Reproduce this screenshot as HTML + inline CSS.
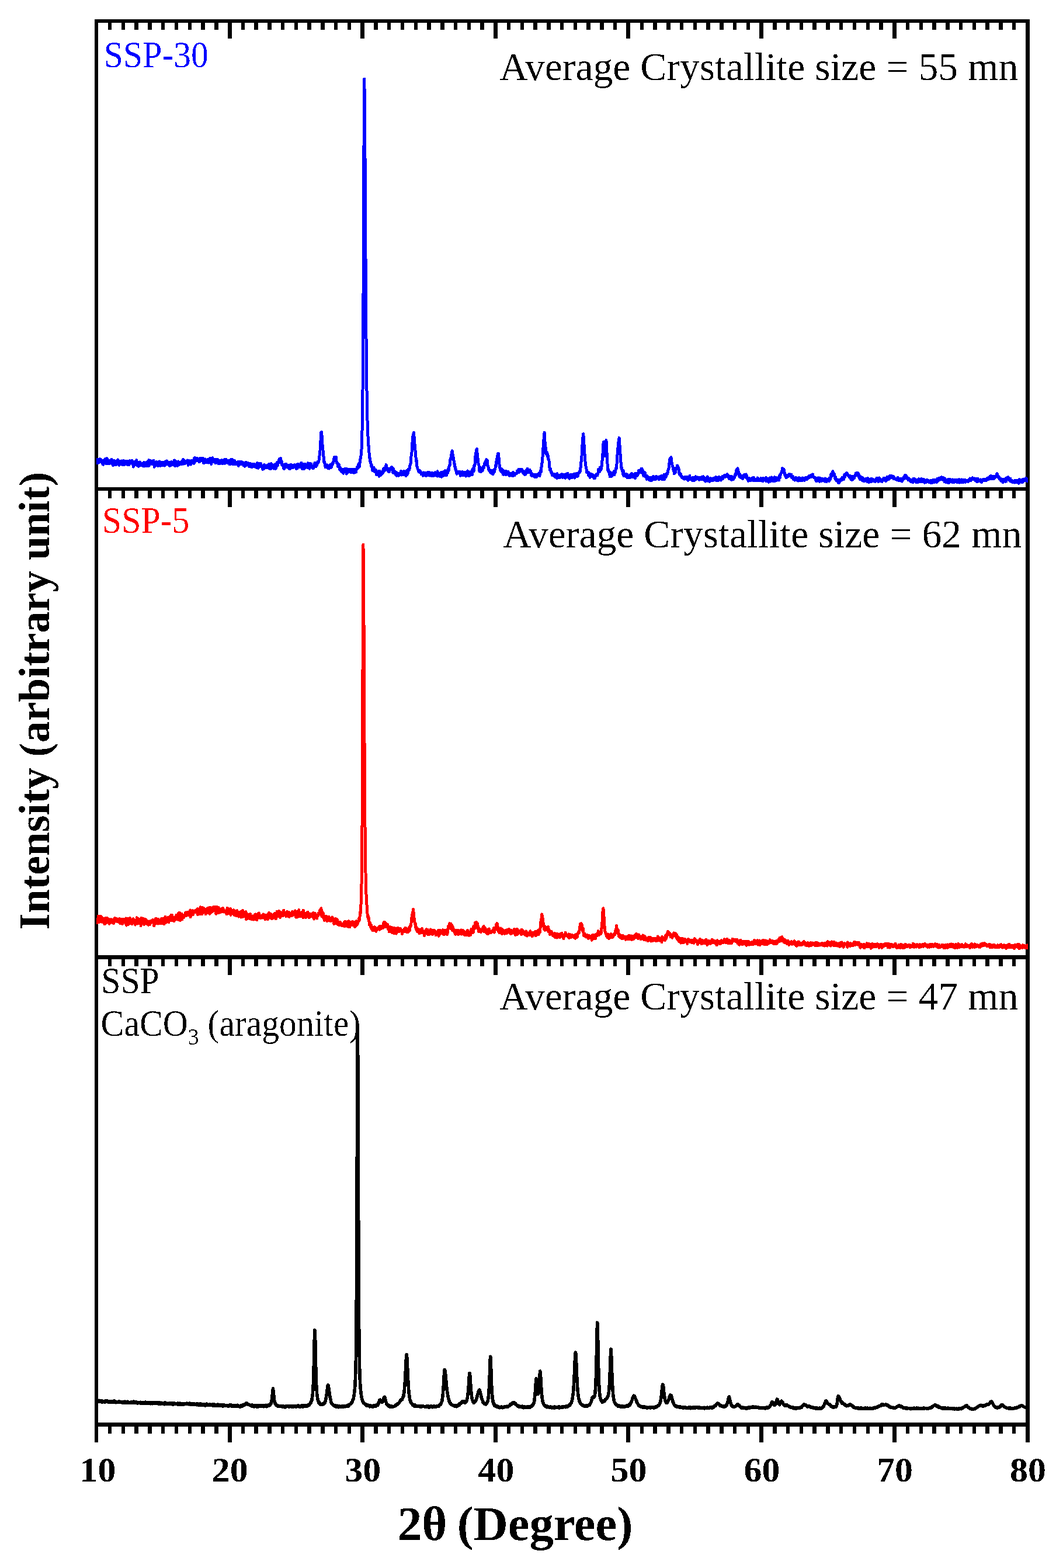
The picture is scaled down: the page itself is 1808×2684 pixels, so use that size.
<!DOCTYPE html>
<html lang="en"><head><meta charset="utf-8"><title>XRD patterns</title>
<style>
html,body{margin:0;padding:0;background:#fff;}
svg{display:block;}
text{font-family:"Liberation Serif",serif;}
.b{font-weight:bold;}
</style></head><body>
<svg width="1808" height="2684" viewBox="0 0 1808 2684">
<rect x="0" y="0" width="1808" height="2684" fill="#fff"/>
<g fill="#000" shape-rendering="crispEdges">
<rect x="162" y="33" width="1601" height="6"/><rect x="162" y="834" width="1601" height="6"/><rect x="162" y="1635" width="1601" height="7"/><rect x="162" y="2435" width="1601" height="7"/>
<rect x="162" y="33" width="6" height="2436"/><rect x="1756" y="33" width="7" height="2436"/>
<rect x="185" y="33" width="6" height="18"/><rect x="208" y="33" width="6" height="18"/><rect x="230" y="33" width="7" height="18"/><rect x="253" y="33" width="7" height="18"/><rect x="276" y="33" width="6" height="18"/><rect x="299" y="33" width="6" height="18"/><rect x="322" y="33" width="6" height="18"/><rect x="344" y="33" width="7" height="18"/><rect x="367" y="33" width="7" height="18"/><rect x="390" y="33" width="7" height="33"/><rect x="413" y="33" width="6" height="18"/><rect x="435" y="33" width="7" height="18"/><rect x="458" y="33" width="7" height="18"/><rect x="481" y="33" width="6" height="18"/><rect x="504" y="33" width="6" height="18"/><rect x="526" y="33" width="7" height="18"/><rect x="549" y="33" width="7" height="18"/><rect x="572" y="33" width="6" height="18"/><rect x="595" y="33" width="6" height="18"/><rect x="617" y="33" width="7" height="33"/><rect x="640" y="33" width="7" height="18"/><rect x="663" y="33" width="6" height="18"/><rect x="686" y="33" width="6" height="18"/><rect x="709" y="33" width="6" height="18"/><rect x="731" y="33" width="7" height="18"/><rect x="754" y="33" width="7" height="18"/><rect x="777" y="33" width="6" height="18"/><rect x="800" y="33" width="6" height="18"/><rect x="822" y="33" width="7" height="18"/><rect x="845" y="33" width="7" height="33"/><rect x="868" y="33" width="6" height="18"/><rect x="891" y="33" width="6" height="18"/><rect x="913" y="33" width="7" height="18"/><rect x="936" y="33" width="7" height="18"/><rect x="959" y="33" width="6" height="18"/><rect x="982" y="33" width="6" height="18"/><rect x="1004" y="33" width="7" height="18"/><rect x="1027" y="33" width="7" height="18"/><rect x="1050" y="33" width="6" height="18"/><rect x="1072" y="33" width="7" height="33"/><rect x="1096" y="33" width="6" height="18"/><rect x="1118" y="33" width="7" height="18"/><rect x="1141" y="33" width="7" height="18"/><rect x="1164" y="33" width="6" height="18"/><rect x="1187" y="33" width="6" height="18"/><rect x="1209" y="33" width="7" height="18"/><rect x="1232" y="33" width="7" height="18"/><rect x="1255" y="33" width="6" height="18"/><rect x="1278" y="33" width="6" height="18"/><rect x="1300" y="33" width="7" height="33"/><rect x="1323" y="33" width="7" height="18"/><rect x="1346" y="33" width="6" height="18"/><rect x="1369" y="33" width="6" height="18"/><rect x="1391" y="33" width="7" height="18"/><rect x="1414" y="33" width="7" height="18"/><rect x="1437" y="33" width="6" height="18"/><rect x="1460" y="33" width="6" height="18"/><rect x="1483" y="33" width="6" height="18"/><rect x="1505" y="33" width="7" height="18"/><rect x="1528" y="33" width="7" height="33"/><rect x="1551" y="33" width="6" height="18"/><rect x="1574" y="33" width="6" height="18"/><rect x="1596" y="33" width="7" height="18"/><rect x="1619" y="33" width="7" height="18"/><rect x="1642" y="33" width="6" height="18"/><rect x="1665" y="33" width="6" height="18"/><rect x="1687" y="33" width="7" height="18"/><rect x="1710" y="33" width="7" height="18"/><rect x="1733" y="33" width="6" height="18"/>
<rect x="185" y="834" width="6" height="19"/><rect x="208" y="834" width="6" height="19"/><rect x="230" y="834" width="7" height="19"/><rect x="253" y="834" width="7" height="19"/><rect x="276" y="834" width="6" height="19"/><rect x="299" y="834" width="6" height="19"/><rect x="322" y="834" width="6" height="19"/><rect x="344" y="834" width="7" height="19"/><rect x="367" y="834" width="7" height="19"/><rect x="390" y="834" width="7" height="34"/><rect x="413" y="834" width="6" height="19"/><rect x="435" y="834" width="7" height="19"/><rect x="458" y="834" width="7" height="19"/><rect x="481" y="834" width="6" height="19"/><rect x="504" y="834" width="6" height="19"/><rect x="526" y="834" width="7" height="19"/><rect x="549" y="834" width="7" height="19"/><rect x="572" y="834" width="6" height="19"/><rect x="595" y="834" width="6" height="19"/><rect x="617" y="834" width="7" height="34"/><rect x="640" y="834" width="7" height="19"/><rect x="663" y="834" width="6" height="19"/><rect x="686" y="834" width="6" height="19"/><rect x="709" y="834" width="6" height="19"/><rect x="731" y="834" width="7" height="19"/><rect x="754" y="834" width="7" height="19"/><rect x="777" y="834" width="6" height="19"/><rect x="800" y="834" width="6" height="19"/><rect x="822" y="834" width="7" height="19"/><rect x="845" y="834" width="7" height="34"/><rect x="868" y="834" width="6" height="19"/><rect x="891" y="834" width="6" height="19"/><rect x="913" y="834" width="7" height="19"/><rect x="936" y="834" width="7" height="19"/><rect x="959" y="834" width="6" height="19"/><rect x="982" y="834" width="6" height="19"/><rect x="1004" y="834" width="7" height="19"/><rect x="1027" y="834" width="7" height="19"/><rect x="1050" y="834" width="6" height="19"/><rect x="1072" y="834" width="7" height="34"/><rect x="1096" y="834" width="6" height="19"/><rect x="1118" y="834" width="7" height="19"/><rect x="1141" y="834" width="7" height="19"/><rect x="1164" y="834" width="6" height="19"/><rect x="1187" y="834" width="6" height="19"/><rect x="1209" y="834" width="7" height="19"/><rect x="1232" y="834" width="7" height="19"/><rect x="1255" y="834" width="6" height="19"/><rect x="1278" y="834" width="6" height="19"/><rect x="1300" y="834" width="7" height="34"/><rect x="1323" y="834" width="7" height="19"/><rect x="1346" y="834" width="6" height="19"/><rect x="1369" y="834" width="6" height="19"/><rect x="1391" y="834" width="7" height="19"/><rect x="1414" y="834" width="7" height="19"/><rect x="1437" y="834" width="6" height="19"/><rect x="1460" y="834" width="6" height="19"/><rect x="1483" y="834" width="6" height="19"/><rect x="1505" y="834" width="7" height="19"/><rect x="1528" y="834" width="7" height="34"/><rect x="1551" y="834" width="6" height="19"/><rect x="1574" y="834" width="6" height="19"/><rect x="1596" y="834" width="7" height="19"/><rect x="1619" y="834" width="7" height="19"/><rect x="1642" y="834" width="6" height="19"/><rect x="1665" y="834" width="6" height="19"/><rect x="1687" y="834" width="7" height="19"/><rect x="1710" y="834" width="7" height="19"/><rect x="1733" y="834" width="6" height="19"/>
<rect x="185" y="1635" width="6" height="19"/><rect x="208" y="1635" width="6" height="19"/><rect x="230" y="1635" width="7" height="19"/><rect x="253" y="1635" width="7" height="19"/><rect x="276" y="1635" width="6" height="19"/><rect x="299" y="1635" width="6" height="19"/><rect x="322" y="1635" width="6" height="19"/><rect x="344" y="1635" width="7" height="19"/><rect x="367" y="1635" width="7" height="19"/><rect x="390" y="1635" width="7" height="34"/><rect x="413" y="1635" width="6" height="19"/><rect x="435" y="1635" width="7" height="19"/><rect x="458" y="1635" width="7" height="19"/><rect x="481" y="1635" width="6" height="19"/><rect x="504" y="1635" width="6" height="19"/><rect x="526" y="1635" width="7" height="19"/><rect x="549" y="1635" width="7" height="19"/><rect x="572" y="1635" width="6" height="19"/><rect x="595" y="1635" width="6" height="19"/><rect x="617" y="1635" width="7" height="34"/><rect x="640" y="1635" width="7" height="19"/><rect x="663" y="1635" width="6" height="19"/><rect x="686" y="1635" width="6" height="19"/><rect x="709" y="1635" width="6" height="19"/><rect x="731" y="1635" width="7" height="19"/><rect x="754" y="1635" width="7" height="19"/><rect x="777" y="1635" width="6" height="19"/><rect x="800" y="1635" width="6" height="19"/><rect x="822" y="1635" width="7" height="19"/><rect x="845" y="1635" width="7" height="34"/><rect x="868" y="1635" width="6" height="19"/><rect x="891" y="1635" width="6" height="19"/><rect x="913" y="1635" width="7" height="19"/><rect x="936" y="1635" width="7" height="19"/><rect x="959" y="1635" width="6" height="19"/><rect x="982" y="1635" width="6" height="19"/><rect x="1004" y="1635" width="7" height="19"/><rect x="1027" y="1635" width="7" height="19"/><rect x="1050" y="1635" width="6" height="19"/><rect x="1072" y="1635" width="7" height="34"/><rect x="1096" y="1635" width="6" height="19"/><rect x="1118" y="1635" width="7" height="19"/><rect x="1141" y="1635" width="7" height="19"/><rect x="1164" y="1635" width="6" height="19"/><rect x="1187" y="1635" width="6" height="19"/><rect x="1209" y="1635" width="7" height="19"/><rect x="1232" y="1635" width="7" height="19"/><rect x="1255" y="1635" width="6" height="19"/><rect x="1278" y="1635" width="6" height="19"/><rect x="1300" y="1635" width="7" height="34"/><rect x="1323" y="1635" width="7" height="19"/><rect x="1346" y="1635" width="6" height="19"/><rect x="1369" y="1635" width="6" height="19"/><rect x="1391" y="1635" width="7" height="19"/><rect x="1414" y="1635" width="7" height="19"/><rect x="1437" y="1635" width="6" height="19"/><rect x="1460" y="1635" width="6" height="19"/><rect x="1483" y="1635" width="6" height="19"/><rect x="1505" y="1635" width="7" height="19"/><rect x="1528" y="1635" width="7" height="34"/><rect x="1551" y="1635" width="6" height="19"/><rect x="1574" y="1635" width="6" height="19"/><rect x="1596" y="1635" width="7" height="19"/><rect x="1619" y="1635" width="7" height="19"/><rect x="1642" y="1635" width="6" height="19"/><rect x="1665" y="1635" width="6" height="19"/><rect x="1687" y="1635" width="7" height="19"/><rect x="1710" y="1635" width="7" height="19"/><rect x="1733" y="1635" width="6" height="19"/>
<rect x="185" y="2435" width="6" height="19"/><rect x="208" y="2435" width="6" height="19"/><rect x="230" y="2435" width="7" height="19"/><rect x="253" y="2435" width="7" height="19"/><rect x="276" y="2435" width="6" height="19"/><rect x="299" y="2435" width="6" height="19"/><rect x="322" y="2435" width="6" height="19"/><rect x="344" y="2435" width="7" height="19"/><rect x="367" y="2435" width="7" height="19"/><rect x="390" y="2435" width="7" height="34"/><rect x="413" y="2435" width="6" height="19"/><rect x="435" y="2435" width="7" height="19"/><rect x="458" y="2435" width="7" height="19"/><rect x="481" y="2435" width="6" height="19"/><rect x="504" y="2435" width="6" height="19"/><rect x="526" y="2435" width="7" height="19"/><rect x="549" y="2435" width="7" height="19"/><rect x="572" y="2435" width="6" height="19"/><rect x="595" y="2435" width="6" height="19"/><rect x="617" y="2435" width="7" height="34"/><rect x="640" y="2435" width="7" height="19"/><rect x="663" y="2435" width="6" height="19"/><rect x="686" y="2435" width="6" height="19"/><rect x="709" y="2435" width="6" height="19"/><rect x="731" y="2435" width="7" height="19"/><rect x="754" y="2435" width="7" height="19"/><rect x="777" y="2435" width="6" height="19"/><rect x="800" y="2435" width="6" height="19"/><rect x="822" y="2435" width="7" height="19"/><rect x="845" y="2435" width="7" height="34"/><rect x="868" y="2435" width="6" height="19"/><rect x="891" y="2435" width="6" height="19"/><rect x="913" y="2435" width="7" height="19"/><rect x="936" y="2435" width="7" height="19"/><rect x="959" y="2435" width="6" height="19"/><rect x="982" y="2435" width="6" height="19"/><rect x="1004" y="2435" width="7" height="19"/><rect x="1027" y="2435" width="7" height="19"/><rect x="1050" y="2435" width="6" height="19"/><rect x="1072" y="2435" width="7" height="34"/><rect x="1096" y="2435" width="6" height="19"/><rect x="1118" y="2435" width="7" height="19"/><rect x="1141" y="2435" width="7" height="19"/><rect x="1164" y="2435" width="6" height="19"/><rect x="1187" y="2435" width="6" height="19"/><rect x="1209" y="2435" width="7" height="19"/><rect x="1232" y="2435" width="7" height="19"/><rect x="1255" y="2435" width="6" height="19"/><rect x="1278" y="2435" width="6" height="19"/><rect x="1300" y="2435" width="7" height="34"/><rect x="1323" y="2435" width="7" height="19"/><rect x="1346" y="2435" width="6" height="19"/><rect x="1369" y="2435" width="6" height="19"/><rect x="1391" y="2435" width="7" height="19"/><rect x="1414" y="2435" width="7" height="19"/><rect x="1437" y="2435" width="6" height="19"/><rect x="1460" y="2435" width="6" height="19"/><rect x="1483" y="2435" width="6" height="19"/><rect x="1505" y="2435" width="7" height="19"/><rect x="1528" y="2435" width="7" height="34"/><rect x="1551" y="2435" width="6" height="19"/><rect x="1574" y="2435" width="6" height="19"/><rect x="1596" y="2435" width="7" height="19"/><rect x="1619" y="2435" width="7" height="19"/><rect x="1642" y="2435" width="6" height="19"/><rect x="1665" y="2435" width="6" height="19"/><rect x="1687" y="2435" width="7" height="19"/><rect x="1710" y="2435" width="7" height="19"/><rect x="1733" y="2435" width="6" height="19"/>
</g>
<defs><filter id="bin" x="-5%" y="-5%" width="110%" height="110%" color-interpolation-filters="sRGB"><feComponentTransfer><feFuncA type="discrete" tableValues="0 0 1 1"/></feComponentTransfer></filter><filter id="thin" x="-5%" y="-5%" width="110%" height="110%" color-interpolation-filters="sRGB"><feComponentTransfer><feFuncA type="discrete" tableValues="0 0 0 1 1"/></feComponentTransfer></filter></defs>

<g font-size="63.5px" filter="url(#thin)">
<text transform="translate(177.8 114.6) scale(0.94 1)" fill="#0000ff">SSP-30</text>
<text transform="translate(175 911.6) scale(0.94 1)" fill="#ff0000">SSP-5</text>
<text transform="translate(173.2 1700) scale(0.94 1)" fill="#000">SSP</text>
<text transform="translate(172.6 1773) scale(0.94 1)" fill="#000">CaCO<tspan font-size="40px" dy="14.5">3</tspan><tspan dy="-14.5"> (aragonite)</tspan></text>
</g>
<g font-size="67.7px" fill="#000" text-anchor="end" filter="url(#thin)">
<text x="1743.5" y="136.5">Average Crystallite size = 55 mn</text>
<text x="1749.5" y="936.5">Average Crystallite size = 62 mn</text>
<text x="1743.5" y="1728">Average Crystallite size = 47 mn</text>
</g>
<g class="b" font-size="59.5px" fill="#000" text-anchor="middle" filter="url(#bin)">
<text transform="translate(167.5 2535.7) scale(1.04 1)">10</text>
<text transform="translate(393.8 2535.7) scale(1.04 1)">20</text>
<text transform="translate(621.2 2535.7) scale(1.04 1)">30</text>
<text transform="translate(849.5 2535.7) scale(1.04 1)">40</text>
<text transform="translate(1076.5 2535.7) scale(1.04 1)">50</text>
<text transform="translate(1304.5 2535.7) scale(1.04 1)">60</text>
<text transform="translate(1532 2535.7) scale(1.04 1)">70</text>
<text transform="translate(1760 2535.7) scale(1.04 1)">80</text>
</g>
<g class="b" font-size="82.5px" fill="#000" filter="url(#bin)">
<text x="681" y="2636">2θ</text>
<text x="1083.5" y="2636" text-anchor="end">(Degree)</text>
</g>
<text class="b" font-size="73.5px" filter="url(#bin)" transform="translate(83.9 1199.6) rotate(-90)" text-anchor="middle" fill="#000">Intensity (arbitrary unit)</text>
<clipPath id="cl"><rect x="165" y="0" width="1595" height="2684"/></clipPath>
<g fill="none" stroke-linejoin="round" stroke-linecap="butt" shape-rendering="crispEdges" clip-path="url(#cl)">
<path stroke="#0000ff" stroke-width="5" d="M165 794.9L165.5 789.4L165.9 787.9L166.4 789.4L166.8 786.1L167.3 790.7L167.7 791.9L168.2 787.9L168.6 792.1L169.1 788.7L169.6 790.3L170 787.6L170.5 787.5L170.9 785.7L171.4 790.2L171.8 789L172.3 789.1L172.7 786.8L173.2 786.8L173.7 788.2L174.1 791.1L174.6 790.7L175 788.2L175.5 790.7L175.9 794.5L176.4 790.3L176.8 795.3L177.3 791.2L177.8 793.6L178.2 788.8L178.7 793.2L179.1 787.2L179.6 790.9L180 789.4L180.5 785.2L180.9 786.8L181.4 793.3L181.9 791.7L182.3 793.8L182.8 791L183.2 784.6L183.7 791.2L184.1 789.1L184.6 789.3L185 789.5L185.5 788.7L186 788.2L186.4 794L186.9 791.9L187.3 789.1L187.8 789.8L188.2 793.4L188.7 791.9L189.1 791.5L189.6 787.8L190.1 789.9L190.5 788.1L191 786.1L191.4 793.4L191.9 790.3L192.3 790.1L192.8 788.7L193.2 793.2L193.7 796.7L194.2 792.8L194.6 793.7L195.1 788.2L195.5 791.9L196 792L196.4 795.3L196.9 791.5L197.3 789.1L197.8 791.4L198.3 790.5L198.7 795.4L199.2 793.4L199.6 792.6L200.1 792.2L200.5 794L201 790.6L201.4 789.5L201.9 787L202.4 795L202.8 793.2L203.3 793.6L203.7 792.1L204.2 796.3L204.6 789.6L205.1 795.2L205.5 790L206 791L206.5 789.1L206.9 792.5L207.4 791.5L207.8 793.4L208.3 790.8L208.7 788.8L209.2 793.9L209.6 795.7L210.1 794.4L210.6 792.4L211 793.6L211.5 788.2L211.9 791.7L212.4 795.6L212.8 793.8L213.3 790.5L213.7 794.9L214.2 792.4L214.7 794.7L215.1 789.2L215.6 791.5L216 793.7L216.5 793.7L216.9 794.4L217.4 793L217.8 792.5L218.3 794.2L218.8 795.3L219.2 789.2L219.7 792.2L220.1 792.5L220.6 793.5L221 795.7L221.5 789.7L221.9 794.4L222.4 788.7L222.9 791.2L223.3 791.8L223.8 792.4L224.2 791.5L224.7 791.8L225.1 792.2L225.6 792.4L226 788.4L226.5 789.5L227 792L227.4 794.5L227.9 795.7L228.3 799.1L228.8 793.4L229.2 791.1L229.7 793.6L230.1 794.9L230.6 793.5L231.1 790.5L231.5 792.9L232 793.1L232.4 789.6L232.9 790.1L233.3 796.2L233.8 787.5L234.2 793.6L234.7 792.5L235.2 796.7L235.6 794.7L236.1 791L236.5 796.4L237 791.8L237.4 798.3L237.9 797.4L238.3 793L238.8 795.2L239.3 793.7L239.7 791L240.2 795.9L240.6 794.3L241.1 795.4L241.5 796L242 796.8L242.4 795.9L242.9 793.1L243.4 793.5L243.8 794.3L244.3 793L244.7 792.7L245.2 798L245.6 794.6L246.1 798.1L246.5 791.4L247 793.2L247.5 792.2L247.9 792.4L248.4 792.6L248.8 793L249.3 792.3L249.7 797.9L250.2 795.1L250.6 791.5L251.1 792L251.6 795.3L252 794.8L252.5 791.9L252.9 795.7L253.4 789.8L253.8 792.2L254.3 797.7L254.7 787.6L255.2 792.9L255.7 795.9L256.1 793.1L256.6 791.5L257 791.2L257.5 788.2L257.9 790.1L258.4 793.6L258.8 792L259.3 793.4L259.8 793.1L260.2 794.2L260.7 789.3L261.1 792.7L261.6 792.6L262 792.7L262.5 791.3L262.9 788L263.4 795.1L263.9 795.5L264.3 799.3L264.8 795.3L265.2 797.6L265.7 795L266.1 792.6L266.6 794.8L267 790.6L267.5 794.1L268 793.3L268.4 790.9L268.9 796.6L269.3 796.3L269.8 794.7L270.2 795.6L270.7 797.7L271.1 793.2L271.6 790.2L272.1 791.2L272.5 795.3L273 794.1L273.4 789.9L273.9 796.9L274.3 794.1L274.8 797.6L275.2 796.4L275.7 792.5L276.2 793.8L276.6 791.8L277.1 791.5L277.5 792.8L278 794.8L278.4 797L278.9 791.4L279.3 795.4L279.8 793.7L280.3 793.1L280.7 796.4L281.2 792.7L281.6 797.1L282.1 792.8L282.5 791.3L283 795.6L283.4 790L283.9 790.7L284.4 793.2L284.8 793.7L285.3 793L285.7 788.8L286.2 790.3L286.6 795L287.1 795L287.5 791.2L288 794.4L288.5 794.2L288.9 796.2L289.4 791.9L289.8 797.3L290.3 793L290.7 797.3L291.2 796L291.6 791.2L292.1 792.9L292.6 794.4L293 796.3L293.5 790.3L293.9 792.5L294.4 795.3L294.8 794.9L295.3 791.1L295.7 791.5L296.2 794.8L296.7 791.2L297.1 794.3L297.6 796L298 793.8L298.5 787.9L298.9 796.7L299.4 796.6L299.8 797.3L300.3 795.9L300.8 789.6L301.2 797.2L301.7 794.5L302.1 795.9L302.6 793.1L303 792.8L303.5 792.8L303.9 797.3L304.4 793.9L304.9 792.7L305.3 789.9L305.8 794.2L306.2 793L306.7 793.3L307.1 795.3L307.6 794.6L308 792.7L308.5 793.2L309 792.8L309.4 794.3L309.9 794.1L310.3 792.7L310.8 790.2L311.2 794.3L311.7 794.4L312.1 789.4L312.6 793L313.1 791L313.5 786.4L314 791.7L314.4 794.1L314.9 789.8L315.3 789.8L315.8 794L316.2 788.7L316.7 789L317.2 790.5L317.6 792.8L318.1 792.7L318.5 789.8L319 790.2L319.4 791.2L319.9 789.9L320.3 788.7L320.8 788L321.3 792.4L321.7 790L322.2 796.2L322.6 792L323.1 788.5L323.5 790.3L324 791.1L324.4 791.2L324.9 791.2L325.4 791.2L325.8 789.6L326.3 791.5L326.7 795.2L327.2 788.7L327.6 788.7L328.1 791.4L328.5 792.6L329 791.5L329.5 792.4L329.9 789.2L330.4 788.7L330.8 790.8L331.3 790.8L331.7 793.2L332.2 792.8L332.6 784.4L333.1 790.8L333.6 787.1L334 783.5L334.5 789.6L334.9 788.2L335.4 787.6L335.8 785.3L336.3 785.9L336.7 787.8L337.2 784.5L337.7 787.9L338.1 788.5L338.6 787.9L339 789L339.5 788.1L339.9 785.4L340.4 785.8L340.8 788.7L341.3 790.7L341.8 788.8L342.2 787.2L342.7 788.8L343.1 784L343.6 786L344 787.6L344.5 788.4L344.9 787.7L345.4 787.9L345.9 785.7L346.3 787.2L346.8 789.2L347.2 784.1L347.7 785.7L348.1 787.8L348.6 792.4L349 790.4L349.5 792.6L350 792.1L350.4 787.7L350.9 788.7L351.3 786L351.8 791.8L352.2 790.7L352.7 790.4L353.1 790.6L353.6 790.1L354.1 789.5L354.5 789.7L355 792L355.4 787.1L355.9 786.5L356.3 789.1L356.8 792L357.2 789.7L357.7 788.7L358.2 791.2L358.6 789.5L359.1 784.6L359.5 786.8L360 784.2L360.4 788.7L360.9 788.2L361.3 790.4L361.8 794.5L362.3 787.9L362.7 789.3L363.2 788.4L363.6 783.7L364.1 787.5L364.5 787.6L365 790L365.4 787.3L365.9 786.2L366.3 790.8L366.8 789.3L367.3 787.2L367.7 787.6L368.2 788.7L368.6 791.4L369.1 792.9L369.5 786.3L370 792.3L370.4 789.6L370.9 790.4L371.4 791.9L371.8 787.2L372.3 791.6L372.7 786.3L373.2 788.4L373.6 787.5L374.1 793.7L374.5 793.6L375 791.4L375.5 790.8L375.9 788.3L376.4 793.8L376.8 793L377.3 791.8L377.7 789.4L378.2 788.8L378.6 789.5L379.1 792.9L379.6 787.4L380 790L380.5 793.7L380.9 791.9L381.4 793.9L381.8 790.7L382.3 790.8L382.7 793.1L383.2 791.4L383.7 790.6L384.1 788.6L384.6 786.2L385 793.4L385.5 788.8L385.9 788L386.4 792L386.8 787.7L387.3 786.6L387.8 788.5L388.2 789.8L388.7 790.6L389.1 791.2L389.6 792.3L390 789.7L390.5 790.8L390.9 789.7L391.4 788.4L391.9 791L392.3 790.9L392.8 794.6L393.2 791.7L393.7 788.6L394.1 791.8L394.6 789.9L395 794.4L395.5 786.6L396 789.2L396.4 789.2L396.9 791.2L397.3 790.7L397.8 787.3L398.2 786.7L398.7 791.7L399.1 794.9L399.6 794.9L400.1 790.6L400.5 792.7L401 789.6L401.4 788.3L401.9 794.8L402.3 793.6L402.8 791.2L403.2 791.2L403.7 794.4L404.2 793.1L404.6 791.6L405.1 793.1L405.5 792.5L406 791.7L406.4 791L406.9 795L407.3 791.8L407.8 790.2L408.3 797.4L408.7 796.1L409.2 794.5L409.6 793.2L410.1 793.9L410.5 790.1L411 793.6L411.4 794.3L411.9 793.3L412.4 794.9L412.8 792.1L413.3 794.4L413.7 790.4L414.2 794.1L414.6 792.8L415.1 791.1L415.5 793.4L416 794.5L416.5 793.1L416.9 796.8L417.4 793L417.8 796.9L418.3 796.5L418.7 793.4L419.2 798.3L419.6 791.7L420.1 796.3L420.6 795.3L421 797L421.5 791.5L421.9 792.5L422.4 793.4L422.8 795.5L423.3 795.7L423.7 795.6L424.2 795L424.7 794L425.1 792.5L425.6 794.8L426 797.1L426.5 798.3L426.9 794.8L427.4 798.6L427.8 793L428.3 798L428.8 793.7L429.2 796.9L429.7 794.2L430.1 794.2L430.6 795.3L431 799.9L431.5 795.1L431.9 798.2L432.4 797.2L432.9 797.6L433.3 797.7L433.8 798.5L434.2 794.3L434.7 797.3L435.1 798L435.6 795.9L436 798.2L436.5 795L437 799.2L437.4 795.9L437.9 797L438.3 799.6L438.8 800.3L439.2 796.5L439.7 796.4L440.1 800.3L440.6 792.5L441.1 801.2L441.5 801.2L442 795.7L442.4 801.1L442.9 799.2L443.3 799.5L443.8 793.1L444.2 797.4L444.7 798.2L445.2 797.7L445.6 797.9L446.1 798.2L446.5 793.4L447 798.5L447.4 797.4L447.9 798.9L448.3 798L448.8 799.2L449.3 800L449.7 803.5L450.2 797.4L450.6 803.3L451.1 798.7L451.5 797.2L452 795.9L452.4 801.3L452.9 795.7L453.4 801.3L453.8 800L454.3 797.8L454.7 797.6L455.2 800.3L455.6 799.5L456.1 800.8L456.5 799.1L457 797.9L457.5 800.3L457.9 796.2L458.4 801L458.8 799.1L459.3 796.3L459.7 796.6L460.2 798.1L460.6 794.6L461.1 802.1L461.6 801.1L462 796.2L462.5 798.5L462.9 802.7L463.4 799.6L463.8 796.3L464.3 793.6L464.7 794.8L465.2 801.4L465.7 799.3L466.1 795.4L466.6 800.1L467 797.6L467.5 796.8L467.9 797.1L468.4 797.2L468.8 802.1L469.3 795.9L469.8 797.1L470.2 801.1L470.7 801.4L471.1 795.4L471.6 802.4L472 800L472.5 793.8L472.9 801.3L473.4 793.3L473.9 798L474.3 793.3L474.8 791.3L475.2 796.9L475.7 795.1L476.1 793L476.6 792.6L477 790.7L477.5 789L478 785.8L478.4 788.6L478.9 786.5L479.3 785.5L479.8 785L480.2 786.5L480.7 784.7L481.1 788.8L481.6 788.5L482.1 794.9L482.5 790.7L483 792.8L483.4 794.6L483.9 797.1L484.3 796.8L484.8 796.1L485.2 801.4L485.7 796.6L486.2 797.6L486.6 802.4L487.1 795L487.5 799.4L488 798.3L488.4 794.3L488.9 795.9L489.3 799.4L489.8 794.1L490.3 797.1L490.7 799.7L491.2 797L491.6 798.2L492.1 796L492.5 796.2L493 796.2L493.4 796.8L493.9 799.1L494.4 797.8L494.8 802.2L495.3 798.9L495.7 798.3L496.2 802.9L496.6 797.4L497.1 795.7L497.5 798L498 795.1L498.5 798.8L498.9 800.8L499.4 799.1L499.8 796.6L500.3 797.2L500.7 798.7L501.2 800.3L501.6 796.6L502.1 796.6L502.6 800.1L503 798L503.5 798.3L503.9 798.6L504.4 795.7L504.8 797.1L505.3 799.9L505.7 797.1L506.2 797L506.7 798.1L507.1 798.3L507.6 802.8L508 795.5L508.5 797.7L508.9 802.1L509.4 797.5L509.8 798.3L510.3 794.1L510.8 799.7L511.2 799.5L511.7 799.4L512.1 797.1L512.6 798.3L513 797.3L513.5 799.5L513.9 797.5L514.4 799.3L514.9 794.4L515.3 796.8L515.8 792.2L516.2 797.2L516.7 799.3L517.1 797L517.6 802.9L518 795.3L518.5 796.8L519 795.4L519.4 796.4L519.9 796.5L520.3 794.2L520.8 795.3L521.2 802.3L521.7 797L522.1 799.7L522.6 794.6L523.1 797.3L523.5 798.8L524 797.2L524.4 796.4L524.9 797.1L525.3 797.6L525.8 799.5L526.2 800.3L526.7 794.5L527.2 792.8L527.6 797.1L528.1 797.5L528.5 799.2L529 800L529.4 795.9L529.9 802.2L530.3 798.1L530.8 793.4L531.3 799.8L531.7 798.2L532.2 798.3L532.6 793.9L533.1 796.9L533.5 798L534 797.3L534.4 799.3L534.9 800.6L535.4 801.2L535.8 800.5L536.3 797.3L536.7 801.6L537.2 798.2L537.6 799.5L538.1 796.9L538.5 794.2L539 792.1L539.5 797.6L539.9 795.5L540.4 796.9L540.8 798.8L541.3 793L541.7 792.2L542.2 796.5L542.6 796.4L543.1 794.4L543.6 793.3L544 790.1L544.5 792.6L544.9 789.9L545.4 791.1L545.8 790.3L546.3 784.2L546.7 783.1L547.2 778.3L547.7 774.4L548.1 770.2L548.6 761.4L549 754.3L549.5 747.9L549.9 740.2L550.4 739.4L550.8 742.1L551.3 749.1L551.8 756L552.2 765.5L552.7 764.7L553.1 773.3L553.6 774.6L554 781.7L554.5 782.6L554.9 791.7L555.4 792.9L555.9 790.4L556.3 794.9L556.8 796.8L557.2 799.9L557.7 798.5L558.1 797.4L558.6 797.4L559 799.4L559.5 799L560 797.5L560.4 796L560.9 801.4L561.3 797.5L561.8 798.7L562.2 801.2L562.7 799.3L563.1 802.1L563.6 796.9L564.1 801.2L564.5 796.4L565 795.8L565.4 796.7L565.9 799.1L566.3 797L566.8 795L567.2 800.4L567.7 794.9L568.2 796.1L568.6 796.1L569.1 793.5L569.5 794.4L570 793.7L570.4 790.8L570.9 792L571.3 786.9L571.8 784.5L572.3 786.1L572.7 782.5L573.2 785L573.6 783.7L574.1 783.2L574.5 786.4L575 787.4L575.4 782.3L575.9 788.4L576.4 791L576.8 793.3L577.3 792.4L577.7 792.4L578.2 796.5L578.6 798.9L579.1 793.7L579.5 795.8L580 798.7L580.5 795.4L580.9 799.9L581.4 803.7L581.8 799.8L582.3 802.9L582.7 800.9L583.2 804.2L583.6 805L584.1 806.7L584.6 804.1L585 806.5L585.5 805.2L585.9 803.4L586.4 808L586.8 803.4L587.3 805.3L587.7 810.3L588.2 807.1L588.7 803.4L589.1 806L589.6 804.2L590 805.2L590.5 802.2L590.9 806.2L591.4 802.3L591.8 806.7L592.3 806.8L592.8 807.9L593.2 811.1L593.7 802.4L594.1 803.5L594.6 804L595 805L595.5 808.4L595.9 805.6L596.4 805.1L596.9 803.9L597.3 805.1L597.8 805.5L598.2 806.3L598.7 803.3L599.1 806.4L599.6 807.9L600 807.4L600.5 803.8L601 808.5L601.4 808.4L601.9 807.3L602.3 803.8L602.8 803.2L603.2 806.6L603.7 804.1L604.1 803.4L604.6 808.4L605.1 808.3L605.5 807.6L606 809.1L606.4 808L606.9 803.2L607.3 808.3L607.8 805.8L608.2 806.4L608.7 808.7L609.2 805.9L609.6 808.2L610.1 804.5L610.5 803.2L611 802.1L611.4 802.9L611.9 798.9L612.3 802L612.8 801.3L613.3 799.6L613.7 795L614.2 794.2L614.6 799.5L615.1 794.5L615.5 798.2L616 791.7L616.4 792L616.9 785.4L617.4 784.1L617.8 781.3L618.3 778.4L618.7 774.8L619.2 765.2L619.6 748.4L620.1 735L620.5 709L621 668.4L621.5 611.8L621.9 530L622.4 416.5L622.8 295.9L623.3 187L623.7 135.4L624.2 161.2L624.6 213.6L625.1 283.2L625.6 366.1L626 440L626.5 511.7L626.9 570.1L627.4 615.7L627.8 657.4L628.3 686.9L628.7 709.5L629.2 725.7L629.7 739.9L630.1 749.2L630.6 762.5L631 762L631.5 771.7L631.9 774.5L632.4 776.8L632.8 784.4L633.3 783.7L633.8 790.7L634.2 789.7L634.7 792.7L635.1 793.4L635.6 796.7L636 798.7L636.5 796.8L636.9 798.9L637.4 803.9L637.9 799.6L638.3 805.8L638.8 801.6L639.2 802L639.7 800.1L640.1 802.6L640.6 801.2L641 804.4L641.5 807.7L642 806.5L642.4 805.7L642.9 805.1L643.3 806.3L643.8 804.9L644.2 805.6L644.7 813L645.1 809.4L645.6 807L646.1 810.7L646.5 812.7L647 808.1L647.4 809.4L647.9 807L648.3 806.3L648.8 813L649.2 815.2L649.7 808.4L650.2 806.5L650.6 813.3L651.1 812.5L651.5 811.2L652 813.4L652.4 809.3L652.9 810.6L653.3 811.6L653.8 808.9L654.3 810.5L654.7 808.6L655.2 809.8L655.6 808.7L656.1 803.4L656.5 807.4L657 803.3L657.4 803.7L657.9 801L658.4 805.5L658.8 802L659.3 800.9L659.7 803.7L660.2 801.9L660.6 799.6L661.1 795.5L661.5 802L662 800.5L662.5 800.9L662.9 804.1L663.4 801.7L663.8 803.4L664.3 806L664.7 805.5L665.2 802.9L665.6 807.4L666.1 806.5L666.6 807.8L667 803L667.5 803.1L667.9 804.4L668.4 802.5L668.8 801.4L669.3 800.6L669.7 800.2L670.2 799.6L670.7 800.1L671.1 803L671.6 802.2L672 800.6L672.5 804.7L672.9 809.1L673.4 809.2L673.8 802.5L674.3 805.7L674.8 809.9L675.2 808.9L675.7 809.3L676.1 809.2L676.6 810L677 807.9L677.5 813L677.9 808.3L678.4 810.4L678.9 814.3L679.3 813.4L679.8 811.1L680.2 811.2L680.7 809.9L681.1 810.2L681.6 810.8L682 814.3L682.5 810.4L683 812.6L683.4 812.4L683.9 812.3L684.3 810.8L684.8 813L685.2 811.8L685.7 811.6L686.1 810.4L686.6 806.7L687.1 813L687.5 813L688 810.2L688.4 810.8L688.9 811.8L689.3 809L689.8 812.6L690.2 812.6L690.7 812.8L691.2 812.8L691.6 806.6L692.1 811.8L692.5 809.5L693 812.8L693.4 812.5L693.9 811.8L694.3 809.7L694.8 814.7L695.3 809.3L695.7 806.9L696.2 811.1L696.6 805.5L697.1 812.5L697.5 810.1L698 810.4L698.4 809.3L698.9 807.3L699.4 802.8L699.8 803.6L700.3 805.1L700.7 802.3L701.2 802.1L701.6 798.1L702.1 795.8L702.5 795.7L703 793.8L703.5 788.7L703.9 782.5L704.4 776.4L704.8 779.2L705.3 766.6L705.7 761.1L706.2 755.2L706.6 752.9L707.1 744.5L707.6 744.1L708 742.4L708.5 740.4L708.9 746.5L709.4 748.3L709.8 756.4L710.3 764.5L710.7 768.5L711.2 772.7L711.7 779L712.1 784.2L712.6 789.3L713 787.1L713.5 791L713.9 798.5L714.4 799.3L714.8 801.2L715.3 803.1L715.8 803.4L716.2 803.8L716.7 805.8L717.1 807.7L717.6 807.6L718 807.4L718.5 805.5L718.9 808.7L719.4 806L719.9 807.4L720.3 809.4L720.8 809.6L721.2 811.9L721.7 811.7L722.1 811L722.6 809.4L723 810.2L723.5 809.9L724 814.3L724.4 811.7L724.9 809.4L725.3 809L725.8 813.6L726.2 809.2L726.7 811.9L727.1 811.6L727.6 813.6L728.1 809.4L728.5 812.4L729 811.9L729.4 813.2L729.9 814.4L730.3 811.8L730.8 811.1L731.2 813.5L731.7 808.7L732.2 812.1L732.6 809.6L733.1 809.2L733.5 808.4L734 808.3L734.4 813.6L734.9 813.7L735.3 812.1L735.8 814.1L736.3 812L736.7 810.9L737.2 809.6L737.6 813.6L738.1 813.7L738.5 814.7L739 810.3L739.4 811.4L739.9 809.1L740.4 814.4L740.8 813.5L741.3 813.1L741.7 811.9L742.2 811.7L742.6 811.2L743.1 814.3L743.5 810.6L744 813.9L744.5 812.6L744.9 809.8L745.4 808.9L745.8 810.3L746.3 811.9L746.7 809.2L747.2 813.3L747.6 814.4L748.1 813.1L748.6 808.3L749 806.9L749.5 813.7L749.9 815L750.4 811L750.8 812.9L751.3 811.2L751.7 810.4L752.2 813.9L752.7 810.6L753.1 813.5L753.6 815.3L754 811.4L754.5 815.6L754.9 808.8L755.4 813.5L755.8 811.5L756.3 816.3L756.8 811.5L757.2 809.6L757.7 814.7L758.1 807.9L758.6 812L759 809.4L759.5 813.9L759.9 810.6L760.4 812.6L760.9 810.5L761.3 808.1L761.8 805.7L762.2 814L762.7 810.5L763.1 807.3L763.6 808.9L764 811.4L764.5 805.8L764.9 813.4L765.4 807.6L765.9 806.9L766.3 809.8L766.8 806.8L767.2 803.4L767.7 806.5L768.1 804.3L768.6 804.4L769 798.4L769.5 796L770 797.6L770.4 792.9L770.9 786.5L771.3 787L771.8 786.5L772.2 780.6L772.7 782.1L773.1 776.1L773.6 775.4L774.1 771.6L774.5 773.9L775 776.7L775.4 780.6L775.9 782.6L776.3 787.4L776.8 783.5L777.2 791.1L777.7 793.5L778.2 794L778.6 798.3L779.1 798.6L779.5 802.8L780 802.5L780.4 805.5L780.9 803.5L781.3 809L781.8 807.8L782.3 811.3L782.7 807.7L783.2 807.4L783.6 809.1L784.1 808.1L784.5 807.1L785 809.6L785.4 809.6L785.9 808.5L786.4 809.3L786.8 808.2L787.3 810.7L787.7 807.6L788.2 814.2L788.6 810.7L789.1 812.7L789.5 808.2L790 811.6L790.5 810.6L790.9 813.1L791.4 812.9L791.8 807.6L792.3 813.5L792.7 807.9L793.2 814L793.6 811L794.1 808.6L794.6 812.7L795 811.3L795.5 809.1L795.9 809.6L796.4 812.2L796.8 808.2L797.3 809.3L797.7 815.1L798.2 809.5L798.7 811.9L799.1 812L799.6 813.1L800 812.8L800.5 806L800.9 809.8L801.4 813.3L801.8 809.1L802.3 814.5L802.8 811.1L803.2 807.9L803.7 811.6L804.1 814.4L804.6 808.7L805 811.2L805.5 807.9L805.9 808.4L806.4 809.7L806.9 810.3L807.3 809.6L807.8 809L808.2 813L808.7 805.4L809.1 803.2L809.6 807.6L810 806L810.5 801.4L811 806.8L811.4 800L811.9 796.4L812.3 797.8L812.8 795.3L813.2 795.3L813.7 783.3L814.1 779.7L814.6 777.7L815.1 773.6L815.5 771.8L816 769.4L816.4 768.5L816.9 773.4L817.3 779.4L817.8 783.7L818.2 784.7L818.7 791L819.2 794L819.6 795L820.1 797.6L820.5 800.4L821 806.6L821.4 803.3L821.9 802L822.3 804.2L822.8 803.8L823.3 807.7L823.7 800.8L824.2 803.1L824.6 807L825.1 805.9L825.5 804.8L826 805.8L826.4 800.8L826.9 803.7L827.4 799.6L827.8 798.3L828.3 800.9L828.7 796.8L829.2 796.3L829.6 796.8L830.1 791.7L830.5 793.7L831 795.7L831.5 789.4L831.9 791.2L832.4 790.5L832.8 786.5L833.3 787.1L833.7 791.1L834.2 788L834.6 794.2L835.1 796.3L835.6 798.4L836 799.9L836.5 803.1L836.9 800.9L837.4 805.6L837.8 804.8L838.3 805.6L838.7 804.9L839.2 807.9L839.7 804.8L840.1 808.3L840.6 809.5L841 806L841.5 805.6L841.9 806.1L842.4 807.7L842.8 808.6L843.3 809.7L843.8 811.8L844.2 811.1L844.7 808.1L845.1 806.5L845.6 804.5L846 808.3L846.5 807.1L846.9 804.7L847.4 804L847.9 802.9L848.3 796.7L848.8 799.4L849.2 797.7L849.7 793.8L850.1 788.3L850.6 786.8L851 783.8L851.5 782.9L852 778.8L852.4 776.8L852.9 776.5L853.3 776.4L853.8 781.9L854.2 784L854.7 790.6L855.1 796.6L855.6 799.6L856.1 801.9L856.5 802.1L857 805.8L857.4 804.4L857.9 801.9L858.3 807.1L858.8 807.5L859.2 804.3L859.7 807.2L860.2 803.9L860.6 808L861.1 811.8L861.5 808.1L862 812.3L862.4 810.2L862.9 808.3L863.3 806.3L863.8 811.7L864.3 811.6L864.7 807.1L865.2 809.5L865.6 812.7L866.1 808.9L866.5 811.3L867 806.5L867.4 808.7L867.9 812.1L868.4 808.2L868.8 807.7L869.3 807.8L869.7 809.9L870.2 807.4L870.6 810.5L871.1 811.9L871.5 814L872 809.9L872.5 814.2L872.9 812L873.4 810.4L873.8 812L874.3 814.2L874.7 814.2L875.2 812.6L875.6 810.9L876.1 812.9L876.6 811.6L877 811.5L877.5 811.7L877.9 815L878.4 808.7L878.8 811.1L879.3 808.9L879.7 813L880.2 813.5L880.7 813.9L881.1 810.3L881.6 811L882 812.4L882.5 811.1L882.9 811.1L883.4 810.8L883.8 810.7L884.3 809.6L884.8 810.5L885.2 806.1L885.7 807.9L886.1 805.6L886.6 807.7L887 805.8L887.5 807.9L887.9 808.8L888.4 803.1L888.9 803.5L889.3 805.4L889.8 807.3L890.2 805.7L890.7 805L891.1 804L891.6 803.5L892 805.6L892.5 806.3L893 806.2L893.4 805.2L893.9 803.7L894.3 805.8L894.8 807.3L895.2 806.2L895.7 809.7L896.1 806.4L896.6 809L897.1 810.6L897.5 811.7L898 810.5L898.4 812.5L898.9 808.7L899.3 808.1L899.8 811.7L900.2 807.3L900.7 808.4L901.2 804.6L901.6 809.9L902.1 808.4L902.5 804.8L903 802.1L903.4 805.6L903.9 805.2L904.3 806.8L904.8 808.2L905.3 805L905.7 804.5L906.2 805.1L906.6 805.7L907.1 804.3L907.5 806.1L908 808.5L908.4 806.1L908.9 807.5L909.4 813.4L909.8 810L910.3 813.6L910.7 814.6L911.2 812.8L911.6 814.8L912.1 813L912.5 811.8L913 813.6L913.5 814.1L913.9 814.3L914.4 814.3L914.8 813.3L915.3 816.3L915.7 813.7L916.2 813.3L916.6 816L917.1 812L917.6 814L918 816.9L918.5 813.9L918.9 816.6L919.4 813L919.8 812.3L920.3 812.8L920.7 811.8L921.2 812L921.7 811.6L922.1 813.8L922.6 812.6L923 811L923.5 809.4L923.9 815L924.4 809.3L924.8 811.8L925.3 805.6L925.8 805.3L926.2 807.8L926.7 801.2L927.1 798.8L927.6 797.8L928 792.5L928.5 788.5L928.9 783.5L929.4 777.9L929.9 768.6L930.3 760.4L930.8 754.7L931.2 748.8L931.7 742.4L932.1 740.4L932.6 746.3L933 756.5L933.5 759.6L934 764.7L934.4 769.7L934.9 777L935.3 775.8L935.8 775.8L936.2 775.4L936.7 774.5L937.1 781.5L937.6 777.6L938.1 779.6L938.5 781.1L939 786.9L939.4 786L939.9 787.5L940.3 793.4L940.8 798.1L941.2 804.5L941.7 802L942.2 802.3L942.6 805.2L943.1 805.5L943.5 806.6L944 809.3L944.4 810.5L944.9 809.2L945.3 813.3L945.8 811.3L946.3 812.1L946.7 811.2L947.2 813.2L947.6 813.6L948.1 814.3L948.5 811.5L949 814.6L949.4 812.3L949.9 813.8L950.4 815.3L950.8 816.9L951.3 813.1L951.7 811.8L952.2 814.4L952.6 816.7L953.1 813.6L953.5 818.9L954 810.6L954.5 817.5L954.9 816.9L955.4 816.8L955.8 812.9L956.3 817.4L956.7 817.1L957.2 817.2L957.6 814.3L958.1 814.3L958.6 817.4L959 815.5L959.5 814.1L959.9 813.2L960.4 815.4L960.8 812.1L961.3 816L961.7 815.2L962.2 811.8L962.7 815.8L963.1 817.3L963.6 815.4L964 812.2L964.5 813.7L964.9 816.6L965.4 812.3L965.8 814.1L966.3 817.2L966.8 814.3L967.2 813.7L967.7 816.5L968.1 818.1L968.6 815.6L969 812.2L969.5 811.6L969.9 814.4L970.4 811.3L970.9 814.7L971.3 816.7L971.8 810.2L972.2 814.5L972.7 815.6L973.1 813.8L973.6 815.7L974 815.9L974.5 817L975 819.4L975.4 815.5L975.9 813.1L976.3 812.8L976.8 812.3L977.2 816.2L977.7 815.5L978.1 815.7L978.6 815.1L979.1 817.9L979.5 816.9L980 816.7L980.4 813.2L980.9 813.9L981.3 811.9L981.8 813.1L982.2 814.5L982.7 811.8L983.2 812.9L983.6 818.2L984.1 813.7L984.5 810.9L985 811.3L985.4 813.5L985.9 815.2L986.3 813.2L986.8 814.9L987.3 813.6L987.7 810.5L988.2 814.5L988.6 811.2L989.1 815.5L989.5 810.2L990 810.6L990.4 809.3L990.9 809.2L991.4 809.8L991.8 807.6L992.3 809.1L992.7 806.2L993.2 806.6L993.6 801.3L994.1 800.8L994.5 797L995 790L995.5 789.5L995.9 782L996.4 773.3L996.8 764.5L997.3 757.4L997.7 750.8L998.2 747.2L998.6 742.7L999.1 746.7L999.6 750L1000 761L1000.5 766.5L1000.9 775.6L1001.4 783.5L1001.8 786.1L1002.3 794.4L1002.7 795.5L1003.2 799.6L1003.7 799.4L1004.1 803.8L1004.6 808.4L1005 808L1005.5 807.5L1005.9 809.2L1006.4 808.5L1006.8 809.3L1007.3 808.4L1007.8 813.9L1008.2 814.3L1008.7 812.2L1009.1 810.1L1009.6 812.6L1010 817.2L1010.5 810.8L1010.9 812.7L1011.4 812.9L1011.9 815.5L1012.3 811.6L1012.8 814.7L1013.2 812.7L1013.7 813.7L1014.1 812L1014.6 815.5L1015 813.5L1015.5 813.3L1016 816.7L1016.4 815.2L1016.9 818.8L1017.3 815.2L1017.8 814.5L1018.2 814.5L1018.7 818.5L1019.1 816.5L1019.6 813.3L1020.1 814.3L1020.5 812.4L1021 814.4L1021.4 811.7L1021.9 811.2L1022.3 812.6L1022.8 813.8L1023.2 812.2L1023.7 811.2L1024.2 808.9L1024.6 803.3L1025.1 806.6L1025.5 805.6L1026 806.2L1026.4 807.8L1026.9 805.3L1027.3 800.1L1027.8 803.4L1028.3 802.8L1028.7 804.4L1029.2 802.4L1029.6 797.8L1030.1 798L1030.5 796.3L1031 788.6L1031.4 786.2L1031.9 778L1032.4 771.7L1032.8 761.3L1033.3 756.5L1033.7 759.7L1034.2 766.2L1034.6 774.6L1035.1 775.4L1035.5 774.3L1036 781.1L1036.5 773.2L1036.9 764.7L1037.4 762.4L1037.8 753.5L1038.3 758.4L1038.7 767.8L1039.2 779.5L1039.6 786.4L1040.1 795.8L1040.6 798.8L1041 805.7L1041.5 806.6L1041.9 804.2L1042.4 808.6L1042.8 807.4L1043.3 810L1043.7 810.8L1044.2 815.6L1044.7 811.1L1045.1 808.6L1045.6 812.2L1046 809.8L1046.5 815.8L1046.9 813.6L1047.4 815.3L1047.8 811.4L1048.3 810.1L1048.8 812.6L1049.2 809.2L1049.7 809.8L1050.1 809.9L1050.6 810.8L1051 807.8L1051.5 806.3L1051.9 812.6L1052.4 808L1052.9 807.9L1053.3 808.4L1053.8 806.8L1054.2 803L1054.7 801.3L1055.1 802.7L1055.6 798.8L1056 793.9L1056.5 791L1057 778.6L1057.4 776.4L1057.9 769L1058.3 759.2L1058.8 757.8L1059.2 754.3L1059.7 752.1L1060.1 749.5L1060.6 756.7L1061.1 763.4L1061.5 769.2L1062 776.8L1062.4 783.4L1062.9 790.7L1063.3 793.1L1063.8 800.9L1064.2 800.3L1064.7 803.1L1065.2 806.1L1065.6 806.2L1066.1 807L1066.5 811.2L1067 805.4L1067.4 806.9L1067.9 815L1068.3 812.9L1068.8 812.9L1069.3 812.8L1069.7 813.1L1070.2 811L1070.6 812.5L1071.1 811.3L1071.5 815.8L1072 814.9L1072.4 814.3L1072.9 814.7L1073.4 813.8L1073.8 811.9L1074.3 817.6L1074.7 815.6L1075.2 814.1L1075.6 815.7L1076.1 817.1L1076.5 816.9L1077 816L1077.5 816.3L1077.9 814.3L1078.4 817.4L1078.8 816.6L1079.3 816.7L1079.7 812.3L1080.2 816.2L1080.6 816.3L1081.1 816.5L1081.6 810.5L1082 811.4L1082.5 815.6L1082.9 813.2L1083.4 815.8L1083.8 814.8L1084.3 816.7L1084.7 813.9L1085.2 812.8L1085.7 815.9L1086.1 814.2L1086.6 812.4L1087 810.7L1087.5 818.7L1087.9 813.6L1088.4 813.6L1088.8 810L1089.3 811.6L1089.8 813L1090.2 813.6L1090.7 814.1L1091.1 810.6L1091.6 812.6L1092 813.3L1092.5 809.5L1092.9 809.7L1093.4 805.7L1093.9 806.9L1094.3 805.1L1094.8 808.4L1095.2 806L1095.7 808.9L1096.1 805.6L1096.6 806.4L1097 805.6L1097.5 804.9L1098 802.6L1098.4 808.2L1098.9 805.3L1099.3 802.5L1099.8 805.7L1100.2 805.4L1100.7 810.7L1101.1 811.2L1101.6 813L1102.1 815L1102.5 810.2L1103 808.4L1103.4 810.9L1103.9 814.1L1104.3 809.4L1104.8 813.2L1105.2 816.4L1105.7 813.5L1106.2 815.3L1106.6 814.1L1107.1 819.5L1107.5 820.2L1108 814.6L1108.4 815.2L1108.9 817.3L1109.3 818.5L1109.8 818.2L1110.3 818.8L1110.7 819.6L1111.2 820.2L1111.6 821.6L1112.1 818.4L1112.5 817.2L1113 818.1L1113.4 822.3L1113.9 820L1114.4 819.8L1114.8 821L1115.3 820.9L1115.7 822.5L1116.2 816.9L1116.6 818.9L1117.1 820L1117.5 820.2L1118 817.8L1118.5 815.4L1118.9 818.1L1119.4 817.3L1119.8 818.4L1120.3 820.8L1120.7 820L1121.2 816.4L1121.6 817.1L1122.1 819L1122.6 820.8L1123 818.5L1123.5 819L1123.9 815.6L1124.4 817.6L1124.8 817L1125.3 818.9L1125.7 817.9L1126.2 816.7L1126.7 816.3L1127.1 818.8L1127.6 817.1L1128 820.5L1128.5 818.6L1128.9 817.7L1129.4 820L1129.8 815.8L1130.3 819.9L1130.8 816.7L1131.2 819.4L1131.7 816.6L1132.1 816L1132.6 814.2L1133 817.8L1133.5 818.6L1133.9 814.8L1134.4 820.9L1134.9 817.3L1135.3 815.1L1135.8 820.9L1136.2 816.2L1136.7 819.6L1137.1 812.3L1137.6 820.6L1138 816.6L1138.5 815.9L1139 816.3L1139.4 813.1L1139.9 816.7L1140.3 815.3L1140.8 814.4L1141.2 812L1141.7 810L1142.1 812L1142.6 811.6L1143.1 808.9L1143.5 806.5L1144 804L1144.4 804.1L1144.9 803L1145.3 797.1L1145.8 792.8L1146.2 795.7L1146.7 785.6L1147.2 786.7L1147.6 784.4L1148.1 786.5L1148.5 784.2L1149 782.7L1149.4 785.9L1149.9 791L1150.3 793.5L1150.8 795L1151.3 797.8L1151.7 798.2L1152.2 800.3L1152.6 803.5L1153.1 804.7L1153.5 806.7L1154 805.3L1154.4 810.8L1154.9 804.5L1155.4 809.3L1155.8 808.1L1156.3 809.3L1156.7 807.8L1157.2 801.4L1157.6 803.3L1158.1 802.6L1158.5 801.6L1159 799.6L1159.5 796.8L1159.9 800.2L1160.4 798L1160.8 798.3L1161.3 801L1161.7 801.5L1162.2 802.9L1162.6 806.1L1163.1 811.7L1163.5 809.7L1164 810.6L1164.5 810.7L1164.9 813.3L1165.4 811.2L1165.8 815.1L1166.3 815.3L1166.7 815.5L1167.2 816.7L1167.6 815.7L1168.1 817.7L1168.6 817.7L1169 818L1169.5 817.1L1169.9 818.9L1170.4 817.1L1170.8 820L1171.3 817.4L1171.7 820.2L1172.2 818.3L1172.7 817.9L1173.1 816.1L1173.6 819.3L1174 818.8L1174.5 818.3L1174.9 819.1L1175.4 818.6L1175.8 816.7L1176.3 816.2L1176.8 819.7L1177.2 818.9L1177.7 821.4L1178.1 822.4L1178.6 820.2L1179 819.9L1179.5 819.8L1179.9 818.9L1180.4 817.5L1180.9 814.4L1181.3 820.2L1181.8 819.9L1182.2 818.9L1182.7 819.1L1183.1 820.7L1183.6 820.6L1184 819.3L1184.5 818.4L1185 820.1L1185.4 820.4L1185.9 823L1186.3 817.3L1186.8 819.9L1187.2 817.3L1187.7 818.1L1188.1 823.1L1188.6 818.2L1189.1 818.8L1189.5 818L1190 820.7L1190.4 818.3L1190.9 815.9L1191.3 819.3L1191.8 820.6L1192.2 819L1192.7 819.4L1193.2 817.8L1193.6 817.3L1194.1 819.1L1194.5 817L1195 818.3L1195.4 817.2L1195.9 818.7L1196.3 820.6L1196.8 819L1197.3 821.3L1197.7 819.9L1198.2 819L1198.6 817.5L1199.1 819.5L1199.5 817.1L1200 820.8L1200.4 816.9L1200.9 816.8L1201.4 817.9L1201.8 816.4L1202.3 819.7L1202.7 818.1L1203.2 818.8L1203.6 820.8L1204.1 815.6L1204.5 819.3L1205 820.4L1205.5 821.7L1205.9 820.1L1206.4 818.6L1206.8 821.7L1207.3 821.7L1207.7 824.1L1208.2 824L1208.6 819.7L1209.1 822.7L1209.6 820.5L1210 818.3L1210.5 821.5L1210.9 822.7L1211.4 816L1211.8 822.8L1212.3 818.8L1212.7 823.4L1213.2 820.9L1213.7 820.7L1214.1 823.1L1214.6 819.9L1215 824.4L1215.5 818.8L1215.9 819.5L1216.4 818.6L1216.8 821.7L1217.3 820.6L1217.8 822.2L1218.2 822.8L1218.7 822.3L1219.1 822.8L1219.6 822.9L1220 820.7L1220.5 819.5L1220.9 819L1221.4 822.2L1221.9 819.8L1222.3 819L1222.8 819.2L1223.2 820.4L1223.7 821.2L1224.1 820.3L1224.6 818.8L1225 821.7L1225.5 816.6L1226 820.1L1226.4 822.6L1226.9 821.1L1227.3 822.8L1227.8 820.7L1228.2 821.6L1228.7 820.6L1229.1 819.7L1229.6 821.1L1230.1 822.2L1230.5 816.7L1231 818.8L1231.4 816.4L1231.9 818.5L1232.3 817.7L1232.8 819.1L1233.2 819.4L1233.7 821.6L1234.2 822L1234.6 818.1L1235.1 818.5L1235.5 820.4L1236 817.9L1236.4 818.1L1236.9 815.2L1237.3 819.7L1237.8 818.5L1238.3 815.9L1238.7 814.9L1239.2 814.9L1239.6 817.2L1240.1 815.1L1240.5 813.2L1241 814.3L1241.4 816L1241.9 816.2L1242.4 815.9L1242.8 813.4L1243.3 813.4L1243.7 813.4L1244.2 814.2L1244.6 814.2L1245.1 811.7L1245.5 812.5L1246 813.6L1246.5 816.1L1246.9 814.4L1247.4 814.4L1247.8 818.1L1248.3 819.3L1248.7 815.4L1249.2 817.1L1249.6 819.8L1250.1 817.2L1250.6 819.8L1251 815.8L1251.5 818.1L1251.9 819.8L1252.4 821.5L1252.8 820.5L1253.3 815.8L1253.7 816L1254.2 817.1L1254.7 820.1L1255.1 819.8L1255.6 820.3L1256 819.3L1256.5 816.7L1256.9 816.6L1257.4 815.2L1257.8 817.6L1258.3 812.9L1258.8 814.3L1259.2 813.4L1259.7 813.7L1260.1 808.4L1260.6 808.7L1261 804.4L1261.5 806.5L1261.9 802.9L1262.4 802.6L1262.9 801.8L1263.3 803.5L1263.8 805L1264.2 806.8L1264.7 811.8L1265.1 809.5L1265.6 813.2L1266 815.5L1266.5 812.9L1267 811.9L1267.4 817.2L1267.9 813.9L1268.3 815.8L1268.8 817.2L1269.2 817.9L1269.7 816.9L1270.1 816L1270.6 818.9L1271.1 817.2L1271.5 819.8L1272 814.3L1272.4 815.2L1272.9 814.7L1273.3 815.2L1273.8 814L1274.2 813.2L1274.7 816.4L1275.2 812.5L1275.6 813.7L1276.1 813.7L1276.5 812.8L1277 815.9L1277.4 812L1277.9 818.1L1278.3 813.9L1278.8 816.7L1279.3 818L1279.7 817.4L1280.2 817.7L1280.6 821.1L1281.1 823.4L1281.5 821.4L1282 820L1282.4 818.8L1282.9 818.7L1283.4 822.3L1283.8 821.9L1284.3 822.7L1284.7 822.2L1285.2 822.9L1285.6 819.5L1286.1 819.2L1286.5 818.9L1287 820.7L1287.5 820.4L1287.9 821L1288.4 818.7L1288.8 821.2L1289.3 822.3L1289.7 821L1290.2 817L1290.6 820.9L1291.1 820.3L1291.6 822.6L1292 820.7L1292.5 822.1L1292.9 820.3L1293.4 821.6L1293.8 822.8L1294.3 820.6L1294.7 821.6L1295.2 821.4L1295.7 822.2L1296.1 820.9L1296.6 822L1297 817.9L1297.5 820.7L1297.9 822.6L1298.4 822.3L1298.8 819.4L1299.3 819.7L1299.8 821.8L1300.2 821.8L1300.7 822L1301.1 821.3L1301.6 821.3L1302 823L1302.5 819.5L1302.9 818.7L1303.4 822.9L1303.9 819.8L1304.3 822.4L1304.8 820L1305.2 819.2L1305.7 823.9L1306.1 821L1306.6 818.7L1307 820.8L1307.5 820.9L1308 820.8L1308.4 821.4L1308.9 819.1L1309.3 820.6L1309.8 821.9L1310.2 822.2L1310.7 821.3L1311.1 819.7L1311.6 817.7L1312.1 823.7L1312.5 819.1L1313 820.3L1313.4 821.1L1313.9 821.9L1314.3 821L1314.8 819.6L1315.2 821L1315.7 824.7L1316.2 825.1L1316.6 820.6L1317.1 822.1L1317.5 818L1318 821.4L1318.4 822.2L1318.9 820.4L1319.3 824.1L1319.8 822.5L1320.3 822L1320.7 817L1321.2 819.8L1321.6 822.1L1322.1 820L1322.5 817.8L1323 819.8L1323.4 823.4L1323.9 821.9L1324.4 822.2L1324.8 821L1325.3 823.4L1325.7 816.7L1326.2 818.5L1326.6 823.8L1327.1 822.2L1327.5 820.8L1328 819.7L1328.5 817.1L1328.9 819.4L1329.4 819.8L1329.8 818.3L1330.3 822.2L1330.7 821.4L1331.2 819L1331.6 820.9L1332.1 819L1332.6 819.3L1333 817.7L1333.5 822.2L1333.9 815.2L1334.4 817L1334.8 818.4L1335.3 817.7L1335.7 812.3L1336.2 812.4L1336.7 812.7L1337.1 810.3L1337.6 809.1L1338 808.3L1338.5 806.9L1338.9 807.7L1339.4 801.6L1339.8 805.5L1340.3 802.9L1340.8 804.5L1341.2 803.6L1341.7 809.2L1342.1 803.4L1342.6 809.9L1343 808.4L1343.5 809.9L1343.9 813.8L1344.4 811.9L1344.9 814.6L1345.3 816.1L1345.8 813L1346.2 817.8L1346.7 816.7L1347.1 814.2L1347.6 815L1348 813.3L1348.5 814.9L1349 815.7L1349.4 815.7L1349.9 814.2L1350.3 812.7L1350.8 812.3L1351.2 811.7L1351.7 812.8L1352.1 814.4L1352.6 812.4L1353.1 812.4L1353.5 812.1L1354 815.1L1354.4 814.1L1354.9 812.1L1355.3 817.2L1355.8 817.5L1356.2 816.1L1356.7 815.9L1357.2 816.8L1357.6 815.6L1358.1 819.3L1358.5 820.2L1359 819.9L1359.4 818.8L1359.9 819L1360.3 819.8L1360.8 822L1361.3 817.9L1361.7 819.4L1362.2 818.4L1362.6 817.6L1363.1 820.4L1363.5 821.8L1364 818.2L1364.4 821.7L1364.9 821.3L1365.4 821L1365.8 822.6L1366.3 819.2L1366.7 823.1L1367.2 819.8L1367.6 821.3L1368.1 817.8L1368.5 822.1L1369 820.5L1369.5 819.5L1369.9 818.8L1370.4 820.9L1370.8 822.8L1371.3 821.4L1371.7 820L1372.2 819.2L1372.6 818.8L1373.1 820L1373.6 817.8L1374 819.9L1374.5 822.3L1374.9 820.4L1375.4 820.2L1375.8 819.4L1376.3 821.6L1376.7 821.4L1377.2 822.6L1377.7 819L1378.1 818.2L1378.6 819L1379 817.8L1379.5 819.7L1379.9 818.9L1380.4 818L1380.8 819.2L1381.3 820.8L1381.8 820.1L1382.2 817.6L1382.7 818.5L1383.1 818.7L1383.6 818.9L1384 816.9L1384.5 815L1384.9 817.4L1385.4 814.8L1385.9 815.5L1386.3 815.3L1386.8 817L1387.2 814.4L1387.7 815.2L1388.1 814.4L1388.6 813.7L1389 816.1L1389.5 813.9L1390 815.6L1390.4 815.4L1390.9 812.1L1391.3 812.8L1391.8 812.1L1392.2 816.7L1392.7 817L1393.1 816.1L1393.6 816.5L1394.1 817.1L1394.5 817L1395 818.3L1395.4 818.5L1395.9 817.4L1396.3 821.5L1396.8 821L1397.2 818.9L1397.7 823.4L1398.2 823.8L1398.6 822.1L1399.1 822.2L1399.5 819.4L1400 819.9L1400.4 817.9L1400.9 819.9L1401.3 822.3L1401.8 820.1L1402.3 818L1402.7 823.6L1403.2 824.2L1403.6 823.5L1404.1 818.5L1404.5 822.4L1405 819.7L1405.4 820.9L1405.9 822.3L1406.4 823.7L1406.8 820.2L1407.3 820.7L1407.7 819.2L1408.2 821.4L1408.6 819.8L1409.1 820.7L1409.5 822.8L1410 821.6L1410.5 821.8L1410.9 822.1L1411.4 823L1411.8 824L1412.3 819.8L1412.7 819.1L1413.2 822.6L1413.6 823L1414.1 824.1L1414.6 823.1L1415 824.7L1415.5 822.6L1415.9 820.7L1416.4 823.3L1416.8 820.1L1417.3 820.4L1417.7 822.1L1418.2 820.8L1418.7 822.6L1419.1 820.2L1419.6 823.5L1420 818.4L1420.5 820.8L1420.9 818.2L1421.4 820.6L1421.8 816.5L1422.3 817.8L1422.8 811.6L1423.2 813L1423.7 815.7L1424.1 811.9L1424.6 810.6L1425 810.9L1425.5 812.5L1425.9 806.7L1426.4 808.7L1426.9 808.8L1427.3 811.8L1427.8 810.8L1428.2 810.8L1428.7 812.2L1429.1 817.1L1429.6 817.5L1430 819.6L1430.5 816.5L1431 818.4L1431.4 819.7L1431.9 822.5L1432.3 822.3L1432.8 821.7L1433.2 820.6L1433.7 822.8L1434.1 821.9L1434.6 824.4L1435.1 825.9L1435.5 823.3L1436 821.3L1436.4 827L1436.9 824.3L1437.3 824.1L1437.8 823.4L1438.2 823.4L1438.7 823.1L1439.2 823.2L1439.6 820L1440.1 821L1440.5 821.8L1441 821.8L1441.4 821.5L1441.9 821.5L1442.3 817.3L1442.8 818.2L1443.3 818.1L1443.7 818.9L1444.2 817.7L1444.6 820.6L1445.1 816L1445.5 815.5L1446 812.6L1446.4 817.3L1446.9 813.7L1447.4 812.7L1447.8 811.2L1448.3 811.8L1448.7 810.7L1449.2 813L1449.6 809.5L1450.1 810.1L1450.5 810.2L1451 812.3L1451.5 812.4L1451.9 814L1452.4 813.8L1452.8 814.5L1453.3 814.3L1453.7 816.4L1454.2 816.3L1454.6 816.7L1455.1 814L1455.6 816.4L1456 816.5L1456.5 815L1456.9 820.5L1457.4 821L1457.8 820.6L1458.3 819.9L1458.7 821.5L1459.2 816.3L1459.7 821.1L1460.1 815.6L1460.6 819L1461 818.7L1461.5 819L1461.9 818.8L1462.4 818.4L1462.8 815.5L1463.3 814.9L1463.8 814L1464.2 814.8L1464.7 813.3L1465.1 810.5L1465.6 813.9L1466 809.9L1466.5 810.5L1466.9 809.7L1467.4 809.6L1467.9 811.9L1468.3 810.2L1468.8 809.5L1469.2 811.4L1469.7 811.6L1470.1 811.5L1470.6 816.3L1471 817.5L1471.5 814L1472 819.6L1472.4 820.7L1472.9 816.1L1473.3 819.5L1473.8 818.9L1474.2 821.1L1474.7 816.4L1475.1 821.4L1475.6 820.1L1476.1 821.7L1476.5 822.5L1477 817.6L1477.4 821.3L1477.9 821.5L1478.3 822.6L1478.8 823.6L1479.2 823L1479.7 820.6L1480.2 823.1L1480.6 820.7L1481.1 823.2L1481.5 821.7L1482 821.8L1482.4 822.3L1482.9 819.5L1483.3 821.6L1483.8 820.2L1484.3 823.6L1484.7 824.2L1485.2 819.8L1485.6 818.5L1486.1 822.5L1486.5 821.2L1487 820.6L1487.4 825.7L1487.9 821.4L1488.4 820.4L1488.8 821.6L1489.3 822.5L1489.7 824.5L1490.2 822.5L1490.6 819.9L1491.1 821.1L1491.5 824.9L1492 819.1L1492.5 821.8L1492.9 823.7L1493.4 822.2L1493.8 821.4L1494.3 820.3L1494.7 822L1495.2 822.5L1495.6 822.1L1496.1 823.4L1496.6 822.1L1497 823.8L1497.5 822L1497.9 823.2L1498.4 821.2L1498.8 824.5L1499.3 823.8L1499.7 822.9L1500.2 820.2L1500.7 822.1L1501.1 818.1L1501.6 821.2L1502 822L1502.5 820.4L1502.9 822L1503.4 822.8L1503.8 824.6L1504.3 821.7L1504.8 819.2L1505.2 818L1505.7 821.4L1506.1 823.1L1506.6 823.4L1507 821.7L1507.5 820.5L1507.9 820.4L1508.4 821.3L1508.9 821.6L1509.3 822.4L1509.8 821.5L1510.2 824.5L1510.7 821.5L1511.1 822L1511.6 822.8L1512 822.5L1512.5 819.9L1513 818.3L1513.4 818.7L1513.9 821.2L1514.3 821.5L1514.8 820.9L1515.2 821.5L1515.7 822.2L1516.1 818.7L1516.6 823.4L1517.1 823.2L1517.5 820.6L1518 818.9L1518.4 819.4L1518.9 816.6L1519.3 818.6L1519.8 817L1520.2 817.9L1520.7 817.3L1521.2 820.9L1521.6 816L1522.1 817.6L1522.5 816.3L1523 819.2L1523.4 818.2L1523.9 814L1524.3 814.7L1524.8 816.6L1525.3 815.2L1525.7 816.8L1526.2 816.3L1526.6 814.5L1527.1 815.8L1527.5 817.2L1528 816.5L1528.4 817L1528.9 817.6L1529.4 817L1529.8 819.6L1530.3 815.7L1530.7 818.7L1531.2 817.4L1531.6 819.1L1532.1 820L1532.5 819.9L1533 820.2L1533.5 820.5L1533.9 820.4L1534.4 819.4L1534.8 821.1L1535.3 821.6L1535.7 821.6L1536.2 820.8L1536.6 820.9L1537.1 817.5L1537.6 819.5L1538 820.5L1538.5 822.5L1538.9 822.9L1539.4 821.3L1539.8 819.4L1540.3 821.9L1540.7 822.7L1541.2 822.4L1541.7 820.1L1542.1 819.5L1542.6 819.7L1543 819.4L1543.5 822.6L1543.9 821.4L1544.4 824.1L1544.8 823.1L1545.3 821.8L1545.8 818.9L1546.2 820.6L1546.7 819.8L1547.1 816.4L1547.6 816.1L1548 816.3L1548.5 818.9L1548.9 815.7L1549.4 813.7L1549.9 815.7L1550.3 816.4L1550.8 813.7L1551.2 818.9L1551.7 815.3L1552.1 818.7L1552.6 818.8L1553 817.2L1553.5 818.8L1554 819.5L1554.4 819.4L1554.9 821.6L1555.3 820.8L1555.8 818.4L1556.2 821.5L1556.7 819.8L1557.1 821.4L1557.6 822.3L1558.1 821.9L1558.5 823.7L1559 822.1L1559.4 821.5L1559.9 825L1560.3 823.6L1560.8 822.3L1561.2 822.6L1561.7 822L1562.1 822.8L1562.6 821.2L1563.1 825.5L1563.5 824.7L1564 819.3L1564.4 821.3L1564.9 822.8L1565.3 821.9L1565.8 819.6L1566.2 824L1566.7 821.1L1567.2 824L1567.6 823.7L1568.1 825.4L1568.5 821.6L1569 825.9L1569.4 821.1L1569.9 825.4L1570.3 824.7L1570.8 823.8L1571.3 821.4L1571.7 825.6L1572.2 824.4L1572.6 820.6L1573.1 819.6L1573.5 822.1L1574 821.8L1574.4 824.3L1574.9 823.4L1575.4 823.7L1575.8 822.4L1576.3 824.7L1576.7 822.4L1577.2 820.9L1577.6 819.7L1578.1 824.1L1578.5 822.3L1579 820.6L1579.5 821.9L1579.9 822.7L1580.4 824.4L1580.8 820L1581.3 822.7L1581.7 824.5L1582.2 824.1L1582.6 824.6L1583.1 826.4L1583.6 822L1584 822.4L1584.5 825L1584.9 825.9L1585.4 823.9L1585.8 822.9L1586.3 821.6L1586.7 824.4L1587.2 824L1587.7 821.8L1588.1 822.6L1588.6 821.9L1589 824.3L1589.5 823.2L1589.9 825.4L1590.4 825.5L1590.8 824L1591.3 825.3L1591.8 825.1L1592.2 825.8L1592.7 822.7L1593.1 824.4L1593.6 826.3L1594 824.5L1594.5 822.8L1594.9 823.8L1595.4 826.8L1595.9 822.9L1596.3 822.5L1596.8 824.8L1597.2 822.8L1597.7 821L1598.1 821L1598.6 823.4L1599 822.4L1599.5 825.6L1600 822.3L1600.4 821.1L1600.9 822L1601.3 821.2L1601.8 824.9L1602.2 821.8L1602.7 825.2L1603.1 823.6L1603.6 825.8L1604.1 822.4L1604.5 823.7L1605 819L1605.4 821.2L1605.9 820.6L1606.3 823.2L1606.8 821L1607.2 821.9L1607.7 819.4L1608.2 818.1L1608.6 819.6L1609.1 821.3L1609.5 818.8L1610 820.9L1610.4 817.7L1610.9 817.4L1611.3 817.2L1611.8 817.3L1612.3 816.7L1612.7 817.6L1613.2 817L1613.6 817L1614.1 821.3L1614.5 820.7L1615 819.3L1615.4 819.3L1615.9 818.2L1616.4 821.9L1616.8 820.3L1617.3 824.6L1617.7 819.2L1618.2 822.7L1618.6 824.2L1619.1 821.8L1619.5 825.9L1620 824.4L1620.5 824.6L1620.9 821.9L1621.4 824.8L1621.8 824.9L1622.3 823.6L1622.7 826.3L1623.2 824.1L1623.6 820.2L1624.1 824.2L1624.6 826.4L1625 822.8L1625.5 824.9L1625.9 822.9L1626.4 823.9L1626.8 820.3L1627.3 821.2L1627.7 823.5L1628.2 823.1L1628.7 821.1L1629.1 825.1L1629.6 824.5L1630 822.7L1630.5 820.9L1630.9 824.9L1631.4 823.3L1631.8 825.2L1632.3 825.8L1632.8 823.6L1633.2 823.7L1633.7 825.3L1634.1 823.7L1634.6 821.1L1635 825L1635.5 824.6L1635.9 823.2L1636.4 824.9L1636.9 823.5L1637.3 823.5L1637.8 825.3L1638.2 822L1638.7 821.6L1639.1 823.8L1639.6 822.1L1640 825.4L1640.5 822.9L1641 821.4L1641.4 823.5L1641.9 820.7L1642.3 826.1L1642.8 824L1643.2 825.1L1643.7 824.8L1644.1 824.4L1644.6 822.5L1645.1 825.2L1645.5 823.5L1646 822.9L1646.4 820.9L1646.9 825.9L1647.3 823.6L1647.8 823.4L1648.2 821.1L1648.7 825.4L1649.2 823.8L1649.6 825.4L1650.1 823.8L1650.5 822.6L1651 824.7L1651.4 821.4L1651.9 821.4L1652.3 823.6L1652.8 824.8L1653.3 825.3L1653.7 823.4L1654.2 823.3L1654.6 823.7L1655.1 823L1655.5 822.5L1656 823.9L1656.4 822.3L1656.9 822.6L1657.4 824.5L1657.8 822.9L1658.3 821.6L1658.7 823.3L1659.2 821.8L1659.6 822.8L1660.1 820.3L1660.5 820.2L1661 819L1661.5 822.5L1661.9 822.7L1662.4 822.1L1662.8 820.6L1663.3 820.2L1663.7 819.3L1664.2 820.4L1664.6 819.2L1665.1 817.9L1665.6 820.9L1666 820.8L1666.5 820.4L1666.9 819.7L1667.4 819.4L1667.8 820.3L1668.3 820.7L1668.7 818.9L1669.2 820.2L1669.7 819.6L1670.1 823L1670.6 819.6L1671 820L1671.5 820.6L1671.9 822.3L1672.4 820.9L1672.8 824.9L1673.3 823.5L1673.8 819.2L1674.2 823L1674.7 823.2L1675.1 820.9L1675.6 822.6L1676 822.9L1676.5 821.9L1676.9 822.7L1677.4 823.3L1677.9 822L1678.3 822.7L1678.8 820.9L1679.2 823.6L1679.7 821.7L1680.1 824.3L1680.6 825.5L1681 824.8L1681.5 821.6L1682 822.8L1682.4 821.7L1682.9 822.6L1683.3 820.6L1683.8 820.2L1684.2 821.5L1684.7 820.2L1685.1 823L1685.6 822.1L1686.1 821.4L1686.5 820.5L1687 820.3L1687.4 821.8L1687.9 820.3L1688.3 820L1688.8 822.5L1689.2 819.8L1689.7 819L1690.2 818.9L1690.6 820.9L1691.1 818.1L1691.5 818L1692 820.1L1692.4 820.1L1692.9 820.3L1693.3 816.9L1693.8 818.6L1694.3 817.1L1694.7 818.5L1695.2 815.5L1695.6 817.5L1696.1 819.3L1696.5 818.1L1697 814.5L1697.4 819.3L1697.9 818.4L1698.4 817.5L1698.8 817.9L1699.3 817.5L1699.7 819.6L1700.2 817.9L1700.6 815.6L1701.1 816.6L1701.5 820L1702 819.1L1702.5 818.3L1702.9 815.7L1703.4 817.2L1703.8 817.3L1704.3 815.4L1704.7 815.7L1705.2 815.6L1705.6 814.8L1706.1 813.5L1706.6 813.2L1707 810.7L1707.5 812.3L1707.9 814.5L1708.4 816.6L1708.8 815.3L1709.3 817.5L1709.7 816.8L1710.2 816.3L1710.7 819.1L1711.1 819.8L1711.6 818.5L1712 819.1L1712.5 820.8L1712.9 820.4L1713.4 822.2L1713.8 819.8L1714.3 823.2L1714.8 821.3L1715.2 822.8L1715.7 820.2L1716.1 823.9L1716.6 822.9L1717 825.7L1717.5 820.3L1717.9 820.1L1718.4 823.8L1718.9 824L1719.3 820.1L1719.8 823.4L1720.2 823.8L1720.7 824.3L1721.1 822.3L1721.6 819.7L1722 818.8L1722.5 824.3L1723 821.4L1723.4 821.8L1723.9 819.5L1724.3 819.1L1724.8 818.7L1725.2 817.3L1725.7 818L1726.1 816.7L1726.6 817.8L1727.1 820.3L1727.5 819.2L1728 818.7L1728.4 822.6L1728.9 822.6L1729.3 821.2L1729.8 819.1L1730.2 823.9L1730.7 824.2L1731.2 821.8L1731.6 825L1732.1 822L1732.5 823L1733 822.8L1733.4 823.9L1733.9 823.5L1734.3 825.9L1734.8 823.4L1735.3 824.6L1735.7 824.1L1736.2 824.4L1736.6 822.9L1737.1 824.1L1737.5 826.2L1738 825.4L1738.4 822.6L1738.9 823.7L1739.4 822.9L1739.8 823.3L1740.3 823.4L1740.7 822.6L1741.2 825L1741.6 825.7L1742.1 824.6L1742.5 823.8L1743 824.7L1743.5 823.3L1743.9 825.7L1744.4 827.3L1744.8 820.7L1745.3 824.4L1745.7 823.8L1746.2 823.9L1746.6 823.2L1747.1 821.3L1747.6 823.2L1748 822.6L1748.5 822.9L1748.9 822.9L1749.4 822.2L1749.8 826L1750.3 820.9L1750.7 822L1751.2 820.6L1751.7 822L1752.1 824.3L1752.6 822L1753 820.7L1753.5 819.9L1753.9 822.4L1754.4 820.6L1754.8 822.3L1755.3 820.3L1755.8 820.5L1756.2 821L1756.7 818.7L1757.1 822.5L1757.6 819.1L1758 820.8L1758.5 821.1L1758.9 823.6L1759.4 820.9"/>
<path stroke="#ff0000" stroke-width="5" d="M165 1570.9L165.5 1576.4L165.9 1576.1L166.4 1573.8L166.8 1579.5L167.3 1575.8L167.7 1576L168.2 1568.1L168.6 1575.8L169.1 1578.7L169.6 1571.6L170 1577.5L170.5 1574.2L170.9 1574L171.4 1573.7L171.8 1570.7L172.3 1568.3L172.7 1568.9L173.2 1578.1L173.7 1575.7L174.1 1569.8L174.6 1577L175 1576.4L175.5 1574L175.9 1577L176.4 1577L176.8 1576.2L177.3 1578.7L177.8 1572.7L178.2 1575.9L178.7 1580.4L179.1 1581.9L179.6 1576.1L180 1581L180.5 1574.6L180.9 1571.4L181.4 1578.1L181.9 1579.9L182.3 1574.6L182.8 1579.5L183.2 1571.2L183.7 1572.4L184.1 1573.9L184.6 1575.3L185 1576.2L185.5 1576.7L186 1578.5L186.4 1573.7L186.9 1574.7L187.3 1581.3L187.8 1575.6L188.2 1578.5L188.7 1576.9L189.1 1576L189.6 1578.1L190.1 1573.8L190.5 1576.9L191 1578.4L191.4 1577L191.9 1575.2L192.3 1574.5L192.8 1575.6L193.2 1579.6L193.7 1577.7L194.2 1574.3L194.6 1580.5L195.1 1574.6L195.5 1578.9L196 1575.8L196.4 1571.4L196.9 1575.5L197.3 1574.1L197.8 1575.4L198.3 1575.5L198.7 1574.4L199.2 1576.7L199.6 1575.8L200.1 1572.6L200.5 1577.3L201 1577.6L201.4 1574.9L201.9 1576.1L202.4 1575L202.8 1574.3L203.3 1576L203.7 1578.4L204.2 1577.9L204.6 1572.5L205.1 1576.2L205.5 1579.1L206 1580.5L206.5 1575.7L206.9 1578.2L207.4 1577.1L207.8 1573.4L208.3 1577.9L208.7 1574.8L209.2 1573.2L209.6 1581.7L210.1 1580.6L210.6 1578L211 1573.6L211.5 1579.2L211.9 1576.4L212.4 1578.5L212.8 1576.8L213.3 1578L213.7 1573.1L214.2 1577.4L214.7 1578.1L215.1 1581L215.6 1571.9L216 1583.3L216.5 1583.9L216.9 1577.4L217.4 1575.8L217.8 1581.1L218.3 1572.4L218.8 1576.8L219.2 1580.4L219.7 1582.7L220.1 1580.2L220.6 1578.1L221 1577.7L221.5 1578.4L221.9 1580.9L222.4 1571.3L222.9 1577.2L223.3 1578.2L223.8 1576.2L224.2 1577.5L224.7 1581.3L225.1 1576.9L225.6 1576.6L226 1581.7L226.5 1577.5L227 1576.2L227.4 1573.3L227.9 1576.9L228.3 1572.8L228.8 1576.1L229.2 1579L229.7 1575.8L230.1 1577.1L230.6 1579.1L231.1 1580.6L231.5 1583L232 1581.8L232.4 1579.8L232.9 1579.2L233.3 1577.7L233.8 1575.7L234.2 1570.6L234.7 1578.6L235.2 1575.3L235.6 1581.2L236.1 1573.4L236.5 1572.1L237 1575.8L237.4 1580.9L237.9 1576.7L238.3 1576.3L238.8 1580.7L239.3 1577L239.7 1578.8L240.2 1576.6L240.6 1577.3L241.1 1584.6L241.5 1572.4L242 1582.2L242.4 1571.2L242.9 1571.7L243.4 1580.6L243.8 1577.1L244.3 1577.6L244.7 1580.2L245.2 1576.1L245.6 1572.4L246.1 1578.1L246.5 1575.3L247 1582.5L247.5 1578.4L247.9 1579.4L248.4 1573.4L248.8 1578.1L249.3 1578.5L249.7 1579.7L250.2 1574.2L250.6 1579.4L251.1 1581.2L251.6 1576.9L252 1576.3L252.5 1579.4L252.9 1580.8L253.4 1577L253.8 1580.8L254.3 1583.3L254.7 1579.3L255.2 1577.6L255.7 1580.5L256.1 1582.5L256.6 1582L257 1578.7L257.5 1580.3L257.9 1576.3L258.4 1578.3L258.8 1576.6L259.3 1576.2L259.8 1577.9L260.2 1576.4L260.7 1578L261.1 1577.9L261.6 1574.5L262 1576.3L262.5 1579.6L262.9 1576.7L263.4 1583.2L263.9 1584.8L264.3 1580.5L264.8 1579L265.2 1579.1L265.7 1573.7L266.1 1576.8L266.6 1572.1L267 1579.3L267.5 1580.7L268 1578.6L268.4 1577.5L268.9 1576L269.3 1579.2L269.8 1574.5L270.2 1581.1L270.7 1574.2L271.1 1573.3L271.6 1576.9L272.1 1578.7L272.5 1575.9L273 1577.3L273.4 1578.8L273.9 1575.7L274.3 1580.6L274.8 1577.4L275.2 1579.5L275.7 1576L276.2 1572.7L276.6 1579.3L277.1 1580.2L277.5 1575.2L278 1577L278.4 1573.2L278.9 1572.4L279.3 1580.8L279.8 1581.2L280.3 1574.9L280.7 1581.8L281.2 1574.7L281.6 1577.8L282.1 1576.2L282.5 1576.3L283 1569.4L283.4 1580L283.9 1572.8L284.4 1574.9L284.8 1578.4L285.3 1571.4L285.7 1574.8L286.2 1574.5L286.6 1574.1L287.1 1571L287.5 1575.6L288 1570.5L288.5 1573.9L288.9 1578.8L289.4 1574L289.8 1569.8L290.3 1574.1L290.7 1569.5L291.2 1570.9L291.6 1573.6L292.1 1570.7L292.6 1572.3L293 1566.5L293.5 1572.4L293.9 1575.5L294.4 1566.6L294.8 1571.7L295.3 1575.6L295.7 1573.2L296.2 1572.2L296.7 1572.6L297.1 1572.9L297.6 1574.6L298 1577L298.5 1572.6L298.9 1570.4L299.4 1574.9L299.8 1573.8L300.3 1572.5L300.8 1572L301.2 1569.6L301.7 1566.6L302.1 1573.5L302.6 1567.4L303 1566.5L303.5 1567.4L303.9 1570.5L304.4 1572.3L304.9 1570.9L305.3 1574.5L305.8 1562.7L306.2 1573.9L306.7 1568.6L307.1 1572L307.6 1562.2L308 1568.3L308.5 1575.5L309 1566.9L309.4 1573L309.9 1568.5L310.3 1569.8L310.8 1564.3L311.2 1567.7L311.7 1573.8L312.1 1571.5L312.6 1566.3L313.1 1568.3L313.5 1567.1L314 1569.9L314.4 1570.3L314.9 1568.4L315.3 1566.5L315.8 1568L316.2 1567.3L316.7 1566.8L317.2 1566.3L317.6 1562L318.1 1564.2L318.5 1563.7L319 1567.4L319.4 1565.4L319.9 1566.9L320.3 1565.6L320.8 1561.4L321.3 1565.2L321.7 1564.2L322.2 1566.8L322.6 1563.1L323.1 1566.8L323.5 1561.2L324 1565.8L324.4 1564.2L324.9 1562.3L325.4 1559.3L325.8 1558L326.3 1569.6L326.7 1559.5L327.2 1565.8L327.6 1561L328.1 1563.6L328.5 1564L329 1561.1L329.5 1563.8L329.9 1558.8L330.4 1564.4L330.8 1565.3L331.3 1559.7L331.7 1561.9L332.2 1562.2L332.6 1561.7L333.1 1561.4L333.6 1559.5L334 1561L334.5 1558.3L334.9 1558.2L335.4 1561.9L335.8 1558.1L336.3 1558.1L336.7 1557.8L337.2 1561.9L337.7 1555.7L338.1 1563.2L338.6 1565.4L339 1558.9L339.5 1560.2L339.9 1563.9L340.4 1557.3L340.8 1556.7L341.3 1560.5L341.8 1558.3L342.2 1564.8L342.7 1554.4L343.1 1552.6L343.6 1558.4L344 1557.2L344.5 1553.8L344.9 1560.5L345.4 1558.3L345.9 1564.7L346.3 1553L346.8 1553.8L347.2 1557.5L347.7 1556.5L348.1 1562.4L348.6 1558.6L349 1561.1L349.5 1554.9L350 1558.9L350.4 1559.6L350.9 1559.3L351.3 1558.7L351.8 1557.8L352.2 1564.6L352.7 1558.8L353.1 1558.8L353.6 1556.6L354.1 1558L354.5 1559.4L355 1554.7L355.4 1562.7L355.9 1558.1L356.3 1561.9L356.8 1554.5L357.2 1560.6L357.7 1553.9L358.2 1559.6L358.6 1561.2L359.1 1564.4L359.5 1553.5L360 1560.8L360.4 1562.5L360.9 1555.1L361.3 1553.9L361.8 1555.1L362.3 1558.7L362.7 1555.2L363.2 1554L363.6 1560.4L364.1 1558.8L364.5 1556.7L365 1558.6L365.4 1552.5L365.9 1556.1L366.3 1558.3L366.8 1558.7L367.3 1554.8L367.7 1559.3L368.2 1552L368.6 1556.1L369.1 1555L369.5 1561.7L370 1564.3L370.4 1558.7L370.9 1552L371.4 1552.7L371.8 1560L372.3 1563L372.7 1556.3L373.2 1558.7L373.6 1553.7L374.1 1553.3L374.5 1560.6L375 1562.4L375.5 1558.6L375.9 1558.2L376.4 1558L376.8 1556.6L377.3 1556.8L377.7 1561.8L378.2 1559.3L378.6 1558.9L379.1 1558.8L379.6 1555.3L380 1556.9L380.5 1559.2L380.9 1556.8L381.4 1554.2L381.8 1560.6L382.3 1559.5L382.7 1556.4L383.2 1558.2L383.7 1561L384.1 1559.1L384.6 1560.9L385 1559.8L385.5 1561.1L385.9 1560.4L386.4 1560.9L386.8 1562.1L387.3 1562.5L387.8 1564.5L388.2 1564.7L388.7 1559.2L389.1 1554.3L389.6 1559.8L390 1563.7L390.5 1560.6L390.9 1558.5L391.4 1555.7L391.9 1558.9L392.3 1561.6L392.8 1562.6L393.2 1559.3L393.7 1556.9L394.1 1564.3L394.6 1555.5L395 1566.4L395.5 1561.6L396 1560.1L396.4 1558.7L396.9 1561.7L397.3 1558.6L397.8 1562.7L398.2 1559.9L398.7 1563.3L399.1 1559.1L399.6 1558.1L400.1 1557.8L400.5 1565.8L401 1562.2L401.4 1561.8L401.9 1567L402.3 1559.6L402.8 1564.3L403.2 1563.4L403.7 1563.4L404.2 1564.9L404.6 1564.4L405.1 1567.8L405.5 1560.9L406 1558.7L406.4 1563.9L406.9 1560.4L407.3 1565.9L407.8 1562.2L408.3 1566.2L408.7 1569L409.2 1563.7L409.6 1563.1L410.1 1562.4L410.5 1564.1L411 1561.4L411.4 1565.8L411.9 1566.8L412.4 1560.7L412.8 1570.2L413.3 1562.7L413.7 1564.6L414.2 1565L414.6 1562L415.1 1569.9L415.5 1558.4L416 1563.4L416.5 1560.7L416.9 1565.6L417.4 1568.8L417.8 1568.2L418.3 1562.1L418.7 1565.3L419.2 1565.2L419.6 1565.5L420.1 1562.6L420.6 1568.1L421 1560.6L421.5 1573.8L421.9 1567.8L422.4 1566.4L422.8 1565.8L423.3 1572.1L423.7 1567.3L424.2 1572.1L424.7 1565.9L425.1 1568.3L425.6 1567.3L426 1569.6L426.5 1571.6L426.9 1565.3L427.4 1572.4L427.8 1566.9L428.3 1569.8L428.8 1564.5L429.2 1567.9L429.7 1567.7L430.1 1569.2L430.6 1573.8L431 1571.2L431.5 1569.6L431.9 1570.7L432.4 1570L432.9 1568L433.3 1569.6L433.8 1574.1L434.2 1571L434.7 1570.2L435.1 1573.7L435.6 1566.8L436 1567.9L436.5 1565.3L437 1570.3L437.4 1569.2L437.9 1564.9L438.3 1567.5L438.8 1568.2L439.2 1567.4L439.7 1574.8L440.1 1570.5L440.6 1569.6L441.1 1571.7L441.5 1572L442 1564.5L442.4 1566.3L442.9 1568.9L443.3 1562.9L443.8 1569.7L444.2 1568.1L444.7 1567L445.2 1569.2L445.6 1571.7L446.1 1570.9L446.5 1568.9L447 1569.3L447.4 1571.3L447.9 1567.2L448.3 1570.8L448.8 1567.3L449.3 1568.8L449.7 1571L450.2 1569L450.6 1565L451.1 1569L451.5 1565.4L452 1567.2L452.4 1567.8L452.9 1569.5L453.4 1567.2L453.8 1573.7L454.3 1570.2L454.7 1570.8L455.2 1569.6L455.6 1570.4L456.1 1566.4L456.5 1567.7L457 1572.2L457.5 1571.7L457.9 1569.7L458.4 1573.7L458.8 1565.1L459.3 1564.5L459.7 1565.3L460.2 1570.2L460.6 1562.5L461.1 1569.9L461.6 1566L462 1570.4L462.5 1570.9L462.9 1568.2L463.4 1564.4L463.8 1564.7L464.3 1571.4L464.7 1569.9L465.2 1566.9L465.7 1567.8L466.1 1572.5L466.6 1568.5L467 1571.6L467.5 1566.1L467.9 1565.7L468.4 1565.7L468.8 1566.4L469.3 1570.6L469.8 1563.7L470.2 1570.3L470.7 1564.5L471.1 1568.4L471.6 1563.9L472 1565.9L472.5 1573L472.9 1564.3L473.4 1566.8L473.9 1565.3L474.3 1560.4L474.8 1567.9L475.2 1564.4L475.7 1561.9L476.1 1564.1L476.6 1568.4L477 1559.7L477.5 1568.8L478 1559.8L478.4 1566.9L478.9 1562.3L479.3 1561L479.8 1570.6L480.2 1565.4L480.7 1565.9L481.1 1561.6L481.6 1568.2L482.1 1567.4L482.5 1565L483 1562.9L483.4 1566.6L483.9 1562.5L484.3 1566.9L484.8 1566.7L485.2 1567.2L485.7 1558.3L486.2 1565.3L486.6 1563.5L487.1 1562.4L487.5 1566.7L488 1562.5L488.4 1564.1L488.9 1565.6L489.3 1563.8L489.8 1568.4L490.3 1565.6L490.7 1567.3L491.2 1560.5L491.6 1566.4L492.1 1564.5L492.5 1568.1L493 1563.7L493.4 1565.7L493.9 1562L494.4 1562.8L494.8 1561.5L495.3 1569.5L495.7 1562.5L496.2 1564.2L496.6 1563.7L497.1 1563.6L497.5 1566.2L498 1565.2L498.5 1563.8L498.9 1564.5L499.4 1567.9L499.8 1562.1L500.3 1560.4L500.7 1562.4L501.2 1565.8L501.6 1566.7L502.1 1561.9L502.6 1564.9L503 1562.1L503.5 1565.3L503.9 1562L504.4 1565.1L504.8 1563.6L505.3 1558.9L505.7 1562.8L506.2 1562.1L506.7 1570.1L507.1 1562.2L507.6 1565.8L508 1560.1L508.5 1570.3L508.9 1566.7L509.4 1562.9L509.8 1560.7L510.3 1562.5L510.8 1560.4L511.2 1565.6L511.7 1557.6L512.1 1564.6L512.6 1569L513 1565.6L513.5 1568.2L513.9 1564.4L514.4 1563.3L514.9 1562.8L515.3 1562L515.8 1568.9L516.2 1561.7L516.7 1561.2L517.1 1564.8L517.6 1563.7L518 1566.8L518.5 1566.8L519 1570.6L519.4 1558L519.9 1565.2L520.3 1563.8L520.8 1563.2L521.2 1565.1L521.7 1564.9L522.1 1565.7L522.6 1565.4L523.1 1568.9L523.5 1570.9L524 1563L524.4 1565.3L524.9 1566.7L525.3 1565.1L525.8 1563.2L526.2 1566.1L526.7 1561.3L527.2 1567.4L527.6 1562.3L528.1 1563.6L528.5 1565.5L529 1571.1L529.4 1570.4L529.9 1567.8L530.3 1570.2L530.8 1568.2L531.3 1564.4L531.7 1566.3L532.2 1566.3L532.6 1565.1L533.1 1568.5L533.5 1565.6L534 1565.1L534.4 1566.4L534.9 1567L535.4 1563.7L535.8 1570L536.3 1568.8L536.7 1562.5L537.2 1565.8L537.6 1573.2L538.1 1564L538.5 1568.2L539 1570.3L539.5 1563.5L539.9 1571L540.4 1567.7L540.8 1568.5L541.3 1567.1L541.7 1570.5L542.2 1570.7L542.6 1572L543.1 1566.6L543.6 1566.2L544 1568.4L544.5 1565.1L544.9 1567.1L545.4 1562.9L545.8 1563.2L546.3 1565L546.7 1564L547.2 1558.9L547.7 1558.1L548.1 1563.9L548.6 1560.6L549 1561.8L549.5 1560.6L549.9 1554.8L550.4 1561.7L550.8 1568.6L551.3 1563L551.8 1561.3L552.2 1561.5L552.7 1566.6L553.1 1570.2L553.6 1563.9L554 1571.8L554.5 1572.5L554.9 1568.9L555.4 1575.4L555.9 1568.5L556.3 1568.3L556.8 1570.6L557.2 1573.4L557.7 1570.4L558.1 1570.5L558.6 1573.8L559 1568.6L559.5 1570.5L560 1577.1L560.4 1570.9L560.9 1573.2L561.3 1571.5L561.8 1573.6L562.2 1572.1L562.7 1572.1L563.1 1569.4L563.6 1574.6L564.1 1575.6L564.5 1572.9L565 1574.5L565.4 1575.1L565.9 1573.7L566.3 1576.7L566.8 1573.3L567.2 1576L567.7 1574.2L568.2 1571L568.6 1569.9L569.1 1574.1L569.5 1570.9L570 1575L570.4 1576.7L570.9 1573.8L571.3 1573.9L571.8 1581.6L572.3 1577L572.7 1576.8L573.2 1577.7L573.6 1575.2L574.1 1572.6L574.5 1580.7L575 1572.7L575.4 1577.1L575.9 1579.3L576.4 1579.9L576.8 1578.9L577.3 1573.9L577.7 1580.1L578.2 1582L578.6 1577.7L579.1 1579.5L579.5 1583.2L580 1579L580.5 1581.5L580.9 1579.4L581.4 1582.2L581.8 1583.9L582.3 1581.1L582.7 1578.4L583.2 1580.4L583.6 1581.4L584.1 1581L584.6 1580.9L585 1584.4L585.5 1581.9L585.9 1583.2L586.4 1583.7L586.8 1584.4L587.3 1582.6L587.7 1582L588.2 1582.5L588.7 1583.9L589.1 1581.8L589.6 1577.9L590 1585.7L590.5 1581.1L590.9 1584.1L591.4 1577.7L591.8 1582.2L592.3 1577.6L592.8 1582.2L593.2 1583.1L593.7 1581.4L594.1 1579.3L594.6 1585.9L595 1582.4L595.5 1577.6L595.9 1579.2L596.4 1586.5L596.9 1577.8L597.3 1576.7L597.8 1586.2L598.2 1581.6L598.7 1586.9L599.1 1579.8L599.6 1582.2L600 1582.8L600.5 1581.7L601 1578.9L601.4 1583.6L601.9 1583.1L602.3 1582.6L602.8 1579.4L603.2 1579.4L603.7 1577.4L604.1 1578.6L604.6 1579.4L605.1 1583.8L605.5 1581.3L606 1581.7L606.4 1584.2L606.9 1578.3L607.3 1586.5L607.8 1582L608.2 1586.1L608.7 1584.2L609.2 1579.3L609.6 1581.2L610.1 1576.6L610.5 1579.3L611 1583.4L611.4 1581.6L611.9 1577.3L612.3 1580.6L612.8 1577.8L613.3 1576.4L613.7 1577.5L614.2 1576.9L614.6 1572.7L615.1 1575.3L615.5 1571L616 1569L616.4 1561.9L616.9 1564.1L617.4 1561.8L617.8 1553.7L618.3 1541.3L618.7 1531.8L619.2 1503.2L619.6 1469.8L620.1 1401.8L620.5 1290.5L621 1154.2L621.5 1003.1L621.9 932.3L622.4 963.7L622.8 1033.9L623.3 1122L623.7 1219.3L624.2 1303.7L624.6 1369.8L625.1 1426L625.6 1466L626 1494.2L626.5 1509.5L626.9 1528.9L627.4 1538.1L627.8 1545.3L628.3 1553L628.7 1559.7L629.2 1566L629.7 1566.9L630.1 1571.6L630.6 1568.4L631 1574.2L631.5 1571.8L631.9 1576.5L632.4 1583.1L632.8 1580.5L633.3 1579.2L633.8 1582.5L634.2 1584.6L634.7 1585.6L635.1 1588.3L635.6 1583.5L636 1589.7L636.5 1587.9L636.9 1590.3L637.4 1588.7L637.9 1592.8L638.3 1587.7L638.8 1590.6L639.2 1591.4L639.7 1591.4L640.1 1590.2L640.6 1587L641 1589.4L641.5 1586.7L642 1589.4L642.4 1593.2L642.9 1591.1L643.3 1591.3L643.8 1594.2L644.2 1589.9L644.7 1589.7L645.1 1592.1L645.6 1591.2L646.1 1590.6L646.5 1588.3L647 1588.8L647.4 1588.7L647.9 1590L648.3 1590.6L648.8 1590.6L649.2 1586.1L649.7 1591.3L650.2 1585.8L650.6 1590.1L651.1 1588.4L651.5 1586.6L652 1586.9L652.4 1585.4L652.9 1587.9L653.3 1589.3L653.8 1588L654.3 1588L654.7 1588.9L655.2 1586.6L655.6 1585.6L656.1 1586.6L656.5 1587.5L657 1579.3L657.4 1584.7L657.9 1583.7L658.4 1578.2L658.8 1586.9L659.3 1583.5L659.7 1580.5L660.2 1580.6L660.6 1584L661.1 1580.8L661.5 1583.8L662 1581.7L662.5 1582.4L662.9 1584.1L663.4 1582.6L663.8 1587.8L664.3 1585.3L664.7 1590.8L665.2 1588.5L665.6 1587.1L666.1 1594.7L666.6 1586.1L667 1586.1L667.5 1594.8L667.9 1588.7L668.4 1594.8L668.8 1592.8L669.3 1591.6L669.7 1593.4L670.2 1590.5L670.7 1587.3L671.1 1592.6L671.6 1596.6L672 1589.9L672.5 1590.7L672.9 1588.9L673.4 1595.6L673.8 1590.5L674.3 1590.8L674.8 1597.8L675.2 1590.5L675.7 1588.3L676.1 1597.9L676.6 1590.8L677 1589.6L677.5 1589.9L677.9 1596.2L678.4 1598.1L678.9 1592.7L679.3 1591.1L679.8 1594.1L680.2 1589.2L680.7 1593.3L681.1 1588.3L681.6 1594.6L682 1592.1L682.5 1589.5L683 1595L683.4 1593.8L683.9 1593.5L684.3 1594.3L684.8 1594L685.2 1589.3L685.7 1590L686.1 1593.3L686.6 1593.4L687.1 1591.6L687.5 1594.5L688 1593.2L688.4 1598.6L688.9 1594.6L689.3 1593L689.8 1594.6L690.2 1593.7L690.7 1592.3L691.2 1594.9L691.6 1594L692.1 1590.1L692.5 1590.7L693 1594.6L693.4 1594.6L693.9 1593.3L694.3 1588.1L694.8 1593.6L695.3 1590.8L695.7 1591.6L696.2 1592.5L696.6 1595.9L697.1 1593.8L697.5 1590.3L698 1595.3L698.4 1591.8L698.9 1590.3L699.4 1595.2L699.8 1589.2L700.3 1594.3L700.7 1587.3L701.2 1588.8L701.6 1592.1L702.1 1587L702.5 1584.6L703 1584.9L703.5 1585.1L703.9 1580.4L704.4 1578.9L704.8 1571.9L705.3 1567.4L705.7 1566.2L706.2 1563.7L706.6 1561.1L707.1 1561L707.6 1556.5L708 1561.2L708.5 1568.6L708.9 1570.5L709.4 1574.2L709.8 1576.8L710.3 1580.8L710.7 1581.7L711.2 1581.3L711.7 1586L712.1 1589.9L712.6 1586.6L713 1591.7L713.5 1591.6L713.9 1590.9L714.4 1594.7L714.8 1589.8L715.3 1592.9L715.8 1592.7L716.2 1593L716.7 1590.8L717.1 1594.9L717.6 1595.9L718 1597.7L718.5 1592.1L718.9 1593.4L719.4 1596.1L719.9 1595L720.3 1595.8L720.8 1593.3L721.2 1590.8L721.7 1597L722.1 1594.3L722.6 1589.5L723 1594.8L723.5 1592.8L724 1595.7L724.4 1595.2L724.9 1594.1L725.3 1597L725.8 1595.7L726.2 1595L726.7 1601.7L727.1 1598.6L727.6 1593.7L728.1 1597.7L728.5 1595.1L729 1596.3L729.4 1592.6L729.9 1590.7L730.3 1592.9L730.8 1597.2L731.2 1595L731.7 1598L732.2 1591.3L732.6 1600L733.1 1600L733.5 1599.4L734 1599L734.4 1599.3L734.9 1593.8L735.3 1593.4L735.8 1597.7L736.3 1596.2L736.7 1598.9L737.2 1590.9L737.6 1593.2L738.1 1598L738.5 1598L739 1595.1L739.4 1599L739.9 1594.8L740.4 1599.7L740.8 1596L741.3 1596.2L741.7 1592.3L742.2 1593.4L742.6 1596.6L743.1 1594.8L743.5 1595.1L744 1592.6L744.5 1595.5L744.9 1596.9L745.4 1598.3L745.8 1596.4L746.3 1601L746.7 1597L747.2 1595.6L747.6 1597.9L748.1 1599.1L748.6 1595.3L749 1600L749.5 1596.1L749.9 1595.9L750.4 1592.5L750.8 1598L751.3 1602.3L751.7 1599.7L752.2 1595.9L752.7 1595.8L753.1 1596L753.6 1592.6L754 1592.9L754.5 1598.1L754.9 1596L755.4 1595.6L755.8 1597.6L756.3 1596.7L756.8 1595.7L757.2 1595.6L757.7 1597.1L758.1 1591.8L758.6 1595.3L759 1595.9L759.5 1600L759.9 1599.9L760.4 1597.4L760.9 1596.1L761.3 1596.4L761.8 1598.8L762.2 1592.4L762.7 1596.9L763.1 1594.3L763.6 1598.7L764 1598.9L764.5 1591.9L764.9 1592.8L765.4 1599.5L765.9 1597.8L766.3 1596L766.8 1592.4L767.2 1587.2L767.7 1585.2L768.1 1588.5L768.6 1588.8L769 1588.5L769.5 1583.1L770 1580.6L770.4 1585.1L770.9 1589.2L771.3 1588.7L771.8 1583.5L772.2 1581.4L772.7 1585.8L773.1 1582.5L773.6 1589.2L774.1 1584.9L774.5 1592.5L775 1586.5L775.4 1588.3L775.9 1587.4L776.3 1591.9L776.8 1593.7L777.2 1594.2L777.7 1594.3L778.2 1591.6L778.6 1595.9L779.1 1598.5L779.5 1596.1L780 1599.1L780.4 1594.1L780.9 1593.8L781.3 1597.8L781.8 1592.1L782.3 1592.8L782.7 1595.2L783.2 1598.5L783.6 1594.9L784.1 1592.1L784.5 1599.4L785 1595.4L785.4 1596.8L785.9 1595.9L786.4 1595.5L786.8 1598.7L787.3 1593.8L787.7 1597.7L788.2 1598.2L788.6 1596.8L789.1 1598.2L789.5 1592L790 1598.7L790.5 1598.7L790.9 1599L791.4 1594.2L791.8 1594.2L792.3 1592.6L792.7 1594.7L793.2 1597.9L793.6 1593.2L794.1 1594.9L794.6 1598.1L795 1594.6L795.5 1600.8L795.9 1598.1L796.4 1600.4L796.8 1597.7L797.3 1595.6L797.7 1599L798.2 1598.6L798.7 1598L799.1 1597.2L799.6 1600.8L800 1595.9L800.5 1592.4L800.9 1596.8L801.4 1594.5L801.8 1597.3L802.3 1597.8L802.8 1601.2L803.2 1596.2L803.7 1597.3L804.1 1596.6L804.6 1596.8L805 1597.8L805.5 1600.4L805.9 1599.4L806.4 1595.1L806.9 1590.1L807.3 1592.8L807.8 1596.2L808.2 1594.6L808.7 1596.3L809.1 1596.7L809.6 1596.6L810 1592.1L810.5 1595.3L811 1585.2L811.4 1588.7L811.9 1590.1L812.3 1586L812.8 1584.8L813.2 1589.1L813.7 1579.1L814.1 1587.2L814.6 1579.5L815.1 1580.9L815.5 1578.5L816 1583.8L816.4 1582.5L816.9 1581.5L817.3 1583.9L817.8 1581L818.2 1586.4L818.7 1587.1L819.2 1594.5L819.6 1588.7L820.1 1590.8L820.5 1590.7L821 1592.9L821.4 1595L821.9 1590.6L822.3 1593L822.8 1593.3L823.3 1595.5L823.7 1592.8L824.2 1594.3L824.6 1592.2L825.1 1592.6L825.5 1590.7L826 1589.2L826.4 1592.1L826.9 1588.6L827.4 1586.6L827.8 1592.2L828.3 1585.5L828.7 1594.7L829.2 1588.5L829.6 1587.1L830.1 1587.8L830.5 1588.6L831 1589L831.5 1592.4L831.9 1593.7L832.4 1596.5L832.8 1594L833.3 1591.8L833.7 1593.2L834.2 1591.9L834.6 1598.9L835.1 1592L835.6 1591.7L836 1598.5L836.5 1594.7L836.9 1594.4L837.4 1589.8L837.8 1595.7L838.3 1596.2L838.7 1593.9L839.2 1594.4L839.7 1594.1L840.1 1595.2L840.6 1594.5L841 1596.5L841.5 1595.2L841.9 1593.8L842.4 1594.3L842.8 1594.4L843.3 1593.6L843.8 1594.4L844.2 1593.9L844.7 1593.9L845.1 1588.8L845.6 1593.5L846 1592.2L846.5 1596.1L846.9 1590.3L847.4 1589.5L847.9 1587.9L848.3 1588.8L848.8 1590.3L849.2 1583.3L849.7 1585.2L850.1 1587.6L850.6 1586L851 1580.5L851.5 1581L852 1589.3L852.4 1585.9L852.9 1593.1L853.3 1592.3L853.8 1595.1L854.2 1593.6L854.7 1596.5L855.1 1594.4L855.6 1593.9L856.1 1594.7L856.5 1593.4L857 1595.8L857.4 1589L857.9 1596.5L858.3 1595.3L858.8 1592.3L859.2 1598.5L859.7 1590.3L860.2 1591L860.6 1597.3L861.1 1593.6L861.5 1594L862 1594.4L862.4 1594.9L862.9 1597.9L863.3 1596L863.8 1596.4L864.3 1598.3L864.7 1597.3L865.2 1594.6L865.6 1592.3L866.1 1592.7L866.5 1595.3L867 1596L867.4 1594.2L867.9 1597.5L868.4 1596.8L868.8 1591.4L869.3 1594.5L869.7 1594.1L870.2 1595.3L870.6 1592.1L871.1 1593.1L871.5 1590.3L872 1593.4L872.5 1592.4L872.9 1597.1L873.4 1596.7L873.8 1598.1L874.3 1596L874.7 1592.6L875.2 1598.2L875.6 1592.6L876.1 1596.5L876.6 1597.5L877 1595.4L877.5 1594L877.9 1594.9L878.4 1593.4L878.8 1596.1L879.3 1594.1L879.7 1597.2L880.2 1593.9L880.7 1590.5L881.1 1596L881.6 1595.3L882 1598.9L882.5 1600.9L882.9 1597.2L883.4 1594.2L883.8 1590.7L884.3 1599.7L884.8 1594L885.2 1598.8L885.7 1590.7L886.1 1599.4L886.6 1594L887 1597L887.5 1594.2L887.9 1596.1L888.4 1597.2L888.9 1593.8L889.3 1596.3L889.8 1593L890.2 1593L890.7 1594.5L891.1 1596.7L891.6 1597.9L892 1596.5L892.5 1599.3L893 1598.3L893.4 1591.2L893.9 1593L894.3 1596.9L894.8 1596.8L895.2 1598.6L895.7 1597L896.1 1593.8L896.6 1595.6L897.1 1597.5L897.5 1597.4L898 1599L898.4 1599L898.9 1600.3L899.3 1597L899.8 1597.6L900.2 1598.5L900.7 1593.9L901.2 1594.9L901.6 1598.3L902.1 1602.1L902.5 1596.2L903 1599L903.4 1598.2L903.9 1598.4L904.3 1600.3L904.8 1599.1L905.3 1597L905.7 1600.4L906.2 1600.7L906.6 1598.2L907.1 1594.7L907.5 1600.1L908 1593.6L908.4 1599.3L908.9 1598L909.4 1598L909.8 1598.3L910.3 1601.5L910.7 1598L911.2 1602.9L911.6 1596.8L912.1 1596.3L912.5 1600.5L913 1598.3L913.5 1600.1L913.9 1598.1L914.4 1597.8L914.8 1598.9L915.3 1598.6L915.7 1598L916.2 1595L916.6 1594.5L917.1 1602.1L917.6 1596.7L918 1595.5L918.5 1596.8L918.9 1595.9L919.4 1597.2L919.8 1595.6L920.3 1597.4L920.7 1592.7L921.2 1598.1L921.7 1599.9L922.1 1593.8L922.6 1596.8L923 1598.2L923.5 1593.7L923.9 1590.1L924.4 1596.2L924.8 1590.9L925.3 1586.3L925.8 1580.3L926.2 1574.7L926.7 1572.6L927.1 1574.6L927.6 1564.8L928 1569.3L928.5 1567L928.9 1570.1L929.4 1573.6L929.9 1577L930.3 1585L930.8 1581.1L931.2 1584.4L931.7 1591.3L932.1 1589.9L932.6 1590.7L933 1592.3L933.5 1587.8L934 1591.5L934.4 1586.7L934.9 1588.9L935.3 1588.4L935.8 1589.6L936.2 1591.5L936.7 1590.8L937.1 1588.5L937.6 1588.7L938.1 1592.7L938.5 1586.5L939 1590.7L939.4 1594.8L939.9 1590.6L940.3 1592.2L940.8 1594.3L941.2 1599.5L941.7 1599.7L942.2 1597.3L942.6 1599L943.1 1594.3L943.5 1595.8L944 1594.4L944.4 1596.3L944.9 1599.3L945.3 1599.1L945.8 1598.8L946.3 1600.7L946.7 1598.4L947.2 1599.2L947.6 1602.3L948.1 1601.7L948.5 1601.3L949 1598.1L949.4 1597.6L949.9 1604.4L950.4 1600.5L950.8 1599.9L951.3 1603.9L951.7 1599.5L952.2 1601.8L952.6 1598.4L953.1 1599.4L953.5 1605.2L954 1601.1L954.5 1598.7L954.9 1603L955.4 1600L955.8 1598.9L956.3 1603.3L956.7 1602.7L957.2 1601.1L957.6 1602.2L958.1 1600.5L958.6 1604.7L959 1603.3L959.5 1599.2L959.9 1603.3L960.4 1598L960.8 1598.6L961.3 1600.2L961.7 1597.1L962.2 1601.3L962.7 1602.9L963.1 1601.8L963.6 1602.8L964 1603.2L964.5 1600.7L964.9 1606.8L965.4 1603.3L965.8 1602.7L966.3 1600.7L966.8 1601.3L967.2 1600.6L967.7 1601L968.1 1596.2L968.6 1601.9L969 1598.1L969.5 1599.9L969.9 1600.9L970.4 1601.7L970.9 1602L971.3 1602.4L971.8 1603.2L972.2 1602.1L972.7 1603.5L973.1 1603.4L973.6 1598.8L974 1602.9L974.5 1605.8L975 1600L975.4 1604.5L975.9 1599.7L976.3 1599.7L976.8 1603L977.2 1603.1L977.7 1600.2L978.1 1604.4L978.6 1603.1L979.1 1602.8L979.5 1602.5L980 1600.9L980.4 1603.7L980.9 1603.5L981.3 1601.5L981.8 1603.9L982.2 1601.6L982.7 1604.5L983.2 1602.1L983.6 1601.2L984.1 1602.1L984.5 1603.8L985 1606.4L985.4 1600L985.9 1602.3L986.3 1599.6L986.8 1599.4L987.3 1600L987.7 1599.1L988.2 1604.4L988.6 1600.8L989.1 1598L989.5 1597.3L990 1598.2L990.4 1596.9L990.9 1594.3L991.4 1593.2L991.8 1596.6L992.3 1588.4L992.7 1590.2L993.2 1581.6L993.6 1585.5L994.1 1585.1L994.5 1584.2L995 1580.9L995.5 1581.7L995.9 1588.4L996.4 1583.1L996.8 1585.4L997.3 1590.3L997.7 1594.4L998.2 1589L998.6 1594.2L999.1 1596.8L999.6 1602L1000 1599.2L1000.5 1598.1L1000.9 1598L1001.4 1602.7L1001.8 1602.4L1002.3 1602.7L1002.7 1603L1003.2 1600.2L1003.7 1604.1L1004.1 1602L1004.6 1603.7L1005 1603.7L1005.5 1602.1L1005.9 1600.8L1006.4 1602.4L1006.8 1603.7L1007.3 1606.4L1007.8 1604.4L1008.2 1601.3L1008.7 1604.4L1009.1 1603.3L1009.6 1605.6L1010 1605L1010.5 1603.1L1010.9 1605.5L1011.4 1603.3L1011.9 1604L1012.3 1602.1L1012.8 1602L1013.2 1609.2L1013.7 1604.6L1014.1 1604.2L1014.6 1600.3L1015 1605.1L1015.5 1602.7L1016 1600.2L1016.4 1604.4L1016.9 1606.3L1017.3 1605.9L1017.8 1604.6L1018.2 1603.9L1018.7 1604.8L1019.1 1601.5L1019.6 1606.7L1020.1 1600.5L1020.5 1601.7L1021 1601.5L1021.4 1598.9L1021.9 1601.3L1022.3 1600.4L1022.8 1597.9L1023.2 1597.3L1023.7 1601.2L1024.2 1593.8L1024.6 1598L1025.1 1600.3L1025.5 1600.6L1026 1599.2L1026.4 1596L1026.9 1598.3L1027.3 1596.4L1027.8 1595.8L1028.3 1598.8L1028.7 1593.9L1029.2 1597.1L1029.6 1589.2L1030.1 1589.4L1030.5 1585.3L1031 1578L1031.4 1574.3L1031.9 1560.9L1032.4 1556L1032.8 1554.8L1033.3 1557.8L1033.7 1562.2L1034.2 1572.8L1034.6 1579.9L1035.1 1587.8L1035.5 1586.5L1036 1595.1L1036.5 1595.1L1036.9 1597.5L1037.4 1598.7L1037.8 1599.8L1038.3 1602.1L1038.7 1603.2L1039.2 1602.9L1039.6 1602.6L1040.1 1604.5L1040.6 1599L1041 1603.9L1041.5 1604.9L1041.9 1605.4L1042.4 1606.6L1042.8 1605.5L1043.3 1604.7L1043.7 1604.1L1044.2 1604.9L1044.7 1602.4L1045.1 1604.8L1045.6 1602.9L1046 1598.6L1046.5 1603.4L1046.9 1600.9L1047.4 1604.8L1047.8 1604.3L1048.3 1604.4L1048.8 1600.3L1049.2 1604L1049.7 1602.8L1050.1 1599.6L1050.6 1599.6L1051 1600.6L1051.5 1598.3L1051.9 1599.7L1052.4 1597.2L1052.9 1599.8L1053.3 1596.4L1053.8 1594.4L1054.2 1591L1054.7 1591.4L1055.1 1589L1055.6 1584.7L1056 1588.7L1056.5 1590.4L1057 1589.6L1057.4 1593.6L1057.9 1594.6L1058.3 1592.3L1058.8 1597.3L1059.2 1602.3L1059.7 1598.6L1060.1 1598.7L1060.6 1599.4L1061.1 1604.2L1061.5 1600.9L1062 1601.8L1062.4 1602.9L1062.9 1604.9L1063.3 1601.9L1063.8 1602.3L1064.2 1601.3L1064.7 1606.7L1065.2 1601.7L1065.6 1604.7L1066.1 1601.6L1066.5 1601.3L1067 1604.1L1067.4 1606.3L1067.9 1603.8L1068.3 1602.7L1068.8 1605.4L1069.3 1604L1069.7 1603.1L1070.2 1604.1L1070.6 1605.2L1071.1 1608.4L1071.5 1603.2L1072 1605.2L1072.4 1606.5L1072.9 1605.5L1073.4 1603.4L1073.8 1607.4L1074.3 1604.8L1074.7 1606.7L1075.2 1605.8L1075.6 1602.4L1076.1 1607L1076.5 1607.9L1077 1601.5L1077.5 1603L1077.9 1604.5L1078.4 1605.6L1078.8 1605.8L1079.3 1602.4L1079.7 1607.5L1080.2 1604.6L1080.6 1601.8L1081.1 1603.9L1081.6 1608.6L1082 1603.4L1082.5 1604.2L1082.9 1602.8L1083.4 1603.1L1083.8 1603.1L1084.3 1607.2L1084.7 1605.8L1085.2 1607.3L1085.7 1603.4L1086.1 1605.6L1086.6 1601.6L1087 1602.2L1087.5 1603.2L1087.9 1604.7L1088.4 1599.6L1088.8 1602.8L1089.3 1598.6L1089.8 1599.8L1090.2 1601.7L1090.7 1599.6L1091.1 1602.2L1091.6 1603.9L1092 1601.6L1092.5 1606.9L1092.9 1603.4L1093.4 1601.6L1093.9 1600L1094.3 1604.6L1094.8 1604.2L1095.2 1603.7L1095.7 1602.8L1096.1 1605.4L1096.6 1603.2L1097 1607.6L1097.5 1607.9L1098 1606.6L1098.4 1606.9L1098.9 1606.8L1099.3 1606L1099.8 1605.2L1100.2 1606.4L1100.7 1600.8L1101.1 1607.5L1101.6 1608L1102.1 1602.9L1102.5 1609L1103 1607.2L1103.4 1607.6L1103.9 1602.8L1104.3 1603.3L1104.8 1606.3L1105.2 1608.2L1105.7 1609L1106.2 1607.3L1106.6 1607.8L1107.1 1607.8L1107.5 1606.6L1108 1607.6L1108.4 1606.2L1108.9 1607.2L1109.3 1610.9L1109.8 1605.9L1110.3 1604.3L1110.7 1605.4L1111.2 1607L1111.6 1606.9L1112.1 1604.2L1112.5 1605.5L1113 1608.4L1113.4 1607.1L1113.9 1604.7L1114.4 1609.8L1114.8 1611.1L1115.3 1607.1L1115.7 1606L1116.2 1610.5L1116.6 1610.3L1117.1 1609.1L1117.5 1610.4L1118 1608.8L1118.5 1607.8L1118.9 1608.5L1119.4 1606.7L1119.8 1608.7L1120.3 1609.2L1120.7 1606.4L1121.2 1607.9L1121.6 1606.4L1122.1 1608.5L1122.6 1609.6L1123 1610.5L1123.5 1607L1123.9 1608.3L1124.4 1610.5L1124.8 1606.8L1125.3 1609.2L1125.7 1608.2L1126.2 1602.9L1126.7 1603.7L1127.1 1609.6L1127.6 1606.2L1128 1609.7L1128.5 1609.8L1128.9 1610L1129.4 1607.8L1129.8 1606L1130.3 1608.8L1130.8 1607L1131.2 1608.7L1131.7 1607.6L1132.1 1608.1L1132.6 1607L1133 1612.6L1133.5 1604L1133.9 1603.4L1134.4 1608.5L1134.9 1606.5L1135.3 1605.6L1135.8 1605.3L1136.2 1607.5L1136.7 1605.8L1137.1 1608.2L1137.6 1608.5L1138 1607L1138.5 1609.4L1139 1606.2L1139.4 1601.6L1139.9 1605.6L1140.3 1607L1140.8 1604.1L1141.2 1603.9L1141.7 1599.2L1142.1 1601.5L1142.6 1599L1143.1 1595L1143.5 1594.6L1144 1596.2L1144.4 1595.8L1144.9 1595.8L1145.3 1598.2L1145.8 1599.1L1146.2 1597L1146.7 1599.5L1147.2 1600.9L1147.6 1599.9L1148.1 1604L1148.5 1599L1149 1599.8L1149.4 1603.2L1149.9 1600.8L1150.3 1603.6L1150.8 1605.3L1151.3 1602.9L1151.7 1603L1152.2 1602.7L1152.6 1602L1153.1 1598L1153.5 1597L1154 1600.5L1154.4 1598.3L1154.9 1601.6L1155.4 1598.8L1155.8 1600.7L1156.3 1601.8L1156.7 1598L1157.2 1603L1157.6 1601.6L1158.1 1604.2L1158.5 1599.7L1159 1607.2L1159.5 1604.9L1159.9 1608.3L1160.4 1603.2L1160.8 1607.7L1161.3 1606.4L1161.7 1608L1162.2 1607L1162.6 1611.9L1163.1 1610.7L1163.5 1605.9L1164 1610.9L1164.5 1609.3L1164.9 1610.1L1165.4 1606.8L1165.8 1614.1L1166.3 1610.8L1166.7 1610.2L1167.2 1606.2L1167.6 1611.2L1168.1 1610.8L1168.6 1612.1L1169 1611.5L1169.5 1606.8L1169.9 1611.6L1170.4 1613.9L1170.8 1610.4L1171.3 1607.5L1171.7 1608L1172.2 1607.1L1172.7 1610.7L1173.1 1610.5L1173.6 1609.3L1174 1611.6L1174.5 1611.7L1174.9 1609.5L1175.4 1609.8L1175.8 1611.7L1176.3 1610L1176.8 1615.5L1177.2 1608.5L1177.7 1609.6L1178.1 1611.6L1178.6 1607.5L1179 1608.9L1179.5 1610.9L1179.9 1611L1180.4 1608.9L1180.9 1609.7L1181.3 1612L1181.8 1612.8L1182.2 1610.3L1182.7 1609.6L1183.1 1612.2L1183.6 1609.2L1184 1612.6L1184.5 1613.5L1185 1609.9L1185.4 1613.1L1185.9 1612.9L1186.3 1610.2L1186.8 1612.8L1187.2 1609.7L1187.7 1614.3L1188.1 1609.3L1188.6 1612.8L1189.1 1610.5L1189.5 1606.7L1190 1610.6L1190.4 1608.5L1190.9 1611.9L1191.3 1610.3L1191.8 1610.6L1192.2 1611.1L1192.7 1612.7L1193.2 1611.5L1193.6 1610.8L1194.1 1612.1L1194.5 1616.7L1195 1612.7L1195.4 1612.6L1195.9 1610.2L1196.3 1612.4L1196.8 1613.8L1197.3 1609.5L1197.7 1609.5L1198.2 1613.1L1198.6 1607.6L1199.1 1610.1L1199.5 1612.8L1200 1611.5L1200.4 1609.6L1200.9 1615.6L1201.4 1613.5L1201.8 1610.5L1202.3 1611.5L1202.7 1609.4L1203.2 1610L1203.6 1611.2L1204.1 1614.7L1204.5 1610.7L1205 1610.9L1205.5 1613.6L1205.9 1610.7L1206.4 1614.3L1206.8 1614.4L1207.3 1611.8L1207.7 1613.1L1208.2 1608.6L1208.6 1613.7L1209.1 1608L1209.6 1613.8L1210 1611.8L1210.5 1611.3L1210.9 1617.5L1211.4 1613.8L1211.8 1616.3L1212.3 1611.3L1212.7 1610.2L1213.2 1614L1213.7 1611.9L1214.1 1614.7L1214.6 1612.5L1215 1612L1215.5 1615.2L1215.9 1611.9L1216.4 1611.3L1216.8 1615.2L1217.3 1613.1L1217.8 1613.7L1218.2 1610.2L1218.7 1612.7L1219.1 1608.3L1219.6 1613.9L1220 1612.1L1220.5 1609.1L1220.9 1611.6L1221.4 1612.1L1221.9 1612.2L1222.3 1613.4L1222.8 1612.8L1223.2 1613.3L1223.7 1610.2L1224.1 1611.4L1224.6 1613.3L1225 1614.9L1225.5 1615.9L1226 1611.1L1226.4 1613.2L1226.9 1612.1L1227.3 1617.9L1227.8 1610.5L1228.2 1609.9L1228.7 1613.2L1229.1 1611.1L1229.6 1613.2L1230.1 1613.7L1230.5 1612.6L1231 1615L1231.4 1614.9L1231.9 1613.1L1232.3 1611.5L1232.8 1615.9L1233.2 1611.7L1233.7 1611.9L1234.2 1613.3L1234.6 1612.2L1235.1 1609.8L1235.5 1614.3L1236 1611.2L1236.4 1612.9L1236.9 1612.5L1237.3 1613.4L1237.8 1612.6L1238.3 1610.2L1238.7 1613.5L1239.2 1612.6L1239.6 1611.5L1240.1 1607.8L1240.5 1612.1L1241 1612.2L1241.4 1610.1L1241.9 1612.1L1242.4 1613.9L1242.8 1608.6L1243.3 1608L1243.7 1610.9L1244.2 1609.5L1244.6 1608.3L1245.1 1607.4L1245.5 1611.3L1246 1614.2L1246.5 1609.4L1246.9 1614.6L1247.4 1609.7L1247.8 1613.1L1248.3 1614.2L1248.7 1610.4L1249.2 1609.8L1249.6 1612.1L1250.1 1614.6L1250.6 1612.2L1251 1611.7L1251.5 1610.9L1251.9 1612.3L1252.4 1611.3L1252.8 1614.7L1253.3 1613L1253.7 1610.3L1254.2 1607.3L1254.7 1610.8L1255.1 1611.1L1255.6 1608.5L1256 1609.7L1256.5 1608.5L1256.9 1608.6L1257.4 1610.3L1257.8 1610.2L1258.3 1608.7L1258.8 1610.3L1259.2 1611.5L1259.7 1609.5L1260.1 1608.1L1260.6 1609.6L1261 1611.1L1261.5 1613L1261.9 1608.4L1262.4 1611L1262.9 1614.5L1263.3 1612.4L1263.8 1613.1L1264.2 1610.6L1264.7 1611.5L1265.1 1611.1L1265.6 1617.3L1266 1616.9L1266.5 1614.3L1267 1611.7L1267.4 1613.6L1267.9 1609.3L1268.3 1614.7L1268.8 1615.9L1269.2 1616.1L1269.7 1615L1270.1 1615.1L1270.6 1611.1L1271.1 1616.6L1271.5 1615.6L1272 1615.2L1272.4 1611.1L1272.9 1615.2L1273.3 1613.6L1273.8 1614.1L1274.2 1614.8L1274.7 1613.8L1275.2 1615.3L1275.6 1611.7L1276.1 1613.2L1276.5 1614.9L1277 1614.8L1277.4 1612.1L1277.9 1618.2L1278.3 1614.4L1278.8 1611.4L1279.3 1613.8L1279.7 1616.6L1280.2 1612.3L1280.6 1615L1281.1 1611.3L1281.5 1617.1L1282 1615L1282.4 1612.2L1282.9 1616.1L1283.4 1617L1283.8 1613.6L1284.3 1615.2L1284.7 1613.1L1285.2 1614.9L1285.6 1615.9L1286.1 1614.5L1286.5 1614.1L1287 1616.9L1287.5 1612.2L1287.9 1616.1L1288.4 1613.7L1288.8 1615.2L1289.3 1614.6L1289.7 1616.6L1290.2 1614.3L1290.6 1614.8L1291.1 1612.6L1291.6 1609.3L1292 1614L1292.5 1615.5L1292.9 1612L1293.4 1614.7L1293.8 1612.1L1294.3 1615.9L1294.7 1614.7L1295.2 1610.1L1295.7 1614.5L1296.1 1613.5L1296.6 1611.3L1297 1609.9L1297.5 1612.6L1297.9 1617.1L1298.4 1616.7L1298.8 1611.4L1299.3 1611.7L1299.8 1612.3L1300.2 1609.9L1300.7 1617.7L1301.1 1613.5L1301.6 1614.3L1302 1614.8L1302.5 1612L1302.9 1612.7L1303.4 1612.1L1303.9 1614.1L1304.3 1615.4L1304.8 1610.5L1305.2 1615.6L1305.7 1615.5L1306.1 1615.7L1306.6 1611.5L1307 1609.4L1307.5 1610.6L1308 1611.8L1308.4 1616.7L1308.9 1612.9L1309.3 1611.2L1309.8 1613.1L1310.2 1609.9L1310.7 1610.9L1311.1 1612.9L1311.6 1616.9L1312.1 1614.1L1312.5 1610.3L1313 1616.7L1313.4 1614.2L1313.9 1610.9L1314.3 1616.2L1314.8 1612.5L1315.2 1611.6L1315.7 1611.8L1316.2 1614.7L1316.6 1612.1L1317.1 1613.7L1317.5 1611.8L1318 1609.7L1318.4 1608.9L1318.9 1611.9L1319.3 1613.2L1319.8 1613.4L1320.3 1611.1L1320.7 1612.4L1321.2 1613.7L1321.6 1613.1L1322.1 1613.6L1322.5 1610.3L1323 1611.5L1323.4 1611.2L1323.9 1615.4L1324.4 1612.6L1324.8 1611.2L1325.3 1611.1L1325.7 1613.2L1326.2 1615.6L1326.6 1614.9L1327.1 1611.8L1327.5 1612.1L1328 1615.2L1328.5 1613L1328.9 1614.1L1329.4 1615.4L1329.8 1610.3L1330.3 1612.9L1330.7 1614.3L1331.2 1613.3L1331.6 1611.8L1332.1 1609.9L1332.6 1609.6L1333 1611.6L1333.5 1610.3L1333.9 1606.8L1334.4 1611.5L1334.8 1609.1L1335.3 1605.3L1335.7 1609L1336.2 1607.4L1336.7 1610.9L1337.1 1609.9L1337.6 1604.6L1338 1607.2L1338.5 1604.2L1338.9 1603.8L1339.4 1605.4L1339.8 1607.7L1340.3 1607.4L1340.8 1611.1L1341.2 1608.4L1341.7 1607.5L1342.1 1612.6L1342.6 1610.3L1343 1611.8L1343.5 1608.3L1343.9 1613.7L1344.4 1610.6L1344.9 1611L1345.3 1610.5L1345.8 1612.7L1346.2 1611L1346.7 1612.4L1347.1 1615.4L1347.6 1610.1L1348 1610.9L1348.5 1611.5L1349 1610.1L1349.4 1613.2L1349.9 1614.9L1350.3 1612.4L1350.8 1617.6L1351.2 1614.5L1351.7 1616.2L1352.1 1615.8L1352.6 1612.5L1353.1 1613.3L1353.5 1614.4L1354 1613.9L1354.4 1614.2L1354.9 1611.8L1355.3 1615.7L1355.8 1612.2L1356.2 1616.4L1356.7 1614.4L1357.2 1612.9L1357.6 1614.1L1358.1 1613.9L1358.5 1612.3L1359 1615.6L1359.4 1615.9L1359.9 1615.4L1360.3 1610.8L1360.8 1615.2L1361.3 1616.9L1361.7 1614.2L1362.2 1614.4L1362.6 1613.9L1363.1 1618.7L1363.5 1613.7L1364 1619.3L1364.4 1616.9L1364.9 1617.7L1365.4 1617.1L1365.8 1614.8L1366.3 1615.4L1366.7 1611.8L1367.2 1613.3L1367.6 1612.1L1368.1 1618L1368.5 1614.5L1369 1616.2L1369.5 1614.2L1369.9 1617.6L1370.4 1615.1L1370.8 1614.3L1371.3 1615.6L1371.7 1615.3L1372.2 1614.7L1372.6 1617.4L1373.1 1615.2L1373.6 1616L1374 1614.2L1374.5 1613.9L1374.9 1616.2L1375.4 1612.8L1375.8 1615.1L1376.3 1611.5L1376.7 1615.9L1377.2 1614.3L1377.7 1615.3L1378.1 1615L1378.6 1613.7L1379 1615.8L1379.5 1618.1L1379.9 1616.8L1380.4 1616.4L1380.8 1617.1L1381.3 1617.5L1381.8 1618.7L1382.2 1616.2L1382.7 1614.7L1383.1 1613.7L1383.6 1615L1384 1614.9L1384.5 1615.8L1384.9 1619.3L1385.4 1615.5L1385.9 1617.8L1386.3 1615.2L1386.8 1614.9L1387.2 1614.1L1387.7 1616.5L1388.1 1613.9L1388.6 1618.5L1389 1615.3L1389.5 1617.3L1390 1614.9L1390.4 1617.9L1390.9 1613.9L1391.3 1615.3L1391.8 1616.3L1392.2 1614.4L1392.7 1614.6L1393.1 1615.4L1393.6 1616.1L1394.1 1614.2L1394.5 1615.1L1395 1617.4L1395.4 1618.8L1395.9 1616.2L1396.3 1613.5L1396.8 1614.4L1397.2 1615.6L1397.7 1618.3L1398.2 1615L1398.6 1613.7L1399.1 1614.5L1399.5 1618.5L1400 1616.3L1400.4 1615.3L1400.9 1614.5L1401.3 1615.8L1401.8 1618L1402.3 1615.7L1402.7 1617.5L1403.2 1616.1L1403.6 1618.2L1404.1 1616.4L1404.5 1615.7L1405 1615.4L1405.4 1617.4L1405.9 1616.4L1406.4 1616.3L1406.8 1617.1L1407.3 1614.9L1407.7 1614.4L1408.2 1617L1408.6 1617.8L1409.1 1617.5L1409.5 1617.1L1410 1618.4L1410.5 1614.9L1410.9 1615.7L1411.4 1617.4L1411.8 1619.1L1412.3 1618.5L1412.7 1614.2L1413.2 1617.8L1413.6 1614.8L1414.1 1618.7L1414.6 1616.9L1415 1617.7L1415.5 1613.5L1415.9 1615.4L1416.4 1619.1L1416.8 1614.9L1417.3 1611.7L1417.7 1614.6L1418.2 1612L1418.7 1617.6L1419.1 1615.3L1419.6 1614.2L1420 1617.5L1420.5 1616.7L1420.9 1616.6L1421.4 1613.3L1421.8 1614L1422.3 1619.2L1422.8 1614.1L1423.2 1617.3L1423.7 1612L1424.1 1617.8L1424.6 1617.8L1425 1617.4L1425.5 1616.4L1425.9 1614L1426.4 1614.5L1426.9 1616.5L1427.3 1617.2L1427.8 1612L1428.2 1618.8L1428.7 1617.6L1429.1 1618.5L1429.6 1618.1L1430 1617.2L1430.5 1614.7L1431 1614.6L1431.4 1614.1L1431.9 1615.7L1432.3 1615.2L1432.8 1618.3L1433.2 1618.7L1433.7 1619L1434.1 1614.9L1434.6 1618.1L1435.1 1615.3L1435.5 1615.8L1436 1615.8L1436.4 1619.2L1436.9 1615.8L1437.3 1620.4L1437.8 1620.2L1438.2 1614.1L1438.7 1613.7L1439.2 1618L1439.6 1615.1L1440.1 1617.5L1440.5 1619.1L1441 1617.4L1441.4 1612.9L1441.9 1617.6L1442.3 1617.9L1442.8 1614.9L1443.3 1616.1L1443.7 1617.8L1444.2 1621.2L1444.6 1615.4L1445.1 1616.3L1445.5 1616.6L1446 1614.8L1446.4 1616L1446.9 1615.4L1447.4 1616.2L1447.8 1616.6L1448.3 1616.4L1448.7 1616L1449.2 1616.8L1449.6 1616.9L1450.1 1618.5L1450.5 1617.1L1451 1621.4L1451.5 1613L1451.9 1615.5L1452.4 1617.3L1452.8 1618.8L1453.3 1615.8L1453.7 1617.3L1454.2 1615.6L1454.6 1618.6L1455.1 1619.6L1455.6 1619.6L1456 1614.7L1456.5 1615.6L1456.9 1618.5L1457.4 1616.7L1457.8 1616.5L1458.3 1619L1458.7 1615.4L1459.2 1615.4L1459.7 1618.9L1460.1 1615.1L1460.6 1617.3L1461 1615.5L1461.5 1617.1L1461.9 1617.3L1462.4 1612.3L1462.8 1615.4L1463.3 1616.3L1463.8 1612.5L1464.2 1615.2L1464.7 1614.8L1465.1 1617.5L1465.6 1613.5L1466 1615.7L1466.5 1616.5L1466.9 1616.3L1467.4 1616L1467.9 1613.8L1468.3 1615.8L1468.8 1616.5L1469.2 1615.2L1469.7 1617.3L1470.1 1617.8L1470.6 1613.7L1471 1617.8L1471.5 1618.3L1472 1615.9L1472.4 1616.5L1472.9 1622.2L1473.3 1618.7L1473.8 1617.2L1474.2 1616.6L1474.7 1620.2L1475.1 1617.9L1475.6 1618.9L1476.1 1620.3L1476.5 1618.2L1477 1618.6L1477.4 1617.5L1477.9 1618L1478.3 1617.2L1478.8 1619.7L1479.2 1616.2L1479.7 1622.9L1480.2 1619.9L1480.6 1618.1L1481.1 1619.6L1481.5 1618.8L1482 1619.6L1482.4 1618.2L1482.9 1617.4L1483.3 1618.3L1483.8 1620.6L1484.3 1614.8L1484.7 1619.7L1485.2 1618.7L1485.6 1619.2L1486.1 1617.5L1486.5 1620.7L1487 1617.2L1487.4 1620L1487.9 1615.5L1488.4 1620.5L1488.8 1619.8L1489.3 1619.3L1489.7 1617.4L1490.2 1620.1L1490.6 1622L1491.1 1623.3L1491.5 1619.6L1492 1616.2L1492.5 1619L1492.9 1617.3L1493.4 1615.2L1493.8 1621.6L1494.3 1620.2L1494.7 1620.7L1495.2 1617.1L1495.6 1617.3L1496.1 1620.2L1496.6 1620.5L1497 1617.8L1497.5 1620.4L1497.9 1616.1L1498.4 1620.3L1498.8 1620.3L1499.3 1620.3L1499.7 1620.3L1500.2 1620.1L1500.7 1620L1501.1 1620.1L1501.6 1618.5L1502 1615.6L1502.5 1617.8L1502.9 1618.9L1503.4 1616.5L1503.8 1619.1L1504.3 1620.5L1504.8 1619.6L1505.2 1622.3L1505.7 1620L1506.1 1619.3L1506.6 1617.9L1507 1616.9L1507.5 1618L1507.9 1618.3L1508.4 1618.2L1508.9 1616.2L1509.3 1617.5L1509.8 1622.6L1510.2 1618.5L1510.7 1621.4L1511.1 1617.4L1511.6 1619.2L1512 1618.6L1512.5 1619.6L1513 1619.6L1513.4 1618.2L1513.9 1618.1L1514.3 1616L1514.8 1618.8L1515.2 1616.6L1515.7 1617.9L1516.1 1615L1516.6 1617.3L1517.1 1616.1L1517.5 1616.2L1518 1617.9L1518.4 1619L1518.9 1615.3L1519.3 1617.9L1519.8 1616.9L1520.2 1621.6L1520.7 1621L1521.2 1616L1521.6 1615.2L1522.1 1620.4L1522.5 1617.8L1523 1616.3L1523.4 1621.5L1523.9 1622L1524.3 1616.2L1524.8 1619.2L1525.3 1617.7L1525.7 1618.6L1526.2 1618.9L1526.6 1619.1L1527.1 1616.7L1527.5 1619.8L1528 1619.7L1528.4 1617.7L1528.9 1620.9L1529.4 1619L1529.8 1617.7L1530.3 1618.9L1530.7 1618.4L1531.2 1618.3L1531.6 1619.5L1532.1 1616.8L1532.5 1619.4L1533 1615.1L1533.5 1616.8L1533.9 1618.2L1534.4 1620.6L1534.8 1621.7L1535.3 1622.8L1535.7 1619.3L1536.2 1619.7L1536.6 1620L1537.1 1620.7L1537.6 1620.6L1538 1620.5L1538.5 1622.1L1538.9 1617.4L1539.4 1617.5L1539.8 1617.8L1540.3 1618.4L1540.7 1618.4L1541.2 1622.5L1541.7 1618.5L1542.1 1619.4L1542.6 1616.7L1543 1618.2L1543.5 1617.5L1543.9 1619.8L1544.4 1621.6L1544.8 1621.5L1545.3 1622.4L1545.8 1617.8L1546.2 1620.3L1546.7 1621.4L1547.1 1621.7L1547.6 1619.7L1548 1620.5L1548.5 1622.2L1548.9 1619.3L1549.4 1619.6L1549.9 1619.6L1550.3 1616.4L1550.8 1620.9L1551.2 1619.5L1551.7 1618.6L1552.1 1620.1L1552.6 1619.9L1553 1620.9L1553.5 1619.2L1554 1619L1554.4 1618L1554.9 1618.2L1555.3 1619L1555.8 1617.4L1556.2 1618.9L1556.7 1619.1L1557.1 1619.1L1557.6 1617.3L1558.1 1622L1558.5 1618.3L1559 1618.6L1559.4 1620.3L1559.9 1619.3L1560.3 1620.1L1560.8 1620L1561.2 1619.7L1561.7 1619.8L1562.1 1618.9L1562.6 1620.5L1563.1 1615.2L1563.5 1619.2L1564 1619.3L1564.4 1621L1564.9 1621.2L1565.3 1620.2L1565.8 1616.7L1566.2 1620.7L1566.7 1618L1567.2 1618.4L1567.6 1617.1L1568.1 1618.5L1568.5 1621.1L1569 1619L1569.4 1619.4L1569.9 1616.7L1570.3 1616.7L1570.8 1617.3L1571.3 1618.5L1571.7 1617.1L1572.2 1618L1572.6 1621.2L1573.1 1618.3L1573.5 1620.1L1574 1621.9L1574.4 1617.2L1574.9 1618.1L1575.4 1616.7L1575.8 1618.2L1576.3 1617.9L1576.7 1618.4L1577.2 1620.9L1577.6 1617.4L1578.1 1617.6L1578.5 1617.2L1579 1619L1579.5 1618.2L1579.9 1616.2L1580.4 1620L1580.8 1618.8L1581.3 1620.2L1581.7 1619.5L1582.2 1618.1L1582.6 1618.5L1583.1 1618.7L1583.6 1615.6L1584 1617.3L1584.5 1616.8L1584.9 1619.4L1585.4 1616.7L1585.8 1619.8L1586.3 1618.4L1586.7 1619.9L1587.2 1619.7L1587.7 1620.7L1588.1 1621.2L1588.6 1617.5L1589 1619.2L1589.5 1617.6L1589.9 1619.2L1590.4 1619.5L1590.8 1618.9L1591.3 1621.2L1591.8 1619.6L1592.2 1617.5L1592.7 1616.7L1593.1 1618.2L1593.6 1618.7L1594 1620.9L1594.5 1618.3L1594.9 1620.2L1595.4 1617.8L1595.9 1616.4L1596.3 1619.4L1596.8 1619.1L1597.2 1616.9L1597.7 1620.3L1598.1 1619.5L1598.6 1618L1599 1619.3L1599.5 1619.3L1600 1619.5L1600.4 1617.3L1600.9 1615.9L1601.3 1619L1601.8 1618.4L1602.2 1619.7L1602.7 1619.1L1603.1 1618.6L1603.6 1617.9L1604.1 1620.1L1604.5 1616.6L1605 1621.4L1605.4 1618.2L1605.9 1617.5L1606.3 1618.2L1606.8 1618.5L1607.2 1619.2L1607.7 1622L1608.2 1617.2L1608.6 1621.7L1609.1 1621.1L1609.5 1619.7L1610 1619.1L1610.4 1621.1L1610.9 1619.4L1611.3 1619.7L1611.8 1619.1L1612.3 1620.7L1612.7 1618.3L1613.2 1617.3L1613.6 1619.5L1614.1 1617.3L1614.5 1618.7L1615 1618.2L1615.4 1618.8L1615.9 1622.5L1616.4 1619.6L1616.8 1622.9L1617.3 1619.6L1617.7 1622.9L1618.2 1617.8L1618.6 1618.4L1619.1 1618L1619.5 1619.1L1620 1617.3L1620.5 1620.2L1620.9 1619L1621.4 1618L1621.8 1622.3L1622.3 1617.9L1622.7 1617.1L1623.2 1621.9L1623.6 1617.8L1624.1 1618.3L1624.6 1619L1625 1620.1L1625.5 1617L1625.9 1618.1L1626.4 1621L1626.8 1616L1627.3 1618.2L1627.7 1617.8L1628.2 1617.8L1628.7 1615.9L1629.1 1620.2L1629.6 1616.2L1630 1617L1630.5 1620.4L1630.9 1616.5L1631.4 1619.6L1631.8 1616.6L1632.3 1617.9L1632.8 1618L1633.2 1622.1L1633.7 1620.8L1634.1 1618.4L1634.6 1618L1635 1619.3L1635.5 1622.8L1635.9 1617.1L1636.4 1617.9L1636.9 1616.4L1637.3 1619.3L1637.8 1617.7L1638.2 1618.1L1638.7 1620.2L1639.1 1622.3L1639.6 1619.4L1640 1619.7L1640.5 1618.2L1641 1615.6L1641.4 1620.6L1641.9 1619L1642.3 1621.3L1642.8 1617.8L1643.2 1619.2L1643.7 1621L1644.1 1619.7L1644.6 1620.7L1645.1 1617.1L1645.5 1619.8L1646 1619.5L1646.4 1620.6L1646.9 1616.7L1647.3 1618.3L1647.8 1618.3L1648.2 1618.8L1648.7 1618.5L1649.2 1618.1L1649.6 1621L1650.1 1620.1L1650.5 1619L1651 1619.2L1651.4 1621.2L1651.9 1617.9L1652.3 1617.8L1652.8 1619.3L1653.3 1615.6L1653.7 1619.3L1654.2 1620.2L1654.6 1620.4L1655.1 1619.2L1655.5 1620.8L1656 1617.8L1656.4 1619.2L1656.9 1619.8L1657.4 1618.9L1657.8 1618.8L1658.3 1619L1658.7 1619.1L1659.2 1618.8L1659.6 1620.9L1660.1 1620.9L1660.5 1622.6L1661 1618.9L1661.5 1617.8L1661.9 1618.6L1662.4 1621L1662.8 1618.8L1663.3 1618.7L1663.7 1615.4L1664.2 1618L1664.6 1620.7L1665.1 1621.1L1665.6 1617.5L1666 1621L1666.5 1618.6L1666.9 1620.7L1667.4 1617L1667.8 1620.3L1668.3 1621.5L1668.7 1615.9L1669.2 1619.5L1669.7 1619.8L1670.1 1618.5L1670.6 1619.7L1671 1619.2L1671.5 1620.3L1671.9 1619.8L1672.4 1620.1L1672.8 1617.6L1673.3 1617.3L1673.8 1617.8L1674.2 1619.2L1674.7 1619.8L1675.1 1620L1675.6 1621.1L1676 1618.1L1676.5 1618.9L1676.9 1619.3L1677.4 1619.7L1677.9 1621.3L1678.3 1617.9L1678.8 1616.9L1679.2 1616.3L1679.7 1618.3L1680.1 1615.6L1680.6 1618.5L1681 1619.4L1681.5 1618.3L1682 1617.5L1682.4 1617.3L1682.9 1615L1683.3 1617.2L1683.8 1617.5L1684.2 1617.5L1684.7 1618.4L1685.1 1616.6L1685.6 1614.2L1686.1 1616.6L1686.5 1617.7L1687 1616.2L1687.4 1618.1L1687.9 1618.3L1688.3 1617.3L1688.8 1616.8L1689.2 1619.3L1689.7 1617.7L1690.2 1618.4L1690.6 1618.8L1691.1 1620L1691.5 1619.9L1692 1619.1L1692.4 1619L1692.9 1617.1L1693.3 1616.7L1693.8 1617.6L1694.3 1617.8L1694.7 1621.5L1695.2 1616.8L1695.6 1618.4L1696.1 1621.2L1696.5 1617.5L1697 1620.6L1697.4 1621.3L1697.9 1618.2L1698.4 1621.5L1698.8 1618.4L1699.3 1621.4L1699.7 1620L1700.2 1621.3L1700.6 1617.5L1701.1 1620.7L1701.5 1617.2L1702 1620.7L1702.5 1621.1L1702.9 1617.8L1703.4 1621.6L1703.8 1621.1L1704.3 1619.7L1704.7 1619L1705.2 1621.4L1705.6 1619L1706.1 1619L1706.6 1619.8L1707 1620.2L1707.5 1621.8L1707.9 1617.8L1708.4 1619.2L1708.8 1619.1L1709.3 1620.1L1709.7 1619.3L1710.2 1618.8L1710.7 1621.4L1711.1 1619.9L1711.6 1617.9L1712 1618.4L1712.5 1618L1712.9 1619.7L1713.4 1619.4L1713.8 1618L1714.3 1616.9L1714.8 1617.4L1715.2 1621.2L1715.7 1621.4L1716.1 1618.9L1716.6 1622.1L1717 1618.6L1717.5 1621.1L1717.9 1618.2L1718.4 1620.7L1718.9 1617.8L1719.3 1621.1L1719.8 1619.2L1720.2 1620.8L1720.7 1619.2L1721.1 1619.5L1721.6 1618.4L1722 1620.6L1722.5 1618.7L1723 1623.5L1723.4 1620.1L1723.9 1619.4L1724.3 1621L1724.8 1618.4L1725.2 1618.1L1725.7 1617.5L1726.1 1621.9L1726.6 1620.4L1727.1 1622L1727.5 1617.8L1728 1616.2L1728.4 1619.8L1728.9 1622L1729.3 1620.5L1729.8 1620.6L1730.2 1620.9L1730.7 1620.3L1731.2 1621.2L1731.6 1621.4L1732.1 1620.2L1732.5 1620.2L1733 1618.2L1733.4 1619.3L1733.9 1621.2L1734.3 1619.1L1734.8 1621.2L1735.3 1619.3L1735.7 1620.7L1736.2 1618.6L1736.6 1623.6L1737.1 1618.7L1737.5 1619.8L1738 1620.4L1738.4 1617.2L1738.9 1619.1L1739.4 1620.9L1739.8 1619.7L1740.3 1619L1740.7 1618.9L1741.2 1618.3L1741.6 1621.2L1742.1 1621L1742.5 1616.7L1743 1620.2L1743.5 1619.7L1743.9 1619.6L1744.4 1622.5L1744.8 1616.5L1745.3 1623.7L1745.7 1619.8L1746.2 1622L1746.6 1618.5L1747.1 1621.3L1747.6 1621.9L1748 1619.5L1748.5 1620.1L1748.9 1620.7L1749.4 1620.3L1749.8 1621.9L1750.3 1621.4L1750.7 1622.4L1751.2 1617.8L1751.7 1620.8L1752.1 1619.1L1752.6 1619.8L1753 1620.2L1753.5 1618.5L1753.9 1619.3L1754.4 1620.4L1754.8 1620.4L1755.3 1621.1L1755.8 1622.9L1756.2 1619L1756.7 1618.9L1757.1 1620.7L1757.6 1622.9L1758 1619.7L1758.5 1618L1758.9 1619.1L1759.4 1622.2"/>
<path stroke="#000000" stroke-width="5.6" d="M165 2398.3L165.5 2398.3L165.9 2397.3L166.4 2398.8L166.8 2399.1L167.3 2397.1L167.7 2397.9L168.2 2399.1L168.6 2397.4L169.1 2397.6L169.6 2397.3L170 2399.4L170.5 2399L170.9 2397.6L171.4 2399L171.8 2399.1L172.3 2399.1L172.7 2399.2L173.2 2399.3L173.7 2398.3L174.1 2399.4L174.6 2398.2L175 2400.2L175.5 2398.2L175.9 2399L176.4 2399.9L176.8 2398.6L177.3 2398.9L177.8 2398.9L178.2 2398.6L178.7 2399.4L179.1 2399.8L179.6 2398.4L180 2399.9L180.5 2398.2L180.9 2398.7L181.4 2397.5L181.9 2397.7L182.3 2399.4L182.8 2398.1L183.2 2398.5L183.7 2397.6L184.1 2399.6L184.6 2398.4L185 2398.3L185.5 2400.4L186 2399.2L186.4 2399.2L186.9 2398.4L187.3 2400.5L187.8 2399L188.2 2399.7L188.7 2399.7L189.1 2398.4L189.6 2399.2L190.1 2399.6L190.5 2399.9L191 2399.7L191.4 2398.9L191.9 2399.6L192.3 2400L192.8 2398.4L193.2 2399.5L193.7 2399.7L194.2 2400.1L194.6 2399.4L195.1 2399.7L195.5 2397.9L196 2398.7L196.4 2398.1L196.9 2399.6L197.3 2400.4L197.8 2400.1L198.3 2399.2L198.7 2400.7L199.2 2399.8L199.6 2400.1L200.1 2399.6L200.5 2400L201 2399.4L201.4 2400.1L201.9 2400.1L202.4 2399.3L202.8 2400.6L203.3 2400.1L203.7 2399.1L204.2 2398.4L204.6 2399.6L205.1 2400.4L205.5 2399.5L206 2400.6L206.5 2400.1L206.9 2399.9L207.4 2400.3L207.8 2400.3L208.3 2399.9L208.7 2400.2L209.2 2400.3L209.6 2399.9L210.1 2401.6L210.6 2400.6L211 2400.8L211.5 2400.9L211.9 2400.8L212.4 2400.1L212.8 2399.4L213.3 2399.9L213.7 2401.4L214.2 2400.6L214.7 2399.3L215.1 2400.3L215.6 2400.7L216 2399.7L216.5 2400.1L216.9 2400.3L217.4 2401.6L217.8 2400.4L218.3 2400.4L218.8 2399.4L219.2 2401.2L219.7 2401.2L220.1 2400.7L220.6 2400.4L221 2401L221.5 2400.6L221.9 2400.9L222.4 2401.3L222.9 2400.6L223.3 2400.3L223.8 2400.9L224.2 2399.9L224.7 2399.9L225.1 2401.5L225.6 2399.6L226 2399.5L226.5 2400.1L227 2400.4L227.4 2400.2L227.9 2401.2L228.3 2400.6L228.8 2399.2L229.2 2400L229.7 2400.8L230.1 2399.3L230.6 2401.3L231.1 2401.2L231.5 2400.7L232 2400.8L232.4 2399.6L232.9 2400.9L233.3 2401.2L233.8 2399.9L234.2 2401.1L234.7 2401.8L235.2 2402.2L235.6 2401.3L236.1 2401L236.5 2401.2L237 2400.5L237.4 2401.1L237.9 2401.4L238.3 2400.4L238.8 2400.7L239.3 2401.2L239.7 2400.7L240.2 2402L240.6 2400.3L241.1 2401.2L241.5 2401.3L242 2401.7L242.4 2400.7L242.9 2400.6L243.4 2401.2L243.8 2401.1L244.3 2401.1L244.7 2401.9L245.2 2400.8L245.6 2402L246.1 2401.5L246.5 2402.2L247 2401.7L247.5 2401.8L247.9 2401.5L248.4 2401.5L248.8 2400.2L249.3 2402.4L249.7 2402.5L250.2 2401.2L250.6 2402.1L251.1 2401.3L251.6 2402.1L252 2400.9L252.5 2401.5L252.9 2401.9L253.4 2401.4L253.8 2402.1L254.3 2400.9L254.7 2401.2L255.2 2402.3L255.7 2401L256.1 2401.3L256.6 2400.5L257 2401.1L257.5 2401.4L257.9 2402.7L258.4 2401.5L258.8 2402.2L259.3 2401.9L259.8 2401.5L260.2 2401.2L260.7 2402.8L261.1 2401.5L261.6 2401.3L262 2400.6L262.5 2401.7L262.9 2401.8L263.4 2402L263.9 2401L264.3 2400.9L264.8 2400.6L265.2 2401.5L265.7 2401.3L266.1 2401.5L266.6 2402.2L267 2401.4L267.5 2402.3L268 2400.4L268.4 2402.5L268.9 2401.8L269.3 2401.5L269.8 2401.8L270.2 2401.8L270.7 2402.3L271.1 2401.8L271.6 2403.1L272.1 2400.9L272.5 2401.6L273 2401.8L273.4 2402.4L273.9 2400.9L274.3 2401.6L274.8 2403.3L275.2 2402.1L275.7 2403.2L276.2 2401.3L276.6 2402.2L277.1 2402.4L277.5 2401.7L278 2401.9L278.4 2401.7L278.9 2402.4L279.3 2402.7L279.8 2403.1L280.3 2402.5L280.7 2402.3L281.2 2401.4L281.6 2403.8L282.1 2403.8L282.5 2401L283 2402.8L283.4 2402.5L283.9 2402.2L284.4 2402L284.8 2402.8L285.3 2403L285.7 2403.3L286.2 2402L286.6 2402.2L287.1 2403.1L287.5 2402.7L288 2402.4L288.5 2402.5L288.9 2403L289.4 2402L289.8 2401.7L290.3 2403.3L290.7 2402.9L291.2 2401.9L291.6 2402.5L292.1 2402.8L292.6 2403.4L293 2402.9L293.5 2402.8L293.9 2402L294.4 2402.6L294.8 2401.8L295.3 2402.9L295.7 2404.1L296.2 2402.2L296.7 2403.3L297.1 2403.9L297.6 2401.5L298 2403.2L298.5 2402.4L298.9 2402.9L299.4 2402.5L299.8 2402.8L300.3 2403.1L300.8 2402.7L301.2 2403L301.7 2403L302.1 2403L302.6 2402.7L303 2402.6L303.5 2402.5L303.9 2404L304.4 2401.9L304.9 2404.1L305.3 2403.3L305.8 2403.7L306.2 2402.8L306.7 2403.8L307.1 2402.9L307.6 2402.4L308 2402.9L308.5 2402.4L309 2404.5L309.4 2403.4L309.9 2403.1L310.3 2403.1L310.8 2404.2L311.2 2404L311.7 2403.5L312.1 2403L312.6 2403.2L313.1 2403.9L313.5 2402.7L314 2403.3L314.4 2403.3L314.9 2402.7L315.3 2403.8L315.8 2403.1L316.2 2402.8L316.7 2402.7L317.2 2403.3L317.6 2402.4L318.1 2402.9L318.5 2403.2L319 2402.9L319.4 2403.2L319.9 2403.5L320.3 2402L320.8 2403.6L321.3 2403L321.7 2403.2L322.2 2403.7L322.6 2403.7L323.1 2403L323.5 2402.7L324 2403.3L324.4 2402L324.9 2403.7L325.4 2402.7L325.8 2403.4L326.3 2403.1L326.7 2404.3L327.2 2404.3L327.6 2403.1L328.1 2404.2L328.5 2403.4L329 2403.2L329.5 2403.7L329.9 2403.1L330.4 2403.6L330.8 2402.7L331.3 2403.2L331.7 2404L332.2 2403.1L332.6 2404.6L333.1 2404.2L333.6 2403.2L334 2404L334.5 2403.5L334.9 2404.4L335.4 2404.6L335.8 2403.3L336.3 2402.8L336.7 2404.8L337.2 2403.5L337.7 2403.5L338.1 2404L338.6 2403L339 2404.8L339.5 2403.8L339.9 2403.4L340.4 2405.6L340.8 2405.6L341.3 2404.3L341.8 2404.4L342.2 2404.6L342.7 2403.5L343.1 2402.6L343.6 2404.7L344 2403.9L344.5 2404.1L344.9 2404.4L345.4 2404.7L345.9 2405.1L346.3 2404.2L346.8 2403.6L347.2 2404.5L347.7 2404.7L348.1 2404.6L348.6 2405.1L349 2404.8L349.5 2404.8L350 2404.5L350.4 2403.7L350.9 2405.9L351.3 2403.7L351.8 2403.4L352.2 2404.4L352.7 2405.7L353.1 2404.7L353.6 2405.1L354.1 2403L354.5 2404.5L355 2404.3L355.4 2404.6L355.9 2405L356.3 2405.3L356.8 2405.2L357.2 2405L357.7 2405.5L358.2 2404.1L358.6 2404.1L359.1 2404.4L359.5 2404.5L360 2404.2L360.4 2404.7L360.9 2405.2L361.3 2405.3L361.8 2404.7L362.3 2404.6L362.7 2404.6L363.2 2404.5L363.6 2405L364.1 2403.9L364.5 2404.5L365 2404.6L365.4 2406.4L365.9 2404.7L366.3 2404.1L366.8 2405L367.3 2404.2L367.7 2405.7L368.2 2406.5L368.6 2405.1L369.1 2404.5L369.5 2405.5L370 2405.5L370.4 2405.6L370.9 2405.4L371.4 2406.3L371.8 2405.6L372.3 2405.3L372.7 2405.6L373.2 2404.2L373.6 2404.7L374.1 2405.9L374.5 2404.9L375 2404.8L375.5 2405.6L375.9 2406.4L376.4 2405.3L376.8 2404.9L377.3 2405.1L377.7 2405.2L378.2 2406L378.6 2404.6L379.1 2405.7L379.6 2406L380 2405.4L380.5 2405L380.9 2405.4L381.4 2407L381.8 2405.9L382.3 2406.2L382.7 2404.7L383.2 2405.4L383.7 2405L384.1 2405.8L384.6 2405.3L385 2406.1L385.5 2405.6L385.9 2406.5L386.4 2405.8L386.8 2405.8L387.3 2405.7L387.8 2405.4L388.2 2405.9L388.7 2406.5L389.1 2405.3L389.6 2406.3L390 2406.2L390.5 2405.7L390.9 2405.7L391.4 2407.5L391.9 2406.9L392.3 2405.8L392.8 2406L393.2 2405L393.7 2406.5L394.1 2405.4L394.6 2406.3L395 2406.4L395.5 2405L396 2406.9L396.4 2406.9L396.9 2406.7L397.3 2406.7L397.8 2406.2L398.2 2406.9L398.7 2406.6L399.1 2406.4L399.6 2406.1L400.1 2406.2L400.5 2406.4L401 2407.3L401.4 2407L401.9 2405.8L402.3 2407.3L402.8 2407.3L403.2 2406.7L403.7 2407.2L404.2 2406L404.6 2406.1L405.1 2406L405.5 2407.1L406 2406.9L406.4 2405.3L406.9 2406.6L407.3 2405.6L407.8 2406.9L408.3 2406.6L408.7 2407.2L409.2 2406.6L409.6 2406.7L410.1 2407.4L410.5 2408L411 2406.9L411.4 2407.7L411.9 2408.1L412.4 2407.1L412.8 2405.9L413.3 2407L413.7 2406.1L414.2 2406.3L414.6 2406.9L415.1 2406.3L415.5 2405.6L416 2404.8L416.5 2406.2L416.9 2405.4L417.4 2405.4L417.8 2404.2L418.3 2404L418.7 2404.9L419.2 2403.9L419.6 2404.1L420.1 2403.9L420.6 2404.2L421 2404L421.5 2402.3L421.9 2401.7L422.4 2402.6L422.8 2403L423.3 2402.3L423.7 2403.7L424.2 2403.3L424.7 2403.6L425.1 2403.8L425.6 2404.1L426 2404.4L426.5 2404.8L426.9 2404.7L427.4 2405L427.8 2405.7L428.3 2405.6L428.8 2405.9L429.2 2405.9L429.7 2405.6L430.1 2406.3L430.6 2405.6L431 2406.7L431.5 2404.8L431.9 2406.8L432.4 2405.8L432.9 2406.9L433.3 2406.2L433.8 2406.3L434.2 2406.1L434.7 2405.8L435.1 2407.8L435.6 2406.8L436 2405.9L436.5 2405.5L437 2406.8L437.4 2406.3L437.9 2406.8L438.3 2406.8L438.8 2407.8L439.2 2407L439.7 2405.6L440.1 2407.2L440.6 2406.2L441.1 2406.3L441.5 2408L442 2406.5L442.4 2406L442.9 2405.7L443.3 2406.1L443.8 2406L444.2 2407.4L444.7 2406.5L445.2 2407.4L445.6 2407.6L446.1 2405.7L446.5 2405.8L447 2405.8L447.4 2406L447.9 2407.2L448.3 2406.1L448.8 2406.2L449.3 2406.6L449.7 2406.8L450.2 2406.1L450.6 2407L451.1 2405.4L451.5 2407.9L452 2407.6L452.4 2406.9L452.9 2407.4L453.4 2406.9L453.8 2406.5L454.3 2406.1L454.7 2407.2L455.2 2405.3L455.6 2407L456.1 2406.4L456.5 2407.8L457 2406L457.5 2407.2L457.9 2407.1L458.4 2405.4L458.8 2406.3L459.3 2405.2L459.7 2405.5L460.2 2406.1L460.6 2404.9L461.1 2405.5L461.6 2404.9L462 2404.2L462.5 2405.2L462.9 2403.7L463.4 2403.4L463.8 2403L464.3 2400L464.7 2398.2L465.2 2397.6L465.7 2394.2L466.1 2389.7L466.6 2383.8L467 2379.8L467.5 2376.8L467.9 2380.4L468.4 2383.8L468.8 2389.9L469.3 2392.9L469.8 2397.9L470.2 2400.1L470.7 2400.7L471.1 2403.1L471.6 2402.2L472 2403.7L472.5 2405.2L472.9 2405.2L473.4 2405.4L473.9 2404.8L474.3 2405.2L474.8 2405.7L475.2 2407.1L475.7 2407L476.1 2406.4L476.6 2406.4L477 2407L477.5 2406.7L478 2407L478.4 2407.6L478.9 2406.9L479.3 2406.7L479.8 2406.9L480.2 2407.3L480.7 2407.5L481.1 2407.1L481.6 2407.1L482.1 2406.9L482.5 2407L483 2406.7L483.4 2408.1L483.9 2407.9L484.3 2406.8L484.8 2406.6L485.2 2408L485.7 2408.4L486.2 2407L486.6 2407.3L487.1 2407.8L487.5 2407.9L488 2408.7L488.4 2407.5L488.9 2407L489.3 2408.4L489.8 2407.7L490.3 2407.1L490.7 2407.1L491.2 2407.2L491.6 2407.6L492.1 2407.7L492.5 2407.1L493 2407.3L493.4 2406.7L493.9 2408.1L494.4 2408.2L494.8 2407.2L495.3 2406.6L495.7 2407.7L496.2 2406.8L496.6 2407.8L497.1 2407.5L497.5 2407.1L498 2407.2L498.5 2407.7L498.9 2407.1L499.4 2406.6L499.8 2407.7L500.3 2408.3L500.7 2407.6L501.2 2407.5L501.6 2407.8L502.1 2408.3L502.6 2406.8L503 2407.1L503.5 2407.1L503.9 2407.6L504.4 2407.2L504.8 2407.4L505.3 2407.2L505.7 2406.9L506.2 2407.4L506.7 2407.4L507.1 2408.2L507.6 2407.9L508 2407.7L508.5 2406.5L508.9 2407.6L509.4 2406.5L509.8 2406.5L510.3 2406L510.8 2407.1L511.2 2407.5L511.7 2407.7L512.1 2407.7L512.6 2408.4L513 2407.7L513.5 2407.6L513.9 2407.4L514.4 2406.9L514.9 2408.2L515.3 2407.5L515.8 2407.2L516.2 2407.1L516.7 2405.9L517.1 2407.5L517.6 2407.3L518 2406.2L518.5 2408.1L519 2407.2L519.4 2406.4L519.9 2406.9L520.3 2406.7L520.8 2406L521.2 2407.4L521.7 2406.4L522.1 2407.2L522.6 2406.7L523.1 2405.6L523.5 2406.1L524 2406.1L524.4 2407.1L524.9 2407.3L525.3 2406.1L525.8 2406.5L526.2 2406.7L526.7 2406.5L527.2 2405.6L527.6 2404.9L528.1 2405L528.5 2405L529 2404.4L529.4 2405.3L529.9 2403.2L530.3 2403.8L530.8 2403L531.3 2401.6L531.7 2402.4L532.2 2400.5L532.6 2400.4L533.1 2398.4L533.5 2398.4L534 2396.3L534.4 2392.3L534.9 2389.2L535.4 2385.9L535.8 2379.6L536.3 2370.8L536.7 2359.4L537.2 2344L537.6 2324.6L538.1 2302.6L538.5 2285.1L539 2276.8L539.5 2283.9L539.9 2303.1L540.4 2325.3L540.8 2343.7L541.3 2358.1L541.7 2370.6L542.2 2378.6L542.6 2385.3L543.1 2389.3L543.6 2392.8L544 2395.2L544.5 2396.6L544.9 2397.6L545.4 2400.7L545.8 2400.4L546.3 2402.1L546.7 2400.4L547.2 2403L547.7 2401.7L548.1 2404L548.6 2403.7L549 2404.2L549.5 2404.4L549.9 2404.1L550.4 2403.8L550.8 2403.7L551.3 2403.3L551.8 2403.8L552.2 2404.3L552.7 2403.8L553.1 2403.8L553.6 2403.5L554 2403L554.5 2403.3L554.9 2401.6L555.4 2400.8L555.9 2401.8L556.3 2400.4L556.8 2398.4L557.2 2398.5L557.7 2395.3L558.1 2394.1L558.6 2390.8L559 2388L559.5 2384.9L560 2381.2L560.4 2377.8L560.9 2373.5L561.3 2371.1L561.8 2370.8L562.2 2371.9L562.7 2374.9L563.1 2377.5L563.6 2380.8L564.1 2385.7L564.5 2388.1L565 2391.2L565.4 2393.7L565.9 2394.9L566.3 2397.1L566.8 2400.1L567.2 2401L567.7 2402.3L568.2 2403.2L568.6 2402.9L569.1 2403.2L569.5 2404.3L570 2404.6L570.4 2405.3L570.9 2405.8L571.3 2405.9L571.8 2405.9L572.3 2406.3L572.7 2406.3L573.2 2406.2L573.6 2407.1L574.1 2406.6L574.5 2407.1L575 2406.3L575.4 2407.2L575.9 2406.4L576.4 2408.5L576.8 2407.1L577.3 2406.9L577.7 2406.4L578.2 2406.9L578.6 2408.5L579.1 2408.7L579.5 2407.6L580 2407.8L580.5 2407.4L580.9 2408L581.4 2407L581.8 2407.7L582.3 2407.6L582.7 2407.2L583.2 2407.4L583.6 2408.4L584.1 2407.8L584.6 2408.4L585 2407.8L585.5 2407.6L585.9 2408.2L586.4 2406.4L586.8 2407.8L587.3 2407.4L587.7 2407L588.2 2408.2L588.7 2407.8L589.1 2407.1L589.6 2407.1L590 2407.1L590.5 2407.4L590.9 2406.9L591.4 2407.1L591.8 2407.7L592.3 2407.1L592.8 2407.3L593.2 2406.4L593.7 2406.4L594.1 2406.1L594.6 2406.3L595 2406.3L595.5 2405.2L595.9 2407.2L596.4 2407.1L596.9 2404.6L597.3 2406L597.8 2404.9L598.2 2404.5L598.7 2404.2L599.1 2403.6L599.6 2403.7L600 2403.2L600.5 2402.5L601 2402.4L601.4 2402.2L601.9 2400.7L602.3 2401.1L602.8 2400L603.2 2399.1L603.7 2397.9L604.1 2396.1L604.6 2396.1L605.1 2394.3L605.5 2391.6L606 2389L606.4 2386.1L606.9 2383L607.3 2378.6L607.8 2372.4L608.2 2364.6L608.7 2353.1L609.2 2336.4L609.6 2310.1L610.1 2264.7L610.5 2192.8L611 2088.6L611.4 1953.4L611.9 1815.6L612.3 1753.8L612.8 1817.1L613.3 1952.9L613.7 2089.3L614.2 2194.6L614.6 2264.8L615.1 2308.7L615.5 2335.5L616 2354.1L616.4 2364.3L616.9 2372.5L617.4 2379L617.8 2382.4L618.3 2386.5L618.7 2389.1L619.2 2392.2L619.6 2394.7L620.1 2394.9L620.5 2396.2L621 2399L621.5 2399.2L621.9 2400.3L622.4 2401.7L622.8 2401.6L623.3 2401.8L623.7 2402.8L624.2 2402.6L624.6 2403.6L625.1 2403.5L625.6 2404.3L626 2403.8L626.5 2404.1L626.9 2404.6L627.4 2405.3L627.8 2406.1L628.3 2405.6L628.7 2405.2L629.2 2404.9L629.7 2405.5L630.1 2405.2L630.6 2406.6L631 2405.5L631.5 2406.1L631.9 2406.8L632.4 2406.1L632.8 2406.7L633.3 2407.8L633.8 2406.1L634.2 2406.9L634.7 2407L635.1 2406.6L635.6 2406.3L636 2407.2L636.5 2406.5L636.9 2406.9L637.4 2408L637.9 2406.3L638.3 2406.3L638.8 2407.9L639.2 2406.5L639.7 2405.7L640.1 2407.5L640.6 2406.6L641 2406.7L641.5 2407L642 2406.8L642.4 2406.2L642.9 2406.5L643.3 2407.3L643.8 2406.8L644.2 2405.2L644.7 2406.2L645.1 2405L645.6 2404.9L646.1 2404.9L646.5 2405.6L647 2404.5L647.4 2402.7L647.9 2403.1L648.3 2401.4L648.8 2400.9L649.2 2398.9L649.7 2396.9L650.2 2396.8L650.6 2397.2L651.1 2396.2L651.5 2397.3L652 2397.8L652.4 2398.1L652.9 2399.8L653.3 2400.3L653.8 2400L654.3 2400.4L654.7 2399.6L655.2 2399.9L655.6 2398.4L656.1 2396.4L656.5 2396.5L657 2393.1L657.4 2392.2L657.9 2391.9L658.4 2391.3L658.8 2392.4L659.3 2392.9L659.7 2395.4L660.2 2397.3L660.6 2398.6L661.1 2400.3L661.5 2400.7L662 2403.8L662.5 2403.5L662.9 2404L663.4 2404.3L663.8 2405.6L664.3 2406L664.7 2405.6L665.2 2406.1L665.6 2407.1L666.1 2406.4L666.6 2406.1L667 2407.1L667.5 2407.7L667.9 2408.2L668.4 2407.8L668.8 2406.8L669.3 2407.5L669.7 2407.3L670.2 2408L670.7 2406.8L671.1 2407.6L671.6 2408.3L672 2407.8L672.5 2407.5L672.9 2407.8L673.4 2407.4L673.8 2407.7L674.3 2407.4L674.8 2407.1L675.2 2406.8L675.7 2406.3L676.1 2406.9L676.6 2406.5L677 2405.9L677.5 2406.4L677.9 2405.9L678.4 2404.5L678.9 2404.7L679.3 2404L679.8 2404.2L680.2 2403.1L680.7 2403.1L681.1 2403.3L681.6 2402.4L682 2402.1L682.5 2402.3L683 2401.9L683.4 2400.8L683.9 2400.2L684.3 2399.1L684.8 2398.8L685.2 2398.9L685.7 2396.5L686.1 2396.8L686.6 2396.6L687.1 2396.8L687.5 2395.4L688 2396.1L688.4 2395.8L688.9 2394.3L689.3 2393L689.8 2391.8L690.2 2391.5L690.7 2390.8L691.2 2387.2L691.6 2385.8L692.1 2382.2L692.5 2376.2L693 2370.8L693.4 2364.8L693.9 2356.6L694.3 2347.6L694.8 2336.2L695.3 2327.1L695.7 2320.5L696.2 2318.8L696.6 2321.1L697.1 2328.4L697.5 2337L698 2348.2L698.4 2357.5L698.9 2365.7L699.4 2373.9L699.8 2381L700.3 2385.5L700.7 2388.4L701.2 2392.1L701.6 2395.3L702.1 2396.5L702.5 2398.9L703 2399.8L703.5 2398.7L703.9 2401.3L704.4 2401.8L704.8 2401.9L705.3 2402.5L705.7 2403.6L706.2 2404L706.6 2404.4L707.1 2405.6L707.6 2405L708 2405.3L708.5 2405.5L708.9 2405.4L709.4 2405.9L709.8 2407.2L710.3 2404.8L710.7 2406.2L711.2 2406.8L711.7 2406.4L712.1 2407.3L712.6 2406.8L713 2407.3L713.5 2407.6L713.9 2406.6L714.4 2407.3L714.8 2407L715.3 2407.4L715.8 2407.2L716.2 2407.6L716.7 2407L717.1 2407.2L717.6 2407.6L718 2407.4L718.5 2407.5L718.9 2406.9L719.4 2407L719.9 2408L720.3 2407.1L720.8 2407.7L721.2 2406.9L721.7 2407.4L722.1 2407.8L722.6 2406.9L723 2406.8L723.5 2407.3L724 2407.1L724.4 2406.6L724.9 2407.1L725.3 2407.5L725.8 2407.7L726.2 2407.5L726.7 2407.8L727.1 2407.4L727.6 2408.1L728.1 2407.7L728.5 2408.2L729 2408L729.4 2407.8L729.9 2408.3L730.3 2407.1L730.8 2406.9L731.2 2407.8L731.7 2406.9L732.2 2407.7L732.6 2406.7L733.1 2407.7L733.5 2407.1L734 2409L734.4 2407.9L734.9 2407.8L735.3 2408.7L735.8 2408L736.3 2408.5L736.7 2407.1L737.2 2408.1L737.6 2408.1L738.1 2407.1L738.5 2406.7L739 2408.3L739.4 2407.4L739.9 2407.9L740.4 2408.7L740.8 2407.4L741.3 2407.8L741.7 2407.8L742.2 2407.3L742.6 2408.3L743.1 2407.1L743.5 2408.1L744 2408.1L744.5 2407.4L744.9 2408.4L745.4 2408.3L745.8 2407.9L746.3 2407.3L746.7 2408L747.2 2407.6L747.6 2406.9L748.1 2407.5L748.6 2406.9L749 2407.1L749.5 2407L749.9 2407.2L750.4 2407L750.8 2406.6L751.3 2406.6L751.7 2407L752.2 2405L752.7 2404.7L753.1 2404.3L753.6 2404.5L754 2404.4L754.5 2403.2L754.9 2403.1L755.4 2402.5L755.8 2400.4L756.3 2399.1L756.8 2397.8L757.2 2395.3L757.7 2392.1L758.1 2388.8L758.6 2382.1L759 2377.1L759.5 2368.8L759.9 2360.5L760.4 2352.7L760.9 2346.7L761.3 2344.8L761.8 2345.6L762.2 2347.5L762.7 2352.4L763.1 2355.4L763.6 2362L764 2366.5L764.5 2371.2L764.9 2376L765.4 2380.1L765.9 2383.5L766.3 2385.5L766.8 2388.5L767.2 2391.6L767.7 2393.6L768.1 2395.4L768.6 2396.1L769 2398.1L769.5 2400.1L770 2400.4L770.4 2401.8L770.9 2401.3L771.3 2403.1L771.8 2403.9L772.2 2403.4L772.7 2404.5L773.1 2404.3L773.6 2404.9L774.1 2405L774.5 2405L775 2405.2L775.4 2405.6L775.9 2405.5L776.3 2405.4L776.8 2405.4L777.2 2406.4L777.7 2406.8L778.2 2406.8L778.6 2407.3L779.1 2405.8L779.5 2406.6L780 2407L780.4 2406.3L780.9 2407.4L781.3 2406.3L781.8 2407.7L782.3 2406.1L782.7 2405.7L783.2 2406.2L783.6 2406.7L784.1 2405.3L784.5 2405.8L785 2404.8L785.4 2404.2L785.9 2404.6L786.4 2404.9L786.8 2404L787.3 2403.4L787.7 2402.1L788.2 2402.6L788.6 2402.4L789.1 2402.6L789.5 2401L790 2400.7L790.5 2399.6L790.9 2399.2L791.4 2400L791.8 2399.6L792.3 2399.1L792.7 2399.1L793.2 2399.3L793.6 2399.1L794.1 2399.6L794.6 2400.5L795 2399.2L795.5 2401L795.9 2401.2L796.4 2400.7L796.8 2401.3L797.3 2399.4L797.7 2399.4L798.2 2398.9L798.7 2398.4L799.1 2397.2L799.6 2395.3L800 2393.8L800.5 2391.1L800.9 2387.4L801.4 2384L801.8 2379.1L802.3 2372L802.8 2364.7L803.2 2357.7L803.7 2353L804.1 2350.3L804.6 2352.4L805 2357.5L805.5 2364L805.9 2372.4L806.4 2378.9L806.9 2383.8L807.3 2388.1L807.8 2392.2L808.2 2394.6L808.7 2395.9L809.1 2397.3L809.6 2399L810 2399.9L810.5 2399.4L811 2401.3L811.4 2399.6L811.9 2399.9L812.3 2400L812.8 2400.2L813.2 2399.3L813.7 2398.5L814.1 2398.6L814.6 2397.2L815.1 2396.4L815.5 2395.3L816 2393.3L816.4 2391.8L816.9 2390.6L817.3 2388.7L817.8 2386.8L818.2 2385.4L818.7 2383.2L819.2 2381.3L819.6 2381.3L820.1 2379.5L820.5 2379.7L821 2379.2L821.4 2381L821.9 2381.5L822.3 2383.7L822.8 2386L823.3 2387.3L823.7 2389.2L824.2 2391.9L824.6 2393.2L825.1 2395L825.5 2395.3L826 2397.1L826.4 2398.2L826.9 2400.2L827.4 2400.6L827.8 2400.5L828.3 2401.8L828.7 2401.9L829.2 2402.5L829.6 2402.3L830.1 2403.3L830.5 2403.4L831 2403L831.5 2403.1L831.9 2403.9L832.4 2402.7L832.8 2403.3L833.3 2401.6L833.7 2400.6L834.2 2400.2L834.6 2398.9L835.1 2398.3L835.6 2396.1L836 2392.7L836.5 2389.1L836.9 2383.3L837.4 2376.2L837.8 2367.2L838.3 2354.2L838.7 2338.7L839.2 2327.4L839.7 2322.1L840.1 2326.5L840.6 2340L841 2352.9L841.5 2366.3L841.9 2376.5L842.4 2384.6L842.8 2389.5L843.3 2394.4L843.8 2396.5L844.2 2400.1L844.7 2401.8L845.1 2402.4L845.6 2402L846 2405.3L846.5 2403.8L846.9 2405.3L847.4 2406.8L847.9 2406L848.3 2406.1L848.8 2407L849.2 2406.3L849.7 2407L850.1 2407.3L850.6 2408L851 2407.5L851.5 2407.8L852 2407.3L852.4 2408.1L852.9 2408.7L853.3 2407.8L853.8 2409L854.2 2409.4L854.7 2409L855.1 2408.9L855.6 2409.7L856.1 2409.3L856.5 2408.7L857 2409L857.4 2409L857.9 2409.3L858.3 2408.2L858.8 2408L859.2 2408.4L859.7 2408.3L860.2 2409.2L860.6 2409.8L861.1 2408.4L861.5 2408.7L862 2408.7L862.4 2409L862.9 2409.1L863.3 2408.9L863.8 2408L864.3 2408.3L864.7 2408.2L865.2 2408.6L865.6 2408.6L866.1 2408.7L866.5 2407.9L867 2407.9L867.4 2407.4L867.9 2408.4L868.4 2408L868.8 2407.6L869.3 2408.1L869.7 2407.1L870.2 2407L870.6 2406.8L871.1 2406.8L871.5 2406.9L872 2406L872.5 2405.5L872.9 2405.8L873.4 2405.1L873.8 2403.9L874.3 2403.6L874.7 2404.2L875.2 2404.2L875.6 2403.4L876.1 2402.6L876.6 2402.3L877 2401.8L877.5 2401.2L877.9 2401.1L878.4 2401.4L878.8 2400.9L879.3 2402L879.7 2401.6L880.2 2401.7L880.7 2401.1L881.1 2402.3L881.6 2402.3L882 2403.4L882.5 2402.6L882.9 2402.7L883.4 2404L883.8 2404.4L884.3 2404.7L884.8 2405.6L885.2 2405.1L885.7 2405.7L886.1 2406.5L886.6 2407.5L887 2407.3L887.5 2406.7L887.9 2407.1L888.4 2407.8L888.9 2408.1L889.3 2407.8L889.8 2407.8L890.2 2407L890.7 2407.5L891.1 2408.4L891.6 2408.1L892 2408L892.5 2407.9L893 2408.4L893.4 2408L893.9 2408.5L894.3 2407.2L894.8 2409.1L895.2 2408.3L895.7 2408.6L896.1 2408.8L896.6 2409.6L897.1 2408.2L897.5 2408.4L898 2408.2L898.4 2408.9L898.9 2408.1L899.3 2408.8L899.8 2409.2L900.2 2409.2L900.7 2408.5L901.2 2409.2L901.6 2408.3L902.1 2408.2L902.5 2409.5L903 2409.6L903.4 2408L903.9 2407.5L904.3 2408L904.8 2408.4L905.3 2408.3L905.7 2408.7L906.2 2407.8L906.6 2408.8L907.1 2409L907.5 2407.4L908 2408.8L908.4 2407.4L908.9 2407.1L909.4 2407.4L909.8 2407.1L910.3 2406.7L910.7 2407L911.2 2405.7L911.6 2405.9L912.1 2404.7L912.5 2404.8L913 2403.8L913.5 2402.8L913.9 2401.9L914.4 2400L914.8 2398.1L915.3 2393.6L915.7 2389.7L916.2 2385.1L916.6 2378.2L917.1 2370.9L917.6 2364.2L918 2359.8L918.5 2362.2L918.9 2367.2L919.4 2374.9L919.8 2379.7L920.3 2384.5L920.7 2386.6L921.2 2386.1L921.7 2386.2L922.1 2382.5L922.6 2378.4L923 2372.3L923.5 2364.9L923.9 2356L924.4 2349.9L924.8 2347L925.3 2350.6L925.8 2358.2L926.2 2366.8L926.7 2374.9L927.1 2382.2L927.6 2387.1L928 2391L928.5 2396.1L928.9 2397L929.4 2400.4L929.9 2401.4L930.3 2402.4L930.8 2403.3L931.2 2404.2L931.7 2405.4L932.1 2405L932.6 2405.4L933 2406L933.5 2407.3L934 2407.3L934.4 2407L934.9 2406.4L935.3 2407.8L935.8 2408.6L936.2 2408L936.7 2406.8L937.1 2408.1L937.6 2408.7L938.1 2408L938.5 2408.3L939 2408.4L939.4 2408.3L939.9 2408.7L940.3 2409.3L940.8 2409.1L941.2 2409.4L941.7 2408.8L942.2 2408.9L942.6 2408.1L943.1 2409.4L943.5 2408.8L944 2409L944.4 2409.3L944.9 2409L945.3 2409.9L945.8 2409.4L946.3 2409.1L946.7 2408.6L947.2 2408.4L947.6 2409.8L948.1 2409.9L948.5 2409.2L949 2409.7L949.4 2407.9L949.9 2408.8L950.4 2409.4L950.8 2409.7L951.3 2409.2L951.7 2409.1L952.2 2409.1L952.6 2409.3L953.1 2408.8L953.5 2408.9L954 2408.8L954.5 2409.4L954.9 2409.1L955.4 2408.5L955.8 2408.3L956.3 2409.2L956.7 2408.4L957.2 2409.3L957.6 2410.1L958.1 2408.1L958.6 2409.1L959 2409.1L959.5 2408.9L959.9 2409.1L960.4 2409.5L960.8 2408.7L961.3 2408.8L961.7 2409.4L962.2 2408.8L962.7 2408L963.1 2408.8L963.6 2409L964 2408.2L964.5 2408.2L964.9 2408.4L965.4 2408.2L965.8 2408.1L966.3 2408.1L966.8 2408.3L967.2 2408.3L967.7 2408.2L968.1 2408.2L968.6 2408.6L969 2407.9L969.5 2407.2L969.9 2407.5L970.4 2406.6L970.9 2407.7L971.3 2408.1L971.8 2406.6L972.2 2407.4L972.7 2407L973.1 2406.3L973.6 2406.1L974 2405.6L974.5 2405.6L975 2404.9L975.4 2405.7L975.9 2403.9L976.3 2404.3L976.8 2403.8L977.2 2401.9L977.7 2401.5L978.1 2401.7L978.6 2399.9L979.1 2398.7L979.5 2397L980 2394.3L980.4 2392L980.9 2387.6L981.3 2385.1L981.8 2379.9L982.2 2373.6L982.7 2365.8L983.2 2356.8L983.6 2345.4L984.1 2334.3L984.5 2324.5L985 2316.8L985.4 2315L985.9 2317L986.3 2324.9L986.8 2334.5L987.3 2346.6L987.7 2356.9L988.2 2364.3L988.6 2373.3L989.1 2379.2L989.5 2384.5L990 2388.5L990.4 2391.4L990.9 2394.9L991.4 2396.2L991.8 2397.2L992.3 2399.3L992.7 2400.5L993.2 2400.4L993.6 2402L994.1 2402.7L994.5 2403.4L995 2404L995.5 2403.9L995.9 2404.9L996.4 2405L996.8 2404.6L997.3 2405.3L997.7 2405.8L998.2 2405.6L998.6 2406.1L999.1 2405.4L999.6 2405.6L1000 2406.8L1000.5 2406.5L1000.9 2406.3L1001.4 2406.6L1001.8 2406.9L1002.3 2406.8L1002.7 2406.7L1003.2 2406.3L1003.7 2405.6L1004.1 2406.5L1004.6 2406.4L1005 2407.2L1005.5 2406.5L1005.9 2406.8L1006.4 2405.9L1006.8 2406.2L1007.3 2405.9L1007.8 2405.2L1008.2 2405.1L1008.7 2404.7L1009.1 2405.3L1009.6 2404.5L1010 2403.1L1010.5 2402.4L1010.9 2402.4L1011.4 2401L1011.9 2400.1L1012.3 2399.3L1012.8 2397.6L1013.2 2395.7L1013.7 2393.5L1014.1 2392.4L1014.6 2391.8L1015 2391.1L1015.5 2390.9L1016 2391.1L1016.4 2392.1L1016.9 2391.5L1017.3 2391.3L1017.8 2390L1018.2 2388.8L1018.7 2386.1L1019.1 2382.2L1019.6 2374.3L1020.1 2366.3L1020.5 2353.9L1021 2336.3L1021.4 2316.8L1021.9 2293.8L1022.3 2273.2L1022.8 2264.1L1023.2 2272L1023.7 2293L1024.2 2316.9L1024.6 2337.6L1025.1 2354L1025.5 2367.4L1026 2376.1L1026.4 2382.8L1026.9 2386.6L1027.3 2390.9L1027.8 2392.7L1028.3 2394.9L1028.7 2396.1L1029.2 2397.4L1029.6 2398L1030.1 2398.8L1030.5 2398L1031 2398.8L1031.4 2400.5L1031.9 2399.4L1032.4 2399.3L1032.8 2399.4L1033.3 2398.2L1033.7 2399L1034.2 2398.1L1034.6 2398.2L1035.1 2398.6L1035.5 2396.7L1036 2395.9L1036.5 2396.5L1036.9 2395.1L1037.4 2395.4L1037.8 2394.8L1038.3 2394.4L1038.7 2393.7L1039.2 2392.8L1039.6 2392.1L1040.1 2392.2L1040.6 2390.8L1041 2390L1041.5 2388L1041.9 2385.8L1042.4 2382.4L1042.8 2377.9L1043.3 2370.9L1043.7 2362.5L1044.2 2351.8L1044.7 2338.3L1045.1 2325.5L1045.6 2314.5L1046 2309.2L1046.5 2314.5L1046.9 2326.7L1047.4 2340.4L1047.8 2352.9L1048.3 2365.8L1048.8 2373.8L1049.2 2380.7L1049.7 2387.2L1050.1 2390.3L1050.6 2393.6L1051 2396L1051.5 2398.5L1051.9 2399.6L1052.4 2401L1052.9 2401.6L1053.3 2401.6L1053.8 2403.3L1054.2 2403.4L1054.7 2404.2L1055.1 2404.4L1055.6 2405.4L1056 2405.2L1056.5 2404.8L1057 2405.4L1057.4 2405.7L1057.9 2405.9L1058.3 2407.5L1058.8 2406.1L1059.2 2406.5L1059.7 2406.5L1060.1 2406.2L1060.6 2407.3L1061.1 2407L1061.5 2407.9L1062 2408L1062.4 2407.1L1062.9 2406.5L1063.3 2407.3L1063.8 2407.9L1064.2 2407.4L1064.7 2407.4L1065.2 2407.7L1065.6 2407.7L1066.1 2407.3L1066.5 2408L1067 2407.2L1067.4 2408.3L1067.9 2408.6L1068.3 2408.3L1068.8 2407.3L1069.3 2407.2L1069.7 2408L1070.2 2407.7L1070.6 2407.1L1071.1 2407.5L1071.5 2407.3L1072 2407.4L1072.4 2407.5L1072.9 2407L1073.4 2406.8L1073.8 2406L1074.3 2407.5L1074.7 2406.3L1075.2 2407.4L1075.6 2406.3L1076.1 2406.3L1076.5 2405.7L1077 2405.5L1077.5 2405.5L1077.9 2403.7L1078.4 2405L1078.8 2404.1L1079.3 2402.4L1079.7 2402.8L1080.2 2401.1L1080.6 2400.5L1081.1 2399.6L1081.6 2398L1082 2397L1082.5 2395.7L1082.9 2394.3L1083.4 2392.5L1083.8 2392.8L1084.3 2391.3L1084.7 2389.7L1085.2 2389.1L1085.7 2389.9L1086.1 2389.9L1086.6 2389.9L1087 2390.9L1087.5 2392.4L1087.9 2393.7L1088.4 2394.8L1088.8 2396.3L1089.3 2397.3L1089.8 2398.2L1090.2 2400L1090.7 2401.2L1091.1 2401.9L1091.6 2402.5L1092 2403.2L1092.5 2403.9L1092.9 2405.1L1093.4 2405.1L1093.9 2406.3L1094.3 2406L1094.8 2405.9L1095.2 2407L1095.7 2407L1096.1 2406.6L1096.6 2407.7L1097 2407.9L1097.5 2408.4L1098 2408.2L1098.4 2407.9L1098.9 2408.4L1099.3 2408.1L1099.8 2408.9L1100.2 2409.2L1100.7 2408.6L1101.1 2407.9L1101.6 2408.8L1102.1 2409L1102.5 2409.1L1103 2408.6L1103.4 2409.6L1103.9 2409.6L1104.3 2408.2L1104.8 2409.2L1105.2 2409.6L1105.7 2409.7L1106.2 2409.5L1106.6 2409.8L1107.1 2409L1107.5 2409L1108 2409.2L1108.4 2409.7L1108.9 2410L1109.3 2409.4L1109.8 2409.4L1110.3 2409.5L1110.7 2409.1L1111.2 2409.6L1111.6 2409.5L1112.1 2409.7L1112.5 2409.2L1113 2409.8L1113.4 2409.3L1113.9 2409.2L1114.4 2408.9L1114.8 2409.7L1115.3 2409.3L1115.7 2409.3L1116.2 2409.3L1116.6 2408.5L1117.1 2409.2L1117.5 2409.1L1118 2409.6L1118.5 2409.4L1118.9 2409.3L1119.4 2410L1119.8 2408.8L1120.3 2408.6L1120.7 2408.8L1121.2 2408.5L1121.6 2408.3L1122.1 2409.6L1122.6 2409.2L1123 2408.3L1123.5 2408.1L1123.9 2407.5L1124.4 2408L1124.8 2407.5L1125.3 2407L1125.7 2407.2L1126.2 2407L1126.7 2406.5L1127.1 2405.7L1127.6 2406.1L1128 2405.1L1128.5 2404.5L1128.9 2404.5L1129.4 2402.6L1129.8 2401.9L1130.3 2401.1L1130.8 2399.4L1131.2 2397L1131.7 2393.6L1132.1 2390.8L1132.6 2387.5L1133 2382.6L1133.5 2377.9L1133.9 2373.9L1134.4 2370.5L1134.9 2369.8L1135.3 2370.5L1135.8 2373.7L1136.2 2377.7L1136.7 2382.8L1137.1 2386.8L1137.6 2389.8L1138 2392.3L1138.5 2395.5L1139 2398L1139.4 2398.4L1139.9 2399.4L1140.3 2399.8L1140.8 2401.2L1141.2 2401.3L1141.7 2401L1142.1 2401.4L1142.6 2399.6L1143.1 2398.6L1143.5 2399.3L1144 2398.1L1144.4 2397L1144.9 2395.7L1145.3 2394L1145.8 2391.9L1146.2 2390.9L1146.7 2390L1147.2 2389.2L1147.6 2387.9L1148.1 2388.4L1148.5 2388.2L1149 2388.5L1149.4 2389.9L1149.9 2390.8L1150.3 2393.7L1150.8 2394.9L1151.3 2396.6L1151.7 2398.9L1152.2 2398.6L1152.6 2400.3L1153.1 2401.6L1153.5 2402.5L1154 2404.2L1154.4 2404.8L1154.9 2405.1L1155.4 2405.3L1155.8 2405.9L1156.3 2406L1156.7 2407.1L1157.2 2407.4L1157.6 2407.6L1158.1 2406.9L1158.5 2407.9L1159 2407.7L1159.5 2408.6L1159.9 2408.5L1160.4 2408.2L1160.8 2407.9L1161.3 2408.5L1161.7 2408.1L1162.2 2408.3L1162.6 2408.8L1163.1 2408.6L1163.5 2408.7L1164 2408L1164.5 2408.1L1164.9 2408.2L1165.4 2408.2L1165.8 2409.2L1166.3 2409.3L1166.7 2409L1167.2 2408.4L1167.6 2408.7L1168.1 2409L1168.6 2409.1L1169 2409.1L1169.5 2410.3L1169.9 2409.4L1170.4 2409.7L1170.8 2410.1L1171.3 2408.7L1171.7 2408.7L1172.2 2409.6L1172.7 2408.9L1173.1 2409.6L1173.6 2409.9L1174 2409.2L1174.5 2409.5L1174.9 2409.5L1175.4 2410.1L1175.8 2409.4L1176.3 2409.4L1176.8 2409.6L1177.2 2409.5L1177.7 2409.5L1178.1 2409.5L1178.6 2410.1L1179 2409.3L1179.5 2409.6L1179.9 2409.4L1180.4 2409.7L1180.9 2408.7L1181.3 2409.9L1181.8 2409.2L1182.2 2409.6L1182.7 2410.6L1183.1 2409L1183.6 2409.7L1184 2409.4L1184.5 2409.4L1185 2409.4L1185.4 2409.4L1185.9 2410.3L1186.3 2409.2L1186.8 2410.4L1187.2 2409.7L1187.7 2409.2L1188.1 2408.9L1188.6 2410L1189.1 2409.6L1189.5 2409.9L1190 2410.4L1190.4 2409.2L1190.9 2409.4L1191.3 2409.5L1191.8 2409L1192.2 2409.5L1192.7 2409L1193.2 2409.3L1193.6 2409.3L1194.1 2409.3L1194.5 2409.6L1195 2410.1L1195.4 2409.8L1195.9 2408.7L1196.3 2410.1L1196.8 2409.5L1197.3 2409.4L1197.7 2410L1198.2 2409.2L1198.6 2409.3L1199.1 2409.6L1199.5 2410.3L1200 2409.7L1200.4 2410.2L1200.9 2409.8L1201.4 2409.8L1201.8 2409.4L1202.3 2409.7L1202.7 2409.4L1203.2 2409.6L1203.6 2410.2L1204.1 2410L1204.5 2409.8L1205 2410.1L1205.5 2409.4L1205.9 2410.8L1206.4 2410.4L1206.8 2409.9L1207.3 2409.7L1207.7 2409.9L1208.2 2409.5L1208.6 2409.6L1209.1 2409.3L1209.6 2409.7L1210 2409.7L1210.5 2410.5L1210.9 2409.9L1211.4 2409.2L1211.8 2409.5L1212.3 2409.9L1212.7 2409.9L1213.2 2410.3L1213.7 2410.3L1214.1 2409.9L1214.6 2409.6L1215 2409.1L1215.5 2409.9L1215.9 2409.6L1216.4 2409.4L1216.8 2409.3L1217.3 2409.7L1217.8 2409.6L1218.2 2409L1218.7 2410L1219.1 2409.4L1219.6 2408.4L1220 2410L1220.5 2408.9L1220.9 2408.5L1221.4 2408.4L1221.9 2408.8L1222.3 2407.9L1222.8 2407.8L1223.2 2406.8L1223.7 2407.3L1224.1 2406.7L1224.6 2406.3L1225 2406.5L1225.5 2405.4L1226 2404.8L1226.4 2404.1L1226.9 2403.4L1227.3 2402.9L1227.8 2403.1L1228.2 2402.7L1228.7 2402L1229.1 2402.3L1229.6 2403L1230.1 2402.8L1230.5 2403.1L1231 2403.7L1231.4 2403.8L1231.9 2405L1232.3 2404.7L1232.8 2404.9L1233.2 2406.2L1233.7 2405.4L1234.2 2406.1L1234.6 2405.8L1235.1 2405.9L1235.5 2407.1L1236 2406.4L1236.4 2407.3L1236.9 2406.8L1237.3 2407.1L1237.8 2407.4L1238.3 2408L1238.7 2407.6L1239.2 2407.2L1239.6 2407.8L1240.1 2407.9L1240.5 2408.2L1241 2407.3L1241.4 2407.1L1241.9 2406.7L1242.4 2406.6L1242.8 2407.2L1243.3 2406.8L1243.7 2405.1L1244.2 2405.2L1244.6 2403L1245.1 2402.6L1245.5 2400.5L1246 2399L1246.5 2398L1246.9 2395.3L1247.4 2393.2L1247.8 2392.1L1248.3 2390.8L1248.7 2392L1249.2 2393.4L1249.6 2395.7L1250.1 2397.5L1250.6 2399.3L1251 2401.4L1251.5 2402.2L1251.9 2404.6L1252.4 2405.6L1252.8 2405.9L1253.3 2406.4L1253.7 2407.3L1254.2 2407.7L1254.7 2407.8L1255.1 2407.1L1255.6 2408.5L1256 2408.1L1256.5 2407.7L1256.9 2407.8L1257.4 2407.6L1257.8 2408.1L1258.3 2407.3L1258.8 2407.7L1259.2 2407.2L1259.7 2407L1260.1 2406.9L1260.6 2406.3L1261 2405.9L1261.5 2404.9L1261.9 2404.6L1262.4 2403.8L1262.9 2404.9L1263.3 2403.9L1263.8 2404.2L1264.2 2404.3L1264.7 2404.8L1265.1 2406.1L1265.6 2405.4L1266 2406.4L1266.5 2406.6L1267 2407.3L1267.4 2407.9L1267.9 2408.3L1268.3 2408.4L1268.8 2408.9L1269.2 2408.7L1269.7 2410.2L1270.1 2409.7L1270.6 2409.8L1271.1 2409.2L1271.5 2409.4L1272 2409.9L1272.4 2410.2L1272.9 2410.6L1273.3 2410L1273.8 2409.4L1274.2 2410.4L1274.7 2409.7L1275.2 2410.4L1275.6 2410.5L1276.1 2410.7L1276.5 2410.7L1277 2410.1L1277.4 2410.6L1277.9 2410.3L1278.3 2411L1278.8 2410L1279.3 2410.1L1279.7 2410.8L1280.2 2409.7L1280.6 2410.4L1281.1 2409.3L1281.5 2410.2L1282 2409.3L1282.4 2410.5L1282.9 2410L1283.4 2409.8L1283.8 2410.1L1284.3 2408.9L1284.7 2409.5L1285.2 2409.2L1285.6 2409.2L1286.1 2408.6L1286.5 2409L1287 2409.2L1287.5 2408.5L1287.9 2408L1288.4 2407.6L1288.8 2408.9L1289.3 2407.8L1289.7 2408.3L1290.2 2409.1L1290.6 2408.3L1291.1 2408.7L1291.6 2408.4L1292 2408.5L1292.5 2408.7L1292.9 2408.3L1293.4 2408.7L1293.8 2408.9L1294.3 2408.3L1294.7 2409L1295.2 2409.1L1295.7 2409.2L1296.1 2409.1L1296.6 2409L1297 2408.9L1297.5 2409.1L1297.9 2409.5L1298.4 2409.8L1298.8 2409.2L1299.3 2409.2L1299.8 2410L1300.2 2410.4L1300.7 2409.6L1301.1 2410L1301.6 2410.5L1302 2409.4L1302.5 2410.3L1302.9 2410.3L1303.4 2410.5L1303.9 2410.2L1304.3 2410.5L1304.8 2409.7L1305.2 2409.6L1305.7 2410.2L1306.1 2409.8L1306.6 2410.3L1307 2410.6L1307.5 2410.1L1308 2410.4L1308.4 2410.1L1308.9 2410L1309.3 2409.9L1309.8 2410.3L1310.2 2410.9L1310.7 2409.7L1311.1 2409.6L1311.6 2409.9L1312.1 2409.2L1312.5 2410.1L1313 2410.5L1313.4 2409.2L1313.9 2409.6L1314.3 2409L1314.8 2409.5L1315.2 2409.3L1315.7 2409.7L1316.2 2409L1316.6 2409.2L1317.1 2408.1L1317.5 2408.4L1318 2407.5L1318.4 2406.4L1318.9 2406.2L1319.3 2405.4L1319.8 2404.2L1320.3 2403.4L1320.7 2401.7L1321.2 2401.1L1321.6 2399.5L1322.1 2400.2L1322.5 2399.9L1323 2400.4L1323.4 2401.4L1323.9 2402.6L1324.4 2403.2L1324.8 2404.2L1325.3 2404.6L1325.7 2405.4L1326.2 2405.2L1326.6 2405.5L1327.1 2404.4L1327.5 2404.3L1328 2404.1L1328.5 2401.8L1328.9 2400.2L1329.4 2398.4L1329.8 2396.8L1330.3 2395L1330.7 2395.9L1331.2 2395.7L1331.6 2396.8L1332.1 2398.7L1332.6 2400.9L1333 2401L1333.5 2402.6L1333.9 2403.5L1334.4 2403.6L1334.8 2404.7L1335.3 2403L1335.7 2402.8L1336.2 2401.9L1336.7 2401.5L1337.1 2400.4L1337.6 2400.1L1338 2398L1338.5 2398.7L1338.9 2398.8L1339.4 2399.7L1339.8 2400.3L1340.3 2401.4L1340.8 2402.9L1341.2 2403.1L1341.7 2403.9L1342.1 2405.1L1342.6 2405L1343 2405.9L1343.5 2405.4L1343.9 2405.6L1344.4 2405L1344.9 2405.7L1345.3 2404.4L1345.8 2404.8L1346.2 2405.7L1346.7 2405.3L1347.1 2405.6L1347.6 2404.9L1348 2405.8L1348.5 2406L1349 2405.9L1349.4 2406.1L1349.9 2406.9L1350.3 2407.3L1350.8 2407.5L1351.2 2407.6L1351.7 2408L1352.1 2408.1L1352.6 2407.7L1353.1 2408.9L1353.5 2408.7L1354 2408.9L1354.4 2409.5L1354.9 2409L1355.3 2409.4L1355.8 2409.2L1356.2 2408.7L1356.7 2409.5L1357.2 2409.2L1357.6 2409.1L1358.1 2410.2L1358.5 2410.6L1359 2409.8L1359.4 2410.4L1359.9 2410L1360.3 2409.6L1360.8 2410.2L1361.3 2410.4L1361.7 2411L1362.2 2410.1L1362.6 2410.9L1363.1 2410.4L1363.5 2409.9L1364 2410.8L1364.4 2410.3L1364.9 2409.9L1365.4 2410.1L1365.8 2410.5L1366.3 2409.9L1366.7 2409.6L1367.2 2410.2L1367.6 2409.9L1368.1 2409.6L1368.5 2409.4L1369 2410.2L1369.5 2409.4L1369.9 2409.2L1370.4 2408.6L1370.8 2409L1371.3 2409.1L1371.7 2408.9L1372.2 2408L1372.6 2409.1L1373.1 2407.1L1373.6 2407.5L1374 2406.1L1374.5 2406.3L1374.9 2406.1L1375.4 2405.9L1375.8 2405.6L1376.3 2404.4L1376.7 2403.8L1377.2 2404.4L1377.7 2404.4L1378.1 2404.3L1378.6 2405.2L1379 2404.9L1379.5 2405.8L1379.9 2405.1L1380.4 2406L1380.8 2406.8L1381.3 2406.3L1381.8 2407.5L1382.2 2407L1382.7 2408L1383.1 2407.2L1383.6 2406.9L1384 2407L1384.5 2407.4L1384.9 2407.2L1385.4 2406.8L1385.9 2407.3L1386.3 2407.8L1386.8 2407.6L1387.2 2407.6L1387.7 2408.9L1388.1 2408.2L1388.6 2408.7L1389 2408.3L1389.5 2408.4L1390 2409.3L1390.4 2409.1L1390.9 2408.9L1391.3 2408.5L1391.8 2409.3L1392.2 2410.2L1392.7 2410.2L1393.1 2410.1L1393.6 2410L1394.1 2410.1L1394.5 2410.2L1395 2409.6L1395.4 2410L1395.9 2410.4L1396.3 2410.9L1396.8 2410.9L1397.2 2410.6L1397.7 2410.4L1398.2 2410.5L1398.6 2409.8L1399.1 2411.1L1399.5 2410.6L1400 2410.8L1400.4 2410.8L1400.9 2410.6L1401.3 2411.1L1401.8 2411.1L1402.3 2411.3L1402.7 2410.8L1403.2 2410.2L1403.6 2410.5L1404.1 2410.7L1404.5 2410.6L1405 2410.6L1405.4 2410.9L1405.9 2410.1L1406.4 2409.8L1406.8 2410.7L1407.3 2409.3L1407.7 2409.3L1408.2 2409.3L1408.6 2409.4L1409.1 2408.5L1409.5 2407.4L1410 2407.6L1410.5 2406.6L1410.9 2405.4L1411.4 2404.2L1411.8 2403.3L1412.3 2401.9L1412.7 2400.5L1413.2 2399.5L1413.6 2398.2L1414.1 2397.8L1414.6 2398.3L1415 2398.2L1415.5 2399.4L1415.9 2400.9L1416.4 2401.3L1416.8 2402.6L1417.3 2402.5L1417.7 2402.9L1418.2 2403L1418.7 2403.3L1419.1 2404L1419.6 2403.8L1420 2403.8L1420.5 2404.5L1420.9 2404.7L1421.4 2405.2L1421.8 2405.8L1422.3 2406.5L1422.8 2406.7L1423.2 2407.3L1423.7 2407.6L1424.1 2408.1L1424.6 2407.8L1425 2407.8L1425.5 2408.2L1425.9 2408.8L1426.4 2409.4L1426.9 2409L1427.3 2408.5L1427.8 2409L1428.2 2408.8L1428.7 2407.9L1429.1 2408.4L1429.6 2407.9L1430 2408.6L1430.5 2407.8L1431 2408.4L1431.4 2407.1L1431.9 2406.6L1432.3 2405.1L1432.8 2403.9L1433.2 2401.5L1433.7 2398.4L1434.1 2394.8L1434.6 2390.9L1435.1 2389.7L1435.5 2390.1L1436 2390.1L1436.4 2391L1436.9 2392.2L1437.3 2393.3L1437.8 2394L1438.2 2395.8L1438.7 2396.6L1439.2 2397.7L1439.6 2398.7L1440.1 2399.5L1440.5 2399.7L1441 2399.5L1441.4 2401.3L1441.9 2400.8L1442.3 2402.3L1442.8 2401.6L1443.3 2402.5L1443.7 2401.8L1444.2 2402.7L1444.6 2403.2L1445.1 2403.9L1445.5 2403.3L1446 2403.9L1446.4 2404.1L1446.9 2404.5L1447.4 2405.6L1447.8 2405.5L1448.3 2405.5L1448.7 2405.8L1449.2 2405.5L1449.6 2406.8L1450.1 2406.2L1450.5 2405.7L1451 2406.3L1451.5 2405.9L1451.9 2406.5L1452.4 2405.7L1452.8 2405.9L1453.3 2405.9L1453.7 2405.3L1454.2 2404.6L1454.6 2405L1455.1 2404.2L1455.6 2403.8L1456 2405.2L1456.5 2404.8L1456.9 2405L1457.4 2405.1L1457.8 2404.8L1458.3 2405.8L1458.7 2406L1459.2 2406.2L1459.7 2406.9L1460.1 2406.7L1460.6 2407.5L1461 2408.8L1461.5 2408.3L1461.9 2408.4L1462.4 2409.5L1462.8 2409.3L1463.3 2409.1L1463.8 2409.9L1464.2 2409.9L1464.7 2410.2L1465.1 2409.6L1465.6 2409.9L1466 2410L1466.5 2410.1L1466.9 2409.8L1467.4 2410.3L1467.9 2410.1L1468.3 2410.6L1468.8 2410.8L1469.2 2409.9L1469.7 2411L1470.1 2410.3L1470.6 2410.2L1471 2410.8L1471.5 2410.4L1472 2410.5L1472.4 2410.9L1472.9 2410.8L1473.3 2409.9L1473.8 2411.1L1474.2 2411.1L1474.7 2410.6L1475.1 2410.3L1475.6 2411L1476.1 2411.2L1476.5 2411L1477 2411L1477.4 2410.9L1477.9 2411.5L1478.3 2411.1L1478.8 2410.6L1479.2 2411.1L1479.7 2410.9L1480.2 2411.3L1480.6 2411.5L1481.1 2411.1L1481.5 2410L1482 2410.5L1482.4 2410.8L1482.9 2411.3L1483.3 2410.5L1483.8 2410.6L1484.3 2411L1484.7 2411.2L1485.2 2410L1485.6 2411.5L1486.1 2410.9L1486.5 2411.2L1487 2410.4L1487.4 2411.1L1487.9 2410.9L1488.4 2410.5L1488.8 2410.8L1489.3 2410.6L1489.7 2410.3L1490.2 2410.8L1490.6 2410.5L1491.1 2411L1491.5 2410.4L1492 2410.4L1492.5 2410.7L1492.9 2410.8L1493.4 2410.8L1493.8 2410.7L1494.3 2410.3L1494.7 2410.3L1495.2 2411L1495.6 2410.1L1496.1 2410.6L1496.6 2409.4L1497 2410.2L1497.5 2409.3L1497.9 2410L1498.4 2409.7L1498.8 2409.9L1499.3 2409.7L1499.7 2409.3L1500.2 2409L1500.7 2409.2L1501.1 2408.4L1501.6 2408.8L1502 2408.9L1502.5 2407.9L1502.9 2408.6L1503.4 2408.4L1503.8 2407.6L1504.3 2407.2L1504.8 2407.7L1505.2 2407.1L1505.7 2406.7L1506.1 2406.4L1506.6 2406.5L1507 2406.1L1507.5 2405.6L1507.9 2405.4L1508.4 2405.9L1508.9 2404.8L1509.3 2404.1L1509.8 2404.8L1510.2 2404.3L1510.7 2404.6L1511.1 2404.7L1511.6 2404.2L1512 2404.9L1512.5 2404.5L1513 2404.4L1513.4 2404.9L1513.9 2404.8L1514.3 2404.8L1514.8 2404.5L1515.2 2404.4L1515.7 2404.1L1516.1 2404.6L1516.6 2404.4L1517.1 2404.1L1517.5 2404.1L1518 2405L1518.4 2404.7L1518.9 2404.4L1519.3 2405.5L1519.8 2406.1L1520.2 2405.7L1520.7 2405.8L1521.2 2406.9L1521.6 2407.6L1522.1 2406.9L1522.5 2407.6L1523 2408.3L1523.4 2408.4L1523.9 2408.9L1524.3 2408.3L1524.8 2408.3L1525.3 2408.9L1525.7 2408.9L1526.2 2408.9L1526.6 2409.6L1527.1 2409.5L1527.5 2409.4L1528 2409.7L1528.4 2409.8L1528.9 2409.6L1529.4 2410L1529.8 2409.3L1530.3 2409.6L1530.7 2409.7L1531.2 2409.8L1531.6 2410.1L1532.1 2409.6L1532.5 2410L1533 2409.7L1533.5 2409.3L1533.9 2409.4L1534.4 2409.2L1534.8 2409.1L1535.3 2408L1535.7 2408.2L1536.2 2407.9L1536.6 2407.8L1537.1 2407.3L1537.6 2407L1538 2407.2L1538.5 2406.7L1538.9 2406L1539.4 2406.1L1539.8 2405.8L1540.3 2406.2L1540.7 2406.5L1541.2 2406.6L1541.7 2406.6L1542.1 2407.3L1542.6 2406.9L1543 2408.2L1543.5 2407.2L1543.9 2408L1544.4 2408.2L1544.8 2408.5L1545.3 2408.8L1545.8 2410L1546.2 2410L1546.7 2410L1547.1 2409.5L1547.6 2410.3L1548 2409.6L1548.5 2410.2L1548.9 2410.1L1549.4 2410.2L1549.9 2410.1L1550.3 2410.2L1550.8 2410.2L1551.2 2409.7L1551.7 2411L1552.1 2410.5L1552.6 2410.4L1553 2411.2L1553.5 2410.2L1554 2410.9L1554.4 2410.8L1554.9 2410.6L1555.3 2410.5L1555.8 2410.7L1556.2 2410.5L1556.7 2410.7L1557.1 2411.1L1557.6 2410.9L1558.1 2411.2L1558.5 2410.9L1559 2411.3L1559.4 2411.6L1559.9 2410.9L1560.3 2410.7L1560.8 2410.5L1561.2 2410.6L1561.7 2411.3L1562.1 2411.3L1562.6 2410.8L1563.1 2411.6L1563.5 2411.4L1564 2410.6L1564.4 2410.7L1564.9 2410.3L1565.3 2411.4L1565.8 2411.3L1566.2 2410.6L1566.7 2410.7L1567.2 2411.3L1567.6 2410.7L1568.1 2411.3L1568.5 2410.9L1569 2410.4L1569.4 2410.1L1569.9 2411.4L1570.3 2410.5L1570.8 2411L1571.3 2411.4L1571.7 2411L1572.2 2410.9L1572.6 2410.3L1573.1 2410.7L1573.5 2411.2L1574 2411.2L1574.4 2410.9L1574.9 2410.6L1575.4 2411.3L1575.8 2410.5L1576.3 2411.1L1576.7 2411.3L1577.2 2411.2L1577.6 2410.8L1578.1 2411.2L1578.5 2410.6L1579 2410.9L1579.5 2410.9L1579.9 2410.6L1580.4 2410.8L1580.8 2410.6L1581.3 2410.7L1581.7 2410.1L1582.2 2410.9L1582.6 2410.5L1583.1 2411L1583.6 2410.7L1584 2410.7L1584.5 2410.5L1584.9 2410.6L1585.4 2410.6L1585.8 2410.6L1586.3 2411.1L1586.7 2411.4L1587.2 2410.6L1587.7 2411.2L1588.1 2410.9L1588.6 2410.8L1589 2410.5L1589.5 2410.4L1589.9 2410.8L1590.4 2410.3L1590.8 2410.7L1591.3 2410.5L1591.8 2410.5L1592.2 2409.4L1592.7 2409.8L1593.1 2410.1L1593.6 2409.8L1594 2410L1594.5 2409.3L1594.9 2409L1595.4 2408.2L1595.9 2408.8L1596.3 2408.5L1596.8 2407.8L1597.2 2407.6L1597.7 2406.8L1598.1 2406.9L1598.6 2406.3L1599 2406L1599.5 2405.5L1600 2405.3L1600.4 2404.9L1600.9 2405.6L1601.3 2405.4L1601.8 2405.2L1602.2 2405.9L1602.7 2406.1L1603.1 2405.5L1603.6 2406.6L1604.1 2407.4L1604.5 2407.7L1605 2407.5L1605.4 2407.7L1605.9 2407.3L1606.3 2407.7L1606.8 2407.3L1607.2 2408.1L1607.7 2409L1608.2 2409.3L1608.6 2408.6L1609.1 2409.4L1609.5 2409.4L1610 2409.4L1610.4 2409.2L1610.9 2410L1611.3 2410.3L1611.8 2410.4L1612.3 2410.3L1612.7 2409.6L1613.2 2410.9L1613.6 2410.1L1614.1 2410.3L1614.5 2410.7L1615 2410.1L1615.4 2410.5L1615.9 2410.4L1616.4 2410.9L1616.8 2409.9L1617.3 2410.7L1617.7 2410.6L1618.2 2410.9L1618.6 2409.9L1619.1 2410.1L1619.5 2410.4L1620 2411L1620.5 2411L1620.9 2410.6L1621.4 2410.8L1621.8 2410.6L1622.3 2410.9L1622.7 2410.2L1623.2 2410.9L1623.6 2411.3L1624.1 2410.8L1624.6 2410.6L1625 2410.8L1625.5 2411.1L1625.9 2411L1626.4 2411.1L1626.8 2411L1627.3 2410.6L1627.7 2410.5L1628.2 2411.3L1628.7 2411.4L1629.1 2411.3L1629.6 2410.8L1630 2410.7L1630.5 2411.3L1630.9 2411L1631.4 2411.6L1631.8 2410.9L1632.3 2411.3L1632.8 2411.4L1633.2 2411.4L1633.7 2411.3L1634.1 2411.7L1634.6 2411.2L1635 2411.7L1635.5 2411.7L1635.9 2411.7L1636.4 2411.4L1636.9 2411.4L1637.3 2411.7L1637.8 2411.9L1638.2 2411.2L1638.7 2411.6L1639.1 2411.4L1639.6 2411.9L1640 2411.4L1640.5 2411.7L1641 2411.2L1641.4 2411.3L1641.9 2412.1L1642.3 2410.9L1642.8 2411.2L1643.2 2411.6L1643.7 2411.3L1644.1 2411.5L1644.6 2411.2L1645.1 2411.1L1645.5 2411.7L1646 2410.6L1646.4 2411.1L1646.9 2411L1647.3 2410.8L1647.8 2410.4L1648.2 2409.3L1648.7 2409.3L1649.2 2409.3L1649.6 2409.2L1650.1 2408.7L1650.5 2408.2L1651 2408.2L1651.4 2407.6L1651.9 2407.6L1652.3 2407.4L1652.8 2406.5L1653.3 2406.8L1653.7 2407L1654.2 2406.5L1654.6 2405.9L1655.1 2405.8L1655.5 2406.3L1656 2407.2L1656.4 2407.4L1656.9 2408.6L1657.4 2408.6L1657.8 2409.1L1658.3 2409.1L1658.7 2408.9L1659.2 2410.1L1659.6 2410.2L1660.1 2410.3L1660.5 2411.4L1661 2410.9L1661.5 2411.2L1661.9 2411.3L1662.4 2411.3L1662.8 2411.9L1663.3 2411.4L1663.7 2412.1L1664.2 2412.1L1664.6 2412L1665.1 2412.2L1665.6 2411.8L1666 2412.2L1666.5 2412.1L1666.9 2411.5L1667.4 2411.5L1667.8 2411.6L1668.3 2411.5L1668.7 2411.2L1669.2 2411.7L1669.7 2411.1L1670.1 2410.8L1670.6 2410.8L1671 2410.1L1671.5 2410.3L1671.9 2409.8L1672.4 2409.6L1672.8 2408.9L1673.3 2408.8L1673.8 2408.7L1674.2 2408.2L1674.7 2408L1675.1 2407.7L1675.6 2407.1L1676 2406.7L1676.5 2406.4L1676.9 2406L1677.4 2406L1677.9 2405.8L1678.3 2406L1678.8 2406.1L1679.2 2405.3L1679.7 2406.1L1680.1 2405.6L1680.6 2405.8L1681 2406.3L1681.5 2406.6L1682 2407L1682.4 2406.3L1682.9 2406.1L1683.3 2407.1L1683.8 2406.1L1684.2 2405.9L1684.7 2406.1L1685.1 2406.4L1685.6 2405.9L1686.1 2405.4L1686.5 2405.7L1687 2405.2L1687.4 2404.8L1687.9 2405.7L1688.3 2404.3L1688.8 2405.2L1689.2 2404.8L1689.7 2404.8L1690.2 2404.7L1690.6 2404.1L1691.1 2404.4L1691.5 2404.1L1692 2403.9L1692.4 2404L1692.9 2403.5L1693.3 2403L1693.8 2403.1L1694.3 2402.3L1694.7 2401.3L1695.2 2400.6L1695.6 2400.5L1696.1 2399.5L1696.5 2399.4L1697 2399.1L1697.4 2398.8L1697.9 2399.3L1698.4 2399.4L1698.8 2400.6L1699.3 2401.6L1699.7 2402.3L1700.2 2403.5L1700.6 2404.3L1701.1 2405.1L1701.5 2405.7L1702 2406.4L1702.5 2406.9L1702.9 2407.8L1703.4 2408.3L1703.8 2408.8L1704.3 2408.8L1704.7 2409.5L1705.2 2409.4L1705.6 2409.1L1706.1 2409.4L1706.6 2409.6L1707 2409.3L1707.5 2410L1707.9 2409.1L1708.4 2409.6L1708.8 2409.4L1709.3 2408.8L1709.7 2408.5L1710.2 2409L1710.7 2409L1711.1 2408.6L1711.6 2408.7L1712 2407.8L1712.5 2407.3L1712.9 2406.9L1713.4 2407L1713.8 2406.1L1714.3 2405.2L1714.8 2405.4L1715.2 2405L1715.7 2405.6L1716.1 2405.2L1716.6 2404.9L1717 2405.4L1717.5 2405.4L1717.9 2406.7L1718.4 2407L1718.9 2407.1L1719.3 2407.5L1719.8 2408.1L1720.2 2408.6L1720.7 2408.7L1721.1 2409.2L1721.6 2408.9L1722 2408.9L1722.5 2409.8L1723 2409.8L1723.4 2409.8L1723.9 2410.6L1724.3 2410.3L1724.8 2410.5L1725.2 2410.5L1725.7 2410.4L1726.1 2410.5L1726.6 2410.8L1727.1 2410.2L1727.5 2411L1728 2410.4L1728.4 2411L1728.9 2410L1729.3 2411L1729.8 2410.9L1730.2 2411.3L1730.7 2410.3L1731.2 2410.7L1731.6 2411L1732.1 2410.8L1732.5 2410.8L1733 2410.6L1733.4 2411.1L1733.9 2410.7L1734.3 2410.7L1734.8 2410.5L1735.3 2410.8L1735.7 2410.5L1736.2 2410.6L1736.6 2410.3L1737.1 2410L1737.5 2409.7L1738 2410.7L1738.4 2410.5L1738.9 2409.7L1739.4 2409.8L1739.8 2410.3L1740.3 2409.4L1740.7 2409.6L1741.2 2408.9L1741.6 2409L1742.1 2409.1L1742.5 2409L1743 2408.5L1743.5 2408.2L1743.9 2408L1744.4 2408.4L1744.8 2407.4L1745.3 2408.1L1745.7 2406.9L1746.2 2407.1L1746.6 2406.9L1747.1 2406.4L1747.6 2406.7L1748 2406.2L1748.5 2406L1748.9 2405.8L1749.4 2406.4L1749.8 2406.5L1750.3 2406.2L1750.7 2406.9L1751.2 2407.2L1751.7 2406.9L1752.1 2407.5L1752.6 2407.7L1753 2408L1753.5 2408.2L1753.9 2408.6L1754.4 2408.7L1754.8 2408.4L1755.3 2409.3L1755.8 2408.9L1756.2 2408.9L1756.7 2409.7L1757.1 2408.8L1757.6 2409.7L1758 2410.2L1758.5 2410L1758.9 2409.5L1759.4 2409.6"/>
</g>
</svg>
</body></html>
